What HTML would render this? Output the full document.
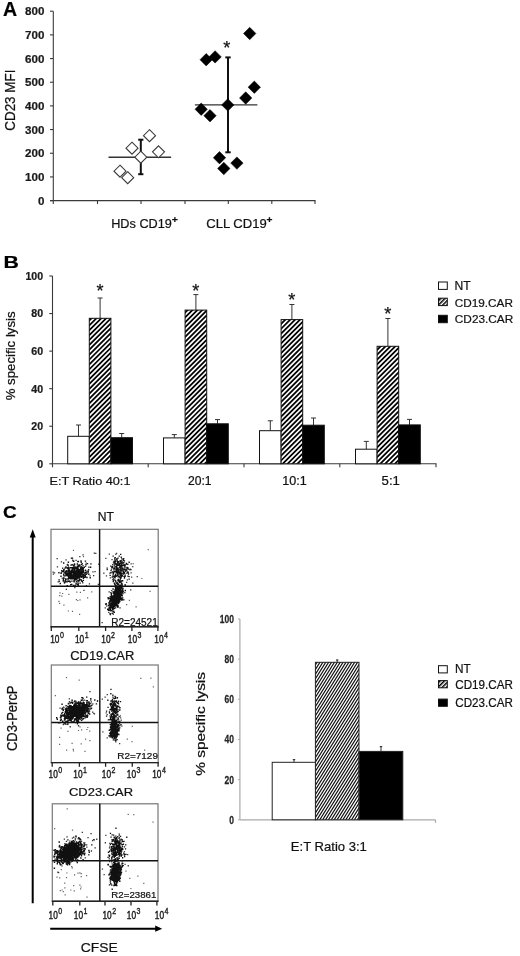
<!DOCTYPE html>
<html><head><meta charset="utf-8"><style>
html,body{margin:0;padding:0;background:#fff;}
svg{display:block;filter:grayscale(1) blur(0.3px);}
text{font-family:"Liberation Sans", sans-serif;stroke:#111;stroke-width:0.22px;paint-order:stroke;}
</style></head><body>
<svg width="520" height="956" viewBox="0 0 520 956">
<defs>
<pattern id="hB" patternUnits="userSpaceOnUse" width="3.45" height="3.45" patternTransform="rotate(45)"><rect x="0" y="0" width="1.75" height="3.45" fill="#000"/></pattern>
<pattern id="hL" patternUnits="userSpaceOnUse" width="3" height="3" patternTransform="rotate(45)"><rect x="0" y="0" width="1.5" height="3" fill="#000"/></pattern>
<pattern id="hC" patternUnits="userSpaceOnUse" width="2.35" height="2.35" patternTransform="rotate(32)"><rect x="0" y="0" width="1.0" height="2.35" fill="#111"/></pattern>
</defs>
<rect width="520" height="956" fill="#fff"/>
<text x="2.91" y="16.20" font-size="19.48" font-weight="bold" fill="#000" textLength="14.10" lengthAdjust="spacingAndGlyphs">A</text><line x1="53.3" y1="11.2" x2="53.3" y2="204.1" stroke="#3a3a3a" stroke-width="1.1"/><line x1="50" y1="200.6" x2="315.5" y2="200.6" stroke="#3a3a3a" stroke-width="1.1"/><line x1="50" y1="200.6" x2="53.3" y2="200.6" stroke="#3a3a3a" stroke-width="1.1"/><text x="44.4" y="204.70" font-size="11.6" font-weight="bold" text-anchor="end" fill="#1a1a1a">0</text><line x1="50" y1="176.92499999999998" x2="53.3" y2="176.92499999999998" stroke="#3a3a3a" stroke-width="1.1"/><text x="44.4" y="181.02" font-size="11.6" font-weight="bold" text-anchor="end" fill="#1a1a1a">100</text><line x1="50" y1="153.25" x2="53.3" y2="153.25" stroke="#3a3a3a" stroke-width="1.1"/><text x="44.4" y="157.35" font-size="11.6" font-weight="bold" text-anchor="end" fill="#1a1a1a">200</text><line x1="50" y1="129.575" x2="53.3" y2="129.575" stroke="#3a3a3a" stroke-width="1.1"/><text x="44.4" y="133.67" font-size="11.6" font-weight="bold" text-anchor="end" fill="#1a1a1a">300</text><line x1="50" y1="105.89999999999999" x2="53.3" y2="105.89999999999999" stroke="#3a3a3a" stroke-width="1.1"/><text x="44.4" y="110.00" font-size="11.6" font-weight="bold" text-anchor="end" fill="#1a1a1a">400</text><line x1="50" y1="82.225" x2="53.3" y2="82.225" stroke="#3a3a3a" stroke-width="1.1"/><text x="44.4" y="86.32" font-size="11.6" font-weight="bold" text-anchor="end" fill="#1a1a1a">500</text><line x1="50" y1="58.54999999999998" x2="53.3" y2="58.54999999999998" stroke="#3a3a3a" stroke-width="1.1"/><text x="44.4" y="62.65" font-size="11.6" font-weight="bold" text-anchor="end" fill="#1a1a1a">600</text><line x1="50" y1="34.875" x2="53.3" y2="34.875" stroke="#3a3a3a" stroke-width="1.1"/><text x="44.4" y="38.98" font-size="11.6" font-weight="bold" text-anchor="end" fill="#1a1a1a">700</text><line x1="50" y1="11.199999999999989" x2="53.3" y2="11.199999999999989" stroke="#3a3a3a" stroke-width="1.1"/><text x="44.4" y="15.30" font-size="11.6" font-weight="bold" text-anchor="end" fill="#1a1a1a">800</text><line x1="97.5" y1="200.6" x2="97.5" y2="204.1" stroke="#3a3a3a" stroke-width="1.1"/><line x1="141" y1="200.6" x2="141" y2="204.1" stroke="#3a3a3a" stroke-width="1.1"/><line x1="185" y1="200.6" x2="185" y2="204.1" stroke="#3a3a3a" stroke-width="1.1"/><line x1="228.3" y1="200.6" x2="228.3" y2="204.1" stroke="#3a3a3a" stroke-width="1.1"/><line x1="271.8" y1="200.6" x2="271.8" y2="204.1" stroke="#3a3a3a" stroke-width="1.1"/><line x1="315" y1="200.6" x2="315" y2="204.1" stroke="#3a3a3a" stroke-width="1.1"/><text x="0" y="0" font-size="13.96" fill="#111" textLength="61.12" lengthAdjust="spacingAndGlyphs" transform="translate(15.30 130.73) rotate(-90)">CD23 MFI</text><text x="111.21" y="227.90" font-size="12.96" fill="#111" textLength="60.64" lengthAdjust="spacingAndGlyphs">HDs CD19</text><text x="171.76" y="222.90" font-size="9.55" font-weight="bold" fill="#111" textLength="6.17" lengthAdjust="spacingAndGlyphs">+</text><text x="206.29" y="227.80" font-size="12.82" fill="#111" textLength="60.47" lengthAdjust="spacingAndGlyphs">CLL CD19</text><text x="266.57" y="222.90" font-size="9.55" font-weight="bold" fill="#111" textLength="5.94" lengthAdjust="spacingAndGlyphs">+</text><line x1="108.5" y1="157.2" x2="171.1" y2="157.2" stroke="#333" stroke-width="1.4"/><line x1="140.8" y1="139.7" x2="140.8" y2="174.2" stroke="#111" stroke-width="2"/><line x1="138.2" y1="139.7" x2="143.4" y2="139.7" stroke="#111" stroke-width="2"/><line x1="138.2" y1="174.2" x2="143.4" y2="174.2" stroke="#111" stroke-width="2"/><path d="M149.5 129.7L155.5 135.7L149.5 141.7L143.5 135.7Z" fill="#fff" stroke="#3a3a3a" stroke-width="1.1"/><path d="M132 142.2L138.0 148.2L132 154.2L126.0 148.2Z" fill="#fff" stroke="#3a3a3a" stroke-width="1.1"/><path d="M158.5 145.8L164.5 151.8L158.5 157.8L152.5 151.8Z" fill="#fff" stroke="#3a3a3a" stroke-width="1.1"/><path d="M120 165.2L126.0 171.2L120 177.2L114.0 171.2Z" fill="#fff" stroke="#3a3a3a" stroke-width="1.1"/><path d="M127.7 171.7L133.7 177.7L127.7 183.7L121.7 177.7Z" fill="#fff" stroke="#3a3a3a" stroke-width="1.1"/><path d="M140.8 151.2L146.8 157.2L140.8 163.2L134.8 157.2Z" fill="#fff" stroke="#3a3a3a" stroke-width="1.1"/><line x1="194.9" y1="104.9" x2="257.4" y2="104.9" stroke="#333" stroke-width="1.4"/><line x1="228" y1="57.4" x2="228" y2="152.3" stroke="#111" stroke-width="2"/><line x1="225.3" y1="57.4" x2="230.7" y2="57.4" stroke="#111" stroke-width="2"/><line x1="225.3" y1="152.3" x2="230.7" y2="152.3" stroke="#111" stroke-width="2"/><path d="M227.8 98.7L234.0 104.9L227.8 111.10000000000001L221.60000000000002 104.9Z" fill="#000" stroke="#000" stroke-width="0.5"/><path d="M249.7 27.3L255.89999999999998 33.5L249.7 39.7L243.5 33.5Z" fill="#000" stroke="#000" stroke-width="0.5"/><path d="M206.2 53.5L212.39999999999998 59.7L206.2 65.9L200.0 59.7Z" fill="#000" stroke="#000" stroke-width="0.5"/><path d="M215.1 50.699999999999996L221.29999999999998 56.9L215.1 63.1L208.9 56.9Z" fill="#000" stroke="#000" stroke-width="0.5"/><path d="M254.3 81.0L260.5 87.2L254.3 93.4L248.10000000000002 87.2Z" fill="#000" stroke="#000" stroke-width="0.5"/><path d="M245.7 91.8L251.89999999999998 98L245.7 104.2L239.5 98Z" fill="#000" stroke="#000" stroke-width="0.5"/><path d="M201.2 103.0L207.39999999999998 109.2L201.2 115.4L195.0 109.2Z" fill="#000" stroke="#000" stroke-width="0.5"/><path d="M210 109.5L216.2 115.7L210 121.9L203.8 115.7Z" fill="#000" stroke="#000" stroke-width="0.5"/><path d="M219.5 151.5L225.7 157.7L219.5 163.89999999999998L213.3 157.7Z" fill="#000" stroke="#000" stroke-width="0.5"/><path d="M236.9 156.9L243.1 163.1L236.9 169.29999999999998L230.70000000000002 163.1Z" fill="#000" stroke="#000" stroke-width="0.5"/><path d="M223.8 162.3L230.0 168.5L223.8 174.7L217.60000000000002 168.5Z" fill="#000" stroke="#000" stroke-width="0.5"/><text x="226.9" y="53.83" font-size="18.2" text-anchor="middle" fill="#111">*</text><text x="3.57" y="267.50" font-size="16.28" font-weight="bold" fill="#000" textLength="15.39" lengthAdjust="spacingAndGlyphs">B</text><line x1="52.5" y1="276.0" x2="52.5" y2="467.3" stroke="#3a3a3a" stroke-width="1.1"/><line x1="52.5" y1="463.8" x2="436.5" y2="463.8" stroke="#3a3a3a" stroke-width="1.1"/><line x1="49.3" y1="463.8" x2="52.5" y2="463.8" stroke="#3a3a3a" stroke-width="1.1"/><text x="43.1" y="467.70" font-size="10.6" font-weight="bold" text-anchor="end" fill="#1a1a1a">0</text><line x1="49.3" y1="426.24" x2="52.5" y2="426.24" stroke="#3a3a3a" stroke-width="1.1"/><text x="43.1" y="430.14" font-size="10.6" font-weight="bold" text-anchor="end" fill="#1a1a1a">20</text><line x1="49.3" y1="388.68" x2="52.5" y2="388.68" stroke="#3a3a3a" stroke-width="1.1"/><text x="43.1" y="392.58" font-size="10.6" font-weight="bold" text-anchor="end" fill="#1a1a1a">40</text><line x1="49.3" y1="351.12" x2="52.5" y2="351.12" stroke="#3a3a3a" stroke-width="1.1"/><text x="43.1" y="355.02" font-size="10.6" font-weight="bold" text-anchor="end" fill="#1a1a1a">60</text><line x1="49.3" y1="313.56" x2="52.5" y2="313.56" stroke="#3a3a3a" stroke-width="1.1"/><text x="43.1" y="317.46" font-size="10.6" font-weight="bold" text-anchor="end" fill="#1a1a1a">80</text><line x1="49.3" y1="276.0" x2="52.5" y2="276.0" stroke="#3a3a3a" stroke-width="1.1"/><text x="43.1" y="279.90" font-size="10.6" font-weight="bold" text-anchor="end" fill="#1a1a1a">100</text><line x1="148.2" y1="463.8" x2="148.2" y2="467.3" stroke="#3a3a3a" stroke-width="1.1"/><line x1="244" y1="463.8" x2="244" y2="467.3" stroke="#3a3a3a" stroke-width="1.1"/><line x1="339.8" y1="463.8" x2="339.8" y2="467.3" stroke="#3a3a3a" stroke-width="1.1"/><line x1="436" y1="463.8" x2="436" y2="467.3" stroke="#3a3a3a" stroke-width="1.1"/><text x="0" y="0" font-size="13.18" fill="#111" textLength="88.95" lengthAdjust="spacingAndGlyphs" transform="translate(14.90 400.32) rotate(-90)">% specific lysis</text><line x1="78.5" y1="425.0" x2="78.5" y2="436.3" stroke="#333" stroke-width="1"/><line x1="76.0" y1="425.0" x2="81.0" y2="425.0" stroke="#333" stroke-width="1"/><rect x="67.7" y="436.3" width="21.6" height="27.5" fill="#fff" stroke="#111" stroke-width="1"/><line x1="100.10000000000001" y1="298.0" x2="100.10000000000001" y2="318.3" stroke="#333" stroke-width="1"/><line x1="97.60000000000001" y1="298.0" x2="102.60000000000001" y2="298.0" stroke="#333" stroke-width="1"/><rect x="89.30000000000001" y="318.3" width="21.6" height="145.5" fill="#fff"/><clipPath id="c1"><rect x="89.30000000000001" y="318.3" width="21.6" height="145.5"/></clipPath><path clip-path="url(#c1)" d="M-68.22 473.18L182.23 222.73M-65.78 475.62L184.67 225.17M-63.34 478.06L187.11 227.61M-60.91 480.50L189.55 230.04M-58.47 482.94L191.99 232.48M-56.03 485.38L194.43 234.92M-53.59 487.82L196.87 237.36M-51.15 490.26L199.31 239.80M-48.71 492.70L201.75 242.24M-46.27 495.14L204.19 244.68M-43.83 497.58L206.63 247.12M-41.39 500.02L209.07 249.56M-38.95 502.46L211.51 252.00M-36.51 504.90L213.95 254.44M-34.07 507.34L216.39 256.88M-31.63 509.78L218.83 259.32M-29.19 512.22L221.27 261.76M-26.75 514.66L223.71 264.20M-24.31 517.09L226.14 266.64M-21.87 519.53L228.58 269.08M-19.43 521.97L231.02 271.52M-16.99 524.41L233.46 273.96M-14.55 526.85L235.90 276.40M-12.11 529.29L238.34 278.84M-9.68 531.73L240.78 281.27M-7.24 534.17L243.22 283.71M-4.80 536.61L245.66 286.15M-2.36 539.05L248.10 288.59M0.08 541.49L250.54 291.03M2.52 543.93L252.98 293.47M4.96 546.37L255.42 295.91M7.40 548.81L257.86 298.35M9.84 551.25L260.30 300.79M12.28 553.69L262.74 303.23M14.72 556.13L265.18 305.67M17.16 558.57L267.62 308.11" stroke="#000" stroke-width="1.75" fill="none"/><rect x="89.30000000000001" y="318.3" width="21.6" height="145.5" fill="none" stroke="#111" stroke-width="1"/><line x1="121.7" y1="433.5" x2="121.7" y2="437.7" stroke="#333" stroke-width="1"/><line x1="119.2" y1="433.5" x2="124.2" y2="433.5" stroke="#333" stroke-width="1"/><rect x="110.9" y="437.7" width="21.6" height="26.100000000000023" fill="#000" stroke="#111" stroke-width="1"/><text x="100.10000000000001" y="296.93" font-size="18.2" text-anchor="middle" fill="#111">*</text><line x1="174.3" y1="434.6" x2="174.3" y2="437.9" stroke="#333" stroke-width="1"/><line x1="171.8" y1="434.6" x2="176.8" y2="434.6" stroke="#333" stroke-width="1"/><rect x="163.5" y="437.9" width="21.6" height="25.900000000000034" fill="#fff" stroke="#111" stroke-width="1"/><line x1="195.9" y1="294.6" x2="195.9" y2="310.1" stroke="#333" stroke-width="1"/><line x1="193.4" y1="294.6" x2="198.4" y2="294.6" stroke="#333" stroke-width="1"/><rect x="185.1" y="310.1" width="21.6" height="153.7" fill="#fff"/><clipPath id="c2"><rect x="185.1" y="310.1" width="21.6" height="153.7"/></clipPath><path clip-path="url(#c2)" d="M19.84 472.94L281.89 210.89M22.28 475.38L284.33 213.33M24.72 477.82L286.77 215.77M27.16 480.26L289.21 218.21M29.60 482.70L291.65 220.65M32.04 485.14L294.09 223.09M34.48 487.58L296.53 225.53M36.92 490.02L298.97 227.97M39.36 492.46L301.41 230.41M41.80 494.90L303.85 232.85M44.23 497.34L306.29 235.28M46.67 499.78L308.73 237.72M49.11 502.22L311.17 240.16M51.55 504.66L313.61 242.60M53.99 507.10L316.05 245.04M56.43 509.54L318.49 247.48M58.87 511.98L320.93 249.92M61.31 514.42L323.37 252.36M63.75 516.85L325.80 254.80M66.19 519.29L328.24 257.24M68.63 521.73L330.68 259.68M71.07 524.17L333.12 262.12M73.51 526.61L335.56 264.56M75.95 529.05L338.00 267.00M78.39 531.49L340.44 269.44M80.83 533.93L342.88 271.88M83.27 536.37L345.32 274.32M85.71 538.81L347.76 276.76M88.15 541.25L350.20 279.20M90.59 543.69L352.64 281.64M93.03 546.13L355.08 284.08M95.46 548.57L357.52 286.51M97.90 551.01L359.96 288.95M100.34 553.45L362.40 291.39M102.78 555.89L364.84 293.83M105.22 558.33L367.28 296.27M107.66 560.77L369.72 298.71M110.10 563.21L372.16 301.15" stroke="#000" stroke-width="1.75" fill="none"/><rect x="185.1" y="310.1" width="21.6" height="153.7" fill="none" stroke="#111" stroke-width="1"/><line x1="217.5" y1="419.6" x2="217.5" y2="423.8" stroke="#333" stroke-width="1"/><line x1="215.0" y1="419.6" x2="220.0" y2="419.6" stroke="#333" stroke-width="1"/><rect x="206.7" y="423.8" width="21.6" height="40.0" fill="#000" stroke="#111" stroke-width="1"/><text x="195.9" y="297.13" font-size="18.2" text-anchor="middle" fill="#111">*</text><line x1="270.3" y1="420.8" x2="270.3" y2="430.7" stroke="#333" stroke-width="1"/><line x1="267.8" y1="420.8" x2="272.8" y2="420.8" stroke="#333" stroke-width="1"/><rect x="259.5" y="430.7" width="21.6" height="33.10000000000002" fill="#fff" stroke="#111" stroke-width="1"/><line x1="291.90000000000003" y1="304.5" x2="291.90000000000003" y2="319.6" stroke="#333" stroke-width="1"/><line x1="289.40000000000003" y1="304.5" x2="294.40000000000003" y2="304.5" stroke="#333" stroke-width="1"/><rect x="281.1" y="319.6" width="21.6" height="144.2" fill="#fff"/><clipPath id="c3"><rect x="281.1" y="319.6" width="21.6" height="144.2"/></clipPath><path clip-path="url(#c3)" d="M125.85 474.27L374.47 225.65M128.29 476.71L376.91 228.09M130.73 479.15L379.35 230.53M133.17 481.59L381.79 232.97M135.61 484.03L384.23 235.41M138.05 486.47L386.67 237.85M140.49 488.91L389.11 240.29M142.93 491.35L391.55 242.73M145.37 493.79L393.99 245.17M147.81 496.23L396.43 247.61M150.25 498.67L398.87 250.05M152.69 501.10L401.30 252.49M155.13 503.54L403.74 254.93M157.57 505.98L406.18 257.37M160.00 508.42L408.62 259.80M162.44 510.86L411.06 262.24M164.88 513.30L413.50 264.68M167.32 515.74L415.94 267.12M169.76 518.18L418.38 269.56M172.20 520.62L420.82 272.00M174.64 523.06L423.26 274.44M177.08 525.50L425.70 276.88M179.52 527.94L428.14 279.32M181.96 530.38L430.58 281.76M184.40 532.82L433.02 284.20M186.84 535.26L435.46 286.64M189.28 537.70L437.90 289.08M191.72 540.14L440.34 291.52M194.16 542.58L442.78 293.96M196.60 545.02L445.22 296.40M199.04 547.46L447.66 298.84M201.48 549.90L450.10 301.28M203.92 552.33L452.53 303.72M206.36 554.77L454.97 306.16M208.80 557.21L457.41 308.60M211.23 559.65L459.85 311.03" stroke="#000" stroke-width="1.75" fill="none"/><rect x="281.1" y="319.6" width="21.6" height="144.2" fill="none" stroke="#111" stroke-width="1"/><line x1="313.5" y1="418.0" x2="313.5" y2="425.2" stroke="#333" stroke-width="1"/><line x1="311.0" y1="418.0" x2="316.0" y2="418.0" stroke="#333" stroke-width="1"/><rect x="302.7" y="425.2" width="21.6" height="38.60000000000002" fill="#000" stroke="#111" stroke-width="1"/><text x="291.9" y="306.03" font-size="18.2" text-anchor="middle" fill="#111">*</text><line x1="366.3" y1="441.4" x2="366.3" y2="449.2" stroke="#333" stroke-width="1"/><line x1="363.8" y1="441.4" x2="368.8" y2="441.4" stroke="#333" stroke-width="1"/><rect x="355.5" y="449.2" width="21.6" height="14.600000000000023" fill="#fff" stroke="#111" stroke-width="1"/><line x1="387.90000000000003" y1="318.5" x2="387.90000000000003" y2="346.3" stroke="#333" stroke-width="1"/><line x1="385.40000000000003" y1="318.5" x2="390.40000000000003" y2="318.5" stroke="#333" stroke-width="1"/><rect x="377.1" y="346.3" width="21.6" height="117.5" fill="#fff"/><clipPath id="c4"><rect x="377.1" y="346.3" width="21.6" height="117.5"/></clipPath><path clip-path="url(#c4)" d="M247.04 475.05L457.90 264.19M249.48 477.49L460.34 266.63M251.92 479.93L462.78 269.07M254.36 482.37L465.22 271.51M256.80 484.81L467.66 273.95M259.24 487.25L470.10 276.39M261.68 489.69L472.54 278.83M264.12 492.13L474.98 281.27M266.56 494.57L477.42 283.71M269.00 497.01L479.86 286.15M271.44 499.45L482.30 288.59M273.88 501.89L484.74 291.03M276.32 504.33L487.18 293.47M278.76 506.77L489.62 295.91M281.20 509.21L492.06 298.35M283.64 511.65L494.50 300.79M286.08 514.09L496.94 303.23M288.52 516.53L499.38 305.67M290.96 518.96L501.81 308.11M293.39 521.40L504.25 310.54M295.83 523.84L506.69 312.98M298.27 526.28L509.13 315.42M300.71 528.72L511.57 317.86M303.15 531.16L514.01 320.30M305.59 533.60L516.45 322.74M308.03 536.04L518.89 325.18M310.47 538.48L521.33 327.62M312.91 540.92L523.77 330.06M315.35 543.36L526.21 332.50M317.79 545.80L528.65 334.94" stroke="#000" stroke-width="1.75" fill="none"/><rect x="377.1" y="346.3" width="21.6" height="117.5" fill="none" stroke="#111" stroke-width="1"/><line x1="409.5" y1="419.4" x2="409.5" y2="424.9" stroke="#333" stroke-width="1"/><line x1="407.0" y1="419.4" x2="412.0" y2="419.4" stroke="#333" stroke-width="1"/><rect x="398.7" y="424.9" width="21.6" height="38.900000000000034" fill="#000" stroke="#111" stroke-width="1"/><text x="387.9" y="319.53" font-size="18.2" text-anchor="middle" fill="#111">*</text><rect x="438.5" y="282" width="8.8" height="7.4" fill="#fff" stroke="#111" stroke-width="1"/><text x="454.45" y="289.90" font-size="11.85" fill="#111" textLength="16.17" lengthAdjust="spacingAndGlyphs">NT</text><rect x="438.5" y="298.2" width="8.8" height="7.4" fill="url(#hL)" stroke="#111" stroke-width="1"/><text x="454.85" y="307.20" font-size="11.67" fill="#111" textLength="58.04" lengthAdjust="spacingAndGlyphs">CD19.CAR</text><rect x="438.5" y="315.3" width="8.8" height="7.4" fill="#000" stroke="#111" stroke-width="1"/><text x="454.85" y="323.30" font-size="11.67" fill="#111" textLength="58.35" lengthAdjust="spacingAndGlyphs">CD23.CAR</text><text x="49.51" y="484.70" font-size="11.66" fill="#111" textLength="80.96" lengthAdjust="spacingAndGlyphs">E:T Ratio 40:1</text><text x="187.94" y="484.60" font-size="11.96" fill="#111" textLength="23.60" lengthAdjust="spacingAndGlyphs">20:1</text><text x="282.19" y="484.60" font-size="11.96" fill="#111" textLength="24.47" lengthAdjust="spacingAndGlyphs">10:1</text><text x="381.62" y="484.60" font-size="12.14" fill="#111" textLength="18.27" lengthAdjust="spacingAndGlyphs">5:1</text><text x="3.02" y="517.90" font-size="16.47" font-weight="bold" fill="#000" textLength="13.70" lengthAdjust="spacingAndGlyphs">C</text><line x1="32.7" y1="536" x2="32.7" y2="903.3" stroke="#000" stroke-width="2"/><path d="M32.7 529.2 L29.7 537.6 L35.7 537.6 Z" fill="#000"/><line x1="50.2" y1="928.7" x2="156" y2="928.7" stroke="#000" stroke-width="2"/><path d="M162.2 928.7 L155.2 925.6 L155.2 931.8 Z" fill="#000"/><text x="0" y="0" font-size="14.25" fill="#111" textLength="65.64" lengthAdjust="spacingAndGlyphs" transform="translate(17.20 751.11) rotate(-90)">CD3-PercP</text><text x="80.65" y="951.50" font-size="13.68" fill="#111" textLength="37.00" lengthAdjust="spacingAndGlyphs">CFSE</text><path d="M74.7 567.0h1.4v1.4h-1.4zM77.6 569.9h1.4v1.4h-1.4zM71.4 567.4h1.4v1.4h-1.4zM68.4 571.0h1.4v1.4h-1.4zM81.5 563.1h1.4v1.4h-1.4zM65.5 574.8h1.4v1.4h-1.4zM82.4 575.0h1.4v1.4h-1.4zM63.0 562.3h1.4v1.4h-1.4zM76.1 569.5h1.4v1.4h-1.4zM67.5 578.0h1.4v1.4h-1.4zM80.4 573.2h1.4v1.4h-1.4zM75.4 574.9h1.4v1.4h-1.4zM83.2 575.1h1.4v1.4h-1.4zM77.0 575.3h1.4v1.4h-1.4zM64.9 579.6h1.4v1.4h-1.4zM79.5 575.0h1.4v1.4h-1.4zM62.6 571.0h1.4v1.4h-1.4zM78.9 564.3h1.4v1.4h-1.4zM72.9 577.8h1.4v1.4h-1.4zM66.4 581.0h1.4v1.4h-1.4zM77.2 572.1h1.4v1.4h-1.4zM75.9 575.8h1.4v1.4h-1.4zM74.7 578.2h1.4v1.4h-1.4zM70.2 571.4h1.4v1.4h-1.4zM80.0 572.6h1.4v1.4h-1.4zM68.9 577.7h1.4v1.4h-1.4zM82.5 570.3h1.4v1.4h-1.4zM66.0 573.0h1.4v1.4h-1.4zM73.1 571.7h1.4v1.4h-1.4zM82.1 567.7h1.4v1.4h-1.4zM81.3 566.6h1.4v1.4h-1.4zM69.4 576.3h1.4v1.4h-1.4zM80.5 576.4h1.4v1.4h-1.4zM76.0 573.5h1.4v1.4h-1.4zM74.9 575.6h1.4v1.4h-1.4zM73.0 574.4h1.4v1.4h-1.4zM77.3 572.7h1.4v1.4h-1.4zM78.4 575.2h1.4v1.4h-1.4zM85.7 573.6h1.4v1.4h-1.4zM71.5 571.5h1.4v1.4h-1.4zM73.9 577.2h1.4v1.4h-1.4zM72.0 574.9h1.4v1.4h-1.4zM84.7 560.4h1.4v1.4h-1.4zM67.5 574.6h1.4v1.4h-1.4zM76.3 573.9h1.4v1.4h-1.4zM71.5 576.2h1.4v1.4h-1.4zM75.6 570.5h1.4v1.4h-1.4zM88.1 573.5h1.4v1.4h-1.4zM70.8 572.8h1.4v1.4h-1.4zM72.7 572.8h1.4v1.4h-1.4zM58.2 572.0h1.4v1.4h-1.4zM79.8 567.2h1.4v1.4h-1.4zM73.6 577.4h1.4v1.4h-1.4zM79.0 579.4h1.4v1.4h-1.4zM64.1 572.2h1.4v1.4h-1.4zM72.0 576.0h1.4v1.4h-1.4zM80.3 560.2h1.4v1.4h-1.4zM80.3 565.9h1.4v1.4h-1.4zM78.0 565.9h1.4v1.4h-1.4zM75.0 578.4h1.4v1.4h-1.4zM73.1 573.9h1.4v1.4h-1.4zM78.6 573.3h1.4v1.4h-1.4zM73.5 580.1h1.4v1.4h-1.4zM80.1 571.2h1.4v1.4h-1.4zM89.9 566.5h1.4v1.4h-1.4zM79.3 571.4h1.4v1.4h-1.4zM74.8 576.2h1.4v1.4h-1.4zM75.3 575.8h1.4v1.4h-1.4zM65.1 566.8h1.4v1.4h-1.4zM77.6 568.3h1.4v1.4h-1.4zM68.0 566.7h1.4v1.4h-1.4zM81.3 575.8h1.4v1.4h-1.4zM82.5 568.0h1.4v1.4h-1.4zM74.0 567.8h1.4v1.4h-1.4zM78.4 579.9h1.4v1.4h-1.4zM68.8 580.6h1.4v1.4h-1.4zM79.7 571.7h1.4v1.4h-1.4zM62.6 580.3h1.4v1.4h-1.4zM73.4 570.3h1.4v1.4h-1.4zM76.3 574.7h1.4v1.4h-1.4zM82.7 567.6h1.4v1.4h-1.4zM80.6 579.3h1.4v1.4h-1.4zM82.4 571.5h1.4v1.4h-1.4zM69.7 578.0h1.4v1.4h-1.4zM74.7 573.5h1.4v1.4h-1.4zM82.3 571.1h1.4v1.4h-1.4zM60.7 572.3h1.4v1.4h-1.4zM63.2 577.6h1.4v1.4h-1.4zM75.8 570.1h1.4v1.4h-1.4zM73.9 576.8h1.4v1.4h-1.4zM74.5 579.0h1.4v1.4h-1.4zM73.6 577.8h1.4v1.4h-1.4zM82.7 579.7h1.4v1.4h-1.4zM70.1 577.3h1.4v1.4h-1.4zM63.1 568.9h1.4v1.4h-1.4zM62.6 578.8h1.4v1.4h-1.4zM66.9 573.5h1.4v1.4h-1.4zM72.9 573.0h1.4v1.4h-1.4zM70.6 574.3h1.4v1.4h-1.4zM84.4 572.4h1.4v1.4h-1.4zM77.1 577.3h1.4v1.4h-1.4zM72.9 567.3h1.4v1.4h-1.4zM70.8 578.2h1.4v1.4h-1.4zM64.5 571.0h1.4v1.4h-1.4zM79.8 576.2h1.4v1.4h-1.4zM74.0 576.7h1.4v1.4h-1.4zM75.0 567.5h1.4v1.4h-1.4zM64.9 570.8h1.4v1.4h-1.4zM79.4 570.0h1.4v1.4h-1.4zM68.8 569.9h1.4v1.4h-1.4zM65.1 573.2h1.4v1.4h-1.4zM67.2 575.2h1.4v1.4h-1.4zM60.3 575.6h1.4v1.4h-1.4zM70.3 564.4h1.4v1.4h-1.4zM78.2 571.4h1.4v1.4h-1.4zM61.1 570.0h1.4v1.4h-1.4zM75.7 570.8h1.4v1.4h-1.4zM78.5 576.1h1.4v1.4h-1.4zM77.9 574.2h1.4v1.4h-1.4zM81.7 575.4h1.4v1.4h-1.4zM76.6 563.3h1.4v1.4h-1.4zM79.2 578.6h1.4v1.4h-1.4zM72.3 571.0h1.4v1.4h-1.4zM85.3 564.1h1.4v1.4h-1.4zM76.7 583.9h1.4v1.4h-1.4zM68.6 576.6h1.4v1.4h-1.4zM84.9 571.6h1.4v1.4h-1.4zM77.3 576.9h1.4v1.4h-1.4zM68.7 573.0h1.4v1.4h-1.4zM75.7 576.6h1.4v1.4h-1.4zM73.8 572.1h1.4v1.4h-1.4zM68.1 571.8h1.4v1.4h-1.4zM79.2 573.1h1.4v1.4h-1.4zM69.1 569.5h1.4v1.4h-1.4zM89.5 577.0h1.4v1.4h-1.4zM77.7 560.8h1.4v1.4h-1.4zM77.6 574.9h1.4v1.4h-1.4zM83.8 574.2h1.4v1.4h-1.4zM73.6 575.4h1.4v1.4h-1.4zM62.7 578.6h1.4v1.4h-1.4zM75.9 569.6h1.4v1.4h-1.4zM81.7 580.7h1.4v1.4h-1.4zM65.9 570.6h1.4v1.4h-1.4zM75.7 573.7h1.4v1.4h-1.4zM71.7 568.7h1.4v1.4h-1.4zM86.3 576.8h1.4v1.4h-1.4zM67.1 567.4h1.4v1.4h-1.4zM83.9 576.7h1.4v1.4h-1.4zM84.6 575.9h1.4v1.4h-1.4zM68.9 574.6h1.4v1.4h-1.4zM61.5 570.6h1.4v1.4h-1.4zM73.7 575.4h1.4v1.4h-1.4zM69.8 572.8h1.4v1.4h-1.4zM76.7 574.5h1.4v1.4h-1.4zM77.7 573.7h1.4v1.4h-1.4zM72.1 576.8h1.4v1.4h-1.4zM74.3 569.2h1.4v1.4h-1.4zM70.4 573.3h1.4v1.4h-1.4zM73.4 573.8h1.4v1.4h-1.4zM74.0 573.8h1.4v1.4h-1.4zM73.2 567.3h1.4v1.4h-1.4zM76.4 577.6h1.4v1.4h-1.4zM76.5 571.9h1.4v1.4h-1.4zM76.6 568.4h1.4v1.4h-1.4zM63.0 574.1h1.4v1.4h-1.4zM68.6 576.8h1.4v1.4h-1.4zM67.7 561.5h1.4v1.4h-1.4zM68.0 580.7h1.4v1.4h-1.4zM71.8 566.9h1.4v1.4h-1.4zM69.6 575.7h1.4v1.4h-1.4zM76.9 573.6h1.4v1.4h-1.4zM82.6 575.6h1.4v1.4h-1.4zM73.9 575.7h1.4v1.4h-1.4zM83.6 576.7h1.4v1.4h-1.4zM79.9 567.6h1.4v1.4h-1.4zM73.1 576.4h1.4v1.4h-1.4zM72.3 578.0h1.4v1.4h-1.4zM77.5 576.9h1.4v1.4h-1.4zM72.8 584.8h1.4v1.4h-1.4zM81.2 571.4h1.4v1.4h-1.4zM74.5 584.8h1.4v1.4h-1.4zM72.0 577.2h1.4v1.4h-1.4zM79.7 572.6h1.4v1.4h-1.4zM67.2 574.4h1.4v1.4h-1.4zM76.1 578.0h1.4v1.4h-1.4zM78.5 572.8h1.4v1.4h-1.4zM79.0 575.1h1.4v1.4h-1.4zM75.2 573.2h1.4v1.4h-1.4zM72.6 576.3h1.4v1.4h-1.4zM67.9 570.6h1.4v1.4h-1.4zM74.0 566.3h1.4v1.4h-1.4zM71.5 564.0h1.4v1.4h-1.4zM70.0 575.9h1.4v1.4h-1.4zM77.3 572.5h1.4v1.4h-1.4zM72.7 566.6h1.4v1.4h-1.4zM84.6 574.5h1.4v1.4h-1.4zM80.3 568.5h1.4v1.4h-1.4zM72.9 564.8h1.4v1.4h-1.4zM78.5 576.9h1.4v1.4h-1.4zM63.0 573.6h1.4v1.4h-1.4zM77.7 564.6h1.4v1.4h-1.4zM63.4 569.0h1.4v1.4h-1.4zM70.4 566.9h1.4v1.4h-1.4zM74.2 574.1h1.4v1.4h-1.4zM77.7 575.9h1.4v1.4h-1.4zM82.7 577.6h1.4v1.4h-1.4zM66.4 571.3h1.4v1.4h-1.4zM67.9 568.6h1.4v1.4h-1.4zM73.5 573.1h1.4v1.4h-1.4zM76.8 565.5h1.4v1.4h-1.4zM66.8 573.5h1.4v1.4h-1.4zM72.8 571.7h1.4v1.4h-1.4zM73.6 569.6h1.4v1.4h-1.4zM78.1 574.3h1.4v1.4h-1.4zM73.5 570.0h1.4v1.4h-1.4zM73.0 560.6h1.4v1.4h-1.4zM68.3 573.6h1.4v1.4h-1.4zM65.3 574.6h1.4v1.4h-1.4zM74.9 566.6h1.4v1.4h-1.4zM72.5 571.7h1.4v1.4h-1.4zM76.7 575.6h1.4v1.4h-1.4zM73.8 569.1h1.4v1.4h-1.4zM73.2 572.8h1.4v1.4h-1.4zM78.3 574.0h1.4v1.4h-1.4zM69.8 567.1h1.4v1.4h-1.4zM71.8 569.8h1.4v1.4h-1.4zM67.6 573.0h1.4v1.4h-1.4zM71.2 573.7h1.4v1.4h-1.4zM77.0 570.9h1.4v1.4h-1.4zM87.5 570.5h1.4v1.4h-1.4zM80.4 573.1h1.4v1.4h-1.4zM80.5 561.6h1.4v1.4h-1.4zM69.6 574.5h1.4v1.4h-1.4zM77.5 583.4h1.4v1.4h-1.4zM75.9 578.7h1.4v1.4h-1.4zM78.4 577.0h1.4v1.4h-1.4zM77.0 572.1h1.4v1.4h-1.4zM77.0 567.8h1.4v1.4h-1.4zM80.9 567.8h1.4v1.4h-1.4zM75.4 582.6h1.4v1.4h-1.4zM72.7 573.2h1.4v1.4h-1.4zM80.7 572.6h1.4v1.4h-1.4zM69.3 574.6h1.4v1.4h-1.4zM77.4 576.0h1.4v1.4h-1.4zM69.5 581.4h1.4v1.4h-1.4zM83.7 572.3h1.4v1.4h-1.4zM75.6 570.9h1.4v1.4h-1.4zM82.2 569.1h1.4v1.4h-1.4zM77.9 570.5h1.4v1.4h-1.4zM70.0 576.6h1.4v1.4h-1.4zM81.7 572.3h1.4v1.4h-1.4zM70.1 577.0h1.4v1.4h-1.4zM73.7 574.4h1.4v1.4h-1.4zM82.8 577.5h1.4v1.4h-1.4zM71.0 583.7h1.4v1.4h-1.4zM74.0 576.6h1.4v1.4h-1.4zM70.2 573.1h1.4v1.4h-1.4zM63.9 582.0h1.4v1.4h-1.4zM81.9 566.8h1.4v1.4h-1.4zM65.3 566.3h1.4v1.4h-1.4zM80.8 570.4h1.4v1.4h-1.4zM73.6 571.6h1.4v1.4h-1.4zM73.3 568.1h1.4v1.4h-1.4zM74.1 566.4h1.4v1.4h-1.4zM73.6 574.4h1.4v1.4h-1.4zM76.7 571.7h1.4v1.4h-1.4zM68.8 574.1h1.4v1.4h-1.4zM71.2 580.4h1.4v1.4h-1.4zM78.5 572.1h1.4v1.4h-1.4zM71.3 570.0h1.4v1.4h-1.4zM68.6 571.8h1.4v1.4h-1.4zM75.7 575.2h1.4v1.4h-1.4zM77.3 582.3h1.4v1.4h-1.4zM69.9 573.4h1.4v1.4h-1.4zM90.2 563.2h1.4v1.4h-1.4zM71.0 574.0h1.4v1.4h-1.4zM74.9 574.8h1.4v1.4h-1.4zM72.6 574.8h1.4v1.4h-1.4zM74.3 576.5h1.4v1.4h-1.4zM63.0 569.8h1.4v1.4h-1.4zM74.0 568.3h1.4v1.4h-1.4zM67.9 576.4h1.4v1.4h-1.4zM70.2 576.2h1.4v1.4h-1.4zM78.3 574.1h1.4v1.4h-1.4zM76.9 572.3h1.4v1.4h-1.4zM65.8 573.5h1.4v1.4h-1.4zM76.6 570.4h1.4v1.4h-1.4zM73.4 576.5h1.4v1.4h-1.4zM68.9 576.3h1.4v1.4h-1.4zM84.8 569.6h1.4v1.4h-1.4zM74.8 572.2h1.4v1.4h-1.4zM82.9 573.7h1.4v1.4h-1.4zM79.2 569.4h1.4v1.4h-1.4zM73.9 573.0h1.4v1.4h-1.4zM63.7 580.4h1.4v1.4h-1.4zM79.2 564.6h1.4v1.4h-1.4zM78.3 572.1h1.4v1.4h-1.4zM76.6 574.5h1.4v1.4h-1.4zM65.3 572.7h1.4v1.4h-1.4zM82.7 569.7h1.4v1.4h-1.4zM68.1 567.2h1.4v1.4h-1.4zM66.9 575.1h1.4v1.4h-1.4zM83.8 574.2h1.4v1.4h-1.4zM75.4 583.1h1.4v1.4h-1.4zM71.0 570.2h1.4v1.4h-1.4zM77.1 575.3h1.4v1.4h-1.4zM68.1 568.1h1.4v1.4h-1.4zM75.7 574.0h1.4v1.4h-1.4zM66.4 572.7h1.4v1.4h-1.4zM70.9 575.4h1.4v1.4h-1.4zM73.3 572.7h1.4v1.4h-1.4zM71.9 578.0h1.4v1.4h-1.4zM82.1 570.7h1.4v1.4h-1.4zM78.9 569.1h1.4v1.4h-1.4zM74.4 576.4h1.4v1.4h-1.4zM82.8 570.6h1.4v1.4h-1.4zM73.6 573.9h1.4v1.4h-1.4zM65.3 573.8h1.4v1.4h-1.4zM70.1 575.0h1.4v1.4h-1.4zM67.4 564.5h1.4v1.4h-1.4zM74.2 574.2h1.4v1.4h-1.4zM70.8 577.3h1.4v1.4h-1.4zM72.4 570.4h1.4v1.4h-1.4zM76.8 565.6h1.4v1.4h-1.4zM70.1 573.2h1.4v1.4h-1.4zM78.9 571.9h1.4v1.4h-1.4zM75.8 569.9h1.4v1.4h-1.4zM75.7 580.5h1.4v1.4h-1.4zM70.0 584.1h1.4v1.4h-1.4zM70.3 573.4h1.4v1.4h-1.4zM75.0 577.6h1.4v1.4h-1.4zM66.8 564.0h1.4v1.4h-1.4zM77.5 576.4h1.4v1.4h-1.4zM77.6 584.8h1.4v1.4h-1.4zM75.2 574.1h1.4v1.4h-1.4zM79.4 574.3h1.4v1.4h-1.4zM83.6 566.6h1.4v1.4h-1.4zM71.8 557.4h1.4v1.4h-1.4zM78.7 570.9h1.4v1.4h-1.4zM79.4 582.4h1.4v1.4h-1.4zM74.0 571.8h1.4v1.4h-1.4zM71.1 569.4h1.4v1.4h-1.4zM70.3 576.2h1.4v1.4h-1.4zM74.2 573.3h1.4v1.4h-1.4zM73.0 577.3h1.4v1.4h-1.4zM76.9 572.1h1.4v1.4h-1.4zM77.9 572.0h1.4v1.4h-1.4zM67.3 580.2h1.4v1.4h-1.4zM76.7 568.4h1.4v1.4h-1.4zM80.3 574.1h1.4v1.4h-1.4zM64.9 581.1h1.4v1.4h-1.4zM75.9 576.9h1.4v1.4h-1.4zM75.1 572.2h1.4v1.4h-1.4zM65.0 578.2h1.4v1.4h-1.4zM74.2 571.7h1.4v1.4h-1.4zM76.0 573.2h1.4v1.4h-1.4zM77.9 571.0h1.4v1.4h-1.4zM73.8 563.2h1.4v1.4h-1.4zM71.5 576.3h1.4v1.4h-1.4zM81.8 570.7h1.4v1.4h-1.4zM73.3 580.3h1.4v1.4h-1.4zM72.1 576.5h1.4v1.4h-1.4zM83.7 572.4h1.4v1.4h-1.4zM81.1 569.2h1.4v1.4h-1.4zM75.2 572.6h1.4v1.4h-1.4zM74.7 578.1h1.4v1.4h-1.4zM87.9 568.9h1.4v1.4h-1.4zM70.7 575.5h1.4v1.4h-1.4zM67.9 575.8h1.4v1.4h-1.4zM77.3 571.5h1.4v1.4h-1.4zM77.1 565.7h1.4v1.4h-1.4zM78.4 565.6h1.4v1.4h-1.4zM70.0 570.8h1.4v1.4h-1.4zM71.7 577.1h1.4v1.4h-1.4zM74.5 571.1h1.4v1.4h-1.4zM77.2 580.0h1.4v1.4h-1.4zM74.0 574.7h1.4v1.4h-1.4zM81.2 573.7h1.4v1.4h-1.4zM66.6 585.0h1.4v1.4h-1.4zM86.8 562.9h1.4v1.4h-1.4zM73.8 574.9h1.4v1.4h-1.4zM79.6 575.6h1.4v1.4h-1.4zM72.4 568.3h1.4v1.4h-1.4zM74.6 577.7h1.4v1.4h-1.4zM67.7 568.8h1.4v1.4h-1.4zM73.9 564.1h1.4v1.4h-1.4zM72.5 571.1h1.4v1.4h-1.4zM76.6 569.6h1.4v1.4h-1.4zM68.9 571.6h1.4v1.4h-1.4zM73.7 570.0h1.4v1.4h-1.4zM74.1 576.4h1.4v1.4h-1.4zM80.9 580.3h1.4v1.4h-1.4zM69.5 571.4h1.4v1.4h-1.4zM59.6 582.8h1.4v1.4h-1.4zM69.8 573.2h1.4v1.4h-1.4zM77.0 566.5h1.4v1.4h-1.4zM76.7 572.7h1.4v1.4h-1.4zM63.4 575.2h1.4v1.4h-1.4zM80.9 563.9h1.4v1.4h-1.4zM78.7 573.6h1.4v1.4h-1.4zM76.8 574.8h1.4v1.4h-1.4zM81.6 571.4h1.4v1.4h-1.4zM79.1 570.7h1.4v1.4h-1.4zM78.2 568.9h1.4v1.4h-1.4zM73.4 581.0h1.4v1.4h-1.4zM76.6 572.1h1.4v1.4h-1.4zM67.4 569.9h1.4v1.4h-1.4zM75.1 577.2h1.4v1.4h-1.4zM76.5 575.2h1.4v1.4h-1.4zM73.8 579.2h1.4v1.4h-1.4zM71.7 570.7h1.4v1.4h-1.4zM79.2 572.9h1.4v1.4h-1.4zM72.4 570.5h1.4v1.4h-1.4zM72.5 576.0h1.4v1.4h-1.4zM76.1 567.3h1.4v1.4h-1.4zM76.5 573.6h1.4v1.4h-1.4zM68.2 577.0h1.4v1.4h-1.4zM72.4 571.6h1.4v1.4h-1.4zM78.6 578.7h1.4v1.4h-1.4zM70.0 575.3h1.4v1.4h-1.4z" fill="#111" fill-opacity="1"/><path d="M65.7 588.7h1.3v1.3h-1.3zM69.3 580.7h1.3v1.3h-1.3zM67.9 578.1h1.3v1.3h-1.3zM95.1 552.7h1.3v1.3h-1.3zM69.9 575.8h1.3v1.3h-1.3zM73.1 567.4h1.3v1.3h-1.3zM94.4 571.0h1.3v1.3h-1.3zM58.4 579.1h1.3v1.3h-1.3zM57.6 581.2h1.3v1.3h-1.3zM68.5 573.4h1.3v1.3h-1.3zM86.0 571.9h1.3v1.3h-1.3zM60.8 561.2h1.3v1.3h-1.3zM85.2 576.3h1.3v1.3h-1.3zM66.3 578.6h1.3v1.3h-1.3zM78.7 576.2h1.3v1.3h-1.3zM52.5 571.5h1.3v1.3h-1.3zM82.6 576.5h1.3v1.3h-1.3zM82.4 554.3h1.3v1.3h-1.3zM75.6 575.3h1.3v1.3h-1.3zM98.2 563.6h1.3v1.3h-1.3zM70.9 572.5h1.3v1.3h-1.3zM82.4 568.3h1.3v1.3h-1.3zM84.9 565.7h1.3v1.3h-1.3zM76.5 568.1h1.3v1.3h-1.3zM75.5 567.1h1.3v1.3h-1.3zM58.8 580.7h1.3v1.3h-1.3zM76.9 567.9h1.3v1.3h-1.3zM75.9 578.8h1.3v1.3h-1.3zM64.7 571.9h1.3v1.3h-1.3zM79.1 575.3h1.3v1.3h-1.3zM70.8 557.6h1.3v1.3h-1.3zM85.8 573.4h1.3v1.3h-1.3zM74.1 570.1h1.3v1.3h-1.3zM76.5 568.9h1.3v1.3h-1.3zM64.3 567.6h1.3v1.3h-1.3zM68.3 568.2h1.3v1.3h-1.3zM63.0 577.2h1.3v1.3h-1.3zM61.6 577.5h1.3v1.3h-1.3zM64.4 575.2h1.3v1.3h-1.3zM87.1 572.5h1.3v1.3h-1.3zM67.1 572.8h1.3v1.3h-1.3zM75.4 559.8h1.3v1.3h-1.3zM68.2 573.6h1.3v1.3h-1.3zM69.5 572.9h1.3v1.3h-1.3zM81.0 576.8h1.3v1.3h-1.3zM82.6 575.5h1.3v1.3h-1.3zM71.3 572.1h1.3v1.3h-1.3zM71.4 570.0h1.3v1.3h-1.3zM72.3 560.1h1.3v1.3h-1.3zM70.8 572.1h1.3v1.3h-1.3zM64.7 572.5h1.3v1.3h-1.3zM78.9 570.5h1.3v1.3h-1.3zM93.7 552.4h1.3v1.3h-1.3zM72.0 559.4h1.3v1.3h-1.3zM83.3 589.8h1.3v1.3h-1.3zM78.9 569.5h1.3v1.3h-1.3zM79.2 556.0h1.3v1.3h-1.3zM82.1 574.0h1.3v1.3h-1.3zM74.2 567.9h1.3v1.3h-1.3zM80.1 568.2h1.3v1.3h-1.3zM76.1 568.3h1.3v1.3h-1.3zM52.7 573.4h1.3v1.3h-1.3zM75.9 577.1h1.3v1.3h-1.3zM65.7 572.4h1.3v1.3h-1.3zM79.9 572.6h1.3v1.3h-1.3zM85.8 585.0h1.3v1.3h-1.3zM65.4 559.3h1.3v1.3h-1.3zM82.1 582.1h1.3v1.3h-1.3zM82.8 577.0h1.3v1.3h-1.3zM68.1 567.5h1.3v1.3h-1.3zM82.4 565.0h1.3v1.3h-1.3zM56.8 566.3h1.3v1.3h-1.3zM97.7 583.7h1.3v1.3h-1.3zM67.5 567.4h1.3v1.3h-1.3zM76.2 566.6h1.3v1.3h-1.3zM86.4 570.5h1.3v1.3h-1.3zM63.7 581.9h1.3v1.3h-1.3zM68.5 573.9h1.3v1.3h-1.3zM73.9 569.8h1.3v1.3h-1.3zM77.1 566.9h1.3v1.3h-1.3zM56.5 557.9h1.3v1.3h-1.3zM62.0 567.6h1.3v1.3h-1.3zM73.8 572.4h1.3v1.3h-1.3zM79.3 572.4h1.3v1.3h-1.3zM66.5 567.6h1.3v1.3h-1.3zM53.9 572.3h1.3v1.3h-1.3zM78.6 575.3h1.3v1.3h-1.3zM72.8 570.9h1.3v1.3h-1.3zM82.9 571.5h1.3v1.3h-1.3zM81.0 575.5h1.3v1.3h-1.3zM76.0 580.9h1.3v1.3h-1.3zM68.6 569.9h1.3v1.3h-1.3zM66.3 567.0h1.3v1.3h-1.3zM88.8 583.2h1.3v1.3h-1.3zM74.2 575.9h1.3v1.3h-1.3zM85.2 576.8h1.3v1.3h-1.3zM85.5 562.4h1.3v1.3h-1.3zM67.9 575.6h1.3v1.3h-1.3zM87.6 571.7h1.3v1.3h-1.3zM65.8 570.1h1.3v1.3h-1.3zM67.7 566.5h1.3v1.3h-1.3zM88.3 566.6h1.3v1.3h-1.3zM74.2 587.0h1.3v1.3h-1.3zM85.3 573.5h1.3v1.3h-1.3zM68.2 575.3h1.3v1.3h-1.3zM89.4 575.2h1.3v1.3h-1.3zM86.0 571.8h1.3v1.3h-1.3zM78.9 570.2h1.3v1.3h-1.3zM78.1 580.8h1.3v1.3h-1.3zM60.4 572.6h1.3v1.3h-1.3zM76.3 567.9h1.3v1.3h-1.3zM71.1 577.7h1.3v1.3h-1.3zM93.0 575.0h1.3v1.3h-1.3zM77.1 561.0h1.3v1.3h-1.3zM92.3 571.2h1.3v1.3h-1.3zM73.7 564.2h1.3v1.3h-1.3zM73.5 564.4h1.3v1.3h-1.3zM74.7 575.2h1.3v1.3h-1.3zM74.3 573.9h1.3v1.3h-1.3z" fill="#111" fill-opacity="0.85"/><path d="M115.1 575.4h1.3v1.3h-1.3zM116.0 558.5h1.3v1.3h-1.3zM118.1 564.0h1.3v1.3h-1.3zM114.4 566.2h1.3v1.3h-1.3zM120.3 561.9h1.3v1.3h-1.3zM118.4 575.4h1.3v1.3h-1.3zM122.1 567.2h1.3v1.3h-1.3zM119.6 567.4h1.3v1.3h-1.3zM118.8 571.8h1.3v1.3h-1.3zM118.6 555.5h1.3v1.3h-1.3zM118.9 563.4h1.3v1.3h-1.3zM122.0 564.8h1.3v1.3h-1.3zM119.7 579.3h1.3v1.3h-1.3zM114.2 562.2h1.3v1.3h-1.3zM112.5 555.5h1.3v1.3h-1.3zM110.4 569.9h1.3v1.3h-1.3zM116.1 558.3h1.3v1.3h-1.3zM112.2 571.2h1.3v1.3h-1.3zM115.4 566.1h1.3v1.3h-1.3zM120.5 575.1h1.3v1.3h-1.3zM127.9 573.4h1.3v1.3h-1.3zM119.7 569.0h1.3v1.3h-1.3zM127.3 575.4h1.3v1.3h-1.3zM117.6 570.4h1.3v1.3h-1.3zM120.3 568.3h1.3v1.3h-1.3zM116.7 561.1h1.3v1.3h-1.3zM116.5 560.0h1.3v1.3h-1.3zM124.6 570.8h1.3v1.3h-1.3zM113.5 575.3h1.3v1.3h-1.3zM123.1 558.1h1.3v1.3h-1.3zM127.5 572.2h1.3v1.3h-1.3zM128.5 561.6h1.3v1.3h-1.3zM121.4 570.2h1.3v1.3h-1.3zM119.9 568.9h1.3v1.3h-1.3zM123.8 560.2h1.3v1.3h-1.3zM113.3 560.8h1.3v1.3h-1.3zM116.4 564.9h1.3v1.3h-1.3zM120.7 569.4h1.3v1.3h-1.3zM119.1 564.5h1.3v1.3h-1.3zM117.0 573.0h1.3v1.3h-1.3zM122.5 568.5h1.3v1.3h-1.3zM117.5 576.1h1.3v1.3h-1.3zM116.3 571.4h1.3v1.3h-1.3zM124.3 566.6h1.3v1.3h-1.3zM122.8 562.2h1.3v1.3h-1.3zM123.7 569.0h1.3v1.3h-1.3zM111.7 571.5h1.3v1.3h-1.3zM114.9 574.7h1.3v1.3h-1.3zM115.9 567.1h1.3v1.3h-1.3zM120.3 566.3h1.3v1.3h-1.3zM120.2 565.1h1.3v1.3h-1.3zM122.1 568.0h1.3v1.3h-1.3zM120.0 553.7h1.3v1.3h-1.3zM124.3 568.2h1.3v1.3h-1.3zM110.8 568.5h1.3v1.3h-1.3zM121.1 573.6h1.3v1.3h-1.3zM114.0 576.0h1.3v1.3h-1.3zM118.3 580.5h1.3v1.3h-1.3zM118.3 571.5h1.3v1.3h-1.3zM117.3 562.2h1.3v1.3h-1.3zM124.0 572.7h1.3v1.3h-1.3zM126.1 572.5h1.3v1.3h-1.3zM116.4 559.4h1.3v1.3h-1.3zM116.0 564.5h1.3v1.3h-1.3zM115.3 571.0h1.3v1.3h-1.3zM120.5 566.6h1.3v1.3h-1.3zM119.8 567.2h1.3v1.3h-1.3zM120.0 571.9h1.3v1.3h-1.3zM123.4 564.4h1.3v1.3h-1.3zM112.1 575.4h1.3v1.3h-1.3zM119.5 573.7h1.3v1.3h-1.3zM111.4 566.3h1.3v1.3h-1.3zM119.1 560.5h1.3v1.3h-1.3zM116.6 571.8h1.3v1.3h-1.3zM124.0 576.3h1.3v1.3h-1.3zM115.0 560.7h1.3v1.3h-1.3zM121.4 572.9h1.3v1.3h-1.3zM119.9 561.2h1.3v1.3h-1.3zM122.6 572.1h1.3v1.3h-1.3zM121.5 565.5h1.3v1.3h-1.3zM120.4 572.1h1.3v1.3h-1.3zM116.4 558.4h1.3v1.3h-1.3zM120.5 570.5h1.3v1.3h-1.3zM119.1 572.6h1.3v1.3h-1.3zM116.3 567.6h1.3v1.3h-1.3zM117.6 571.0h1.3v1.3h-1.3zM126.3 566.7h1.3v1.3h-1.3zM128.5 576.0h1.3v1.3h-1.3zM122.6 571.1h1.3v1.3h-1.3zM127.1 567.1h1.3v1.3h-1.3zM118.5 562.5h1.3v1.3h-1.3zM121.2 575.0h1.3v1.3h-1.3zM121.4 570.2h1.3v1.3h-1.3zM118.1 568.9h1.3v1.3h-1.3zM112.4 573.5h1.3v1.3h-1.3zM117.1 562.3h1.3v1.3h-1.3zM115.5 563.7h1.3v1.3h-1.3zM122.9 573.5h1.3v1.3h-1.3zM112.8 572.8h1.3v1.3h-1.3zM123.1 565.0h1.3v1.3h-1.3zM112.2 564.1h1.3v1.3h-1.3zM116.1 569.8h1.3v1.3h-1.3zM117.4 557.5h1.3v1.3h-1.3zM120.1 560.0h1.3v1.3h-1.3zM123.2 561.7h1.3v1.3h-1.3zM115.8 563.6h1.3v1.3h-1.3zM116.5 574.7h1.3v1.3h-1.3zM122.9 571.1h1.3v1.3h-1.3zM120.5 560.0h1.3v1.3h-1.3zM116.6 565.1h1.3v1.3h-1.3zM114.5 570.6h1.3v1.3h-1.3zM115.6 564.3h1.3v1.3h-1.3zM114.2 557.3h1.3v1.3h-1.3zM121.7 574.9h1.3v1.3h-1.3zM119.8 562.9h1.3v1.3h-1.3zM106.6 568.9h1.3v1.3h-1.3zM124.6 569.5h1.3v1.3h-1.3zM123.3 575.7h1.3v1.3h-1.3zM124.2 565.7h1.3v1.3h-1.3zM123.8 572.0h1.3v1.3h-1.3zM111.9 565.9h1.3v1.3h-1.3zM112.5 567.4h1.3v1.3h-1.3zM121.7 562.4h1.3v1.3h-1.3zM109.5 574.8h1.3v1.3h-1.3zM120.7 575.7h1.3v1.3h-1.3zM112.9 573.5h1.3v1.3h-1.3zM128.5 578.4h1.3v1.3h-1.3zM118.0 569.4h1.3v1.3h-1.3zM118.3 573.2h1.3v1.3h-1.3zM123.8 568.5h1.3v1.3h-1.3zM112.7 571.9h1.3v1.3h-1.3zM116.8 571.3h1.3v1.3h-1.3zM120.2 576.4h1.3v1.3h-1.3zM124.2 565.7h1.3v1.3h-1.3zM120.6 577.2h1.3v1.3h-1.3zM116.5 570.3h1.3v1.3h-1.3zM124.5 574.5h1.3v1.3h-1.3zM121.4 561.1h1.3v1.3h-1.3zM113.2 569.3h1.3v1.3h-1.3zM120.8 581.2h1.3v1.3h-1.3zM115.0 573.9h1.3v1.3h-1.3zM122.5 559.3h1.3v1.3h-1.3zM115.2 568.9h1.3v1.3h-1.3zM116.7 567.2h1.3v1.3h-1.3zM121.2 563.8h1.3v1.3h-1.3zM121.1 564.7h1.3v1.3h-1.3zM116.5 570.8h1.3v1.3h-1.3zM116.4 569.5h1.3v1.3h-1.3zM126.4 568.1h1.3v1.3h-1.3zM118.3 571.8h1.3v1.3h-1.3zM117.3 573.6h1.3v1.3h-1.3zM113.1 571.2h1.3v1.3h-1.3zM116.6 563.8h1.3v1.3h-1.3zM127.1 563.6h1.3v1.3h-1.3zM127.1 571.4h1.3v1.3h-1.3zM125.7 562.9h1.3v1.3h-1.3zM124.5 575.6h1.3v1.3h-1.3zM118.5 567.3h1.3v1.3h-1.3zM130.3 568.9h1.3v1.3h-1.3zM117.1 564.7h1.3v1.3h-1.3zM121.1 569.7h1.3v1.3h-1.3zM119.8 577.0h1.3v1.3h-1.3zM117.5 570.5h1.3v1.3h-1.3zM125.7 562.8h1.3v1.3h-1.3zM123.8 577.5h1.3v1.3h-1.3zM112.8 562.3h1.3v1.3h-1.3zM114.2 558.4h1.3v1.3h-1.3zM121.1 558.3h1.3v1.3h-1.3zM121.3 575.6h1.3v1.3h-1.3zM111.6 566.4h1.3v1.3h-1.3zM110.2 572.1h1.3v1.3h-1.3zM115.6 566.6h1.3v1.3h-1.3zM119.3 570.8h1.3v1.3h-1.3zM117.4 568.1h1.3v1.3h-1.3zM116.5 568.6h1.3v1.3h-1.3zM113.6 568.3h1.3v1.3h-1.3zM110.1 565.5h1.3v1.3h-1.3zM127.8 568.4h1.3v1.3h-1.3zM113.2 569.3h1.3v1.3h-1.3zM114.5 559.4h1.3v1.3h-1.3zM115.6 571.8h1.3v1.3h-1.3zM120.8 567.5h1.3v1.3h-1.3zM114.7 562.4h1.3v1.3h-1.3zM125.2 569.3h1.3v1.3h-1.3zM114.6 557.0h1.3v1.3h-1.3zM112.7 580.9h1.3v1.3h-1.3zM113.7 567.6h1.3v1.3h-1.3zM120.0 567.2h1.3v1.3h-1.3zM117.7 560.9h1.3v1.3h-1.3zM114.2 576.8h1.3v1.3h-1.3zM115.5 572.4h1.3v1.3h-1.3zM111.2 566.6h1.3v1.3h-1.3zM120.2 573.4h1.3v1.3h-1.3zM113.8 571.1h1.3v1.3h-1.3zM120.8 564.2h1.3v1.3h-1.3zM121.2 563.3h1.3v1.3h-1.3zM115.3 567.9h1.3v1.3h-1.3zM106.5 567.4h1.3v1.3h-1.3zM114.4 560.4h1.3v1.3h-1.3zM117.0 572.0h1.3v1.3h-1.3zM117.1 574.6h1.3v1.3h-1.3zM113.7 561.2h1.3v1.3h-1.3zM126.1 570.1h1.3v1.3h-1.3zM123.3 563.7h1.3v1.3h-1.3zM122.7 569.4h1.3v1.3h-1.3zM122.0 568.1h1.3v1.3h-1.3zM124.5 564.6h1.3v1.3h-1.3zM114.6 560.3h1.3v1.3h-1.3zM124.3 564.2h1.3v1.3h-1.3zM114.2 563.1h1.3v1.3h-1.3zM117.0 561.4h1.3v1.3h-1.3zM117.7 564.7h1.3v1.3h-1.3zM116.5 563.0h1.3v1.3h-1.3zM119.2 565.6h1.3v1.3h-1.3zM119.5 569.3h1.3v1.3h-1.3zM120.6 556.6h1.3v1.3h-1.3zM116.5 563.9h1.3v1.3h-1.3zM122.6 559.8h1.3v1.3h-1.3zM115.7 566.5h1.3v1.3h-1.3zM117.5 573.2h1.3v1.3h-1.3z" fill="#111" fill-opacity="1"/><path d="M115.9 575.7h1.3v1.3h-1.3zM108.7 553.5h1.3v1.3h-1.3zM127.5 571.5h1.3v1.3h-1.3zM122.4 569.0h1.3v1.3h-1.3zM122.4 558.3h1.3v1.3h-1.3zM125.6 563.7h1.3v1.3h-1.3zM125.9 568.7h1.3v1.3h-1.3zM105.2 557.7h1.3v1.3h-1.3zM126.9 566.9h1.3v1.3h-1.3zM116.2 569.9h1.3v1.3h-1.3zM116.0 563.6h1.3v1.3h-1.3zM119.7 569.2h1.3v1.3h-1.3zM129.6 568.4h1.3v1.3h-1.3zM132.2 582.4h1.3v1.3h-1.3zM131.0 576.5h1.3v1.3h-1.3zM119.9 569.1h1.3v1.3h-1.3zM118.0 562.2h1.3v1.3h-1.3zM118.5 562.9h1.3v1.3h-1.3zM130.5 572.3h1.3v1.3h-1.3zM115.9 552.7h1.3v1.3h-1.3zM118.6 564.7h1.3v1.3h-1.3zM111.4 558.9h1.3v1.3h-1.3zM103.2 572.6h1.3v1.3h-1.3zM118.5 588.6h1.3v1.3h-1.3zM118.8 566.8h1.3v1.3h-1.3zM129.1 569.1h1.3v1.3h-1.3zM120.2 565.0h1.3v1.3h-1.3zM114.8 580.0h1.3v1.3h-1.3zM126.0 581.7h1.3v1.3h-1.3zM116.6 568.2h1.3v1.3h-1.3zM112.8 575.7h1.3v1.3h-1.3zM109.2 572.5h1.3v1.3h-1.3zM126.7 579.3h1.3v1.3h-1.3zM112.4 576.7h1.3v1.3h-1.3zM114.0 561.9h1.3v1.3h-1.3zM109.7 577.2h1.3v1.3h-1.3zM130.5 563.2h1.3v1.3h-1.3zM113.7 565.3h1.3v1.3h-1.3zM136.6 576.0h1.3v1.3h-1.3zM115.2 553.6h1.3v1.3h-1.3zM114.3 577.5h1.3v1.3h-1.3zM132.1 565.9h1.3v1.3h-1.3zM114.2 563.9h1.3v1.3h-1.3zM105.8 575.3h1.3v1.3h-1.3zM111.4 576.5h1.3v1.3h-1.3z" fill="#111" fill-opacity="0.8"/><path d="M112.7 578.2h1.3v1.3h-1.3zM117.7 579.7h1.3v1.3h-1.3zM119.0 582.0h1.3v1.3h-1.3zM114.1 583.9h1.3v1.3h-1.3zM119.1 576.3h1.3v1.3h-1.3zM121.6 583.5h1.3v1.3h-1.3zM118.9 576.4h1.3v1.3h-1.3zM115.2 581.0h1.3v1.3h-1.3zM119.7 577.6h1.3v1.3h-1.3zM114.8 575.9h1.3v1.3h-1.3zM116.4 583.0h1.3v1.3h-1.3zM112.8 580.2h1.3v1.3h-1.3zM118.3 586.8h1.3v1.3h-1.3zM118.7 581.1h1.3v1.3h-1.3zM114.1 579.2h1.3v1.3h-1.3zM115.3 582.4h1.3v1.3h-1.3zM116.9 587.0h1.3v1.3h-1.3zM117.7 578.8h1.3v1.3h-1.3zM120.9 584.8h1.3v1.3h-1.3zM117.3 579.8h1.3v1.3h-1.3zM112.3 578.9h1.3v1.3h-1.3zM119.3 579.6h1.3v1.3h-1.3zM113.7 582.6h1.3v1.3h-1.3zM117.6 583.8h1.3v1.3h-1.3zM118.6 586.2h1.3v1.3h-1.3zM114.9 584.9h1.3v1.3h-1.3zM114.5 584.1h1.3v1.3h-1.3zM117.4 582.7h1.3v1.3h-1.3zM119.4 581.9h1.3v1.3h-1.3zM119.8 584.6h1.3v1.3h-1.3zM117.3 580.3h1.3v1.3h-1.3zM115.1 580.4h1.3v1.3h-1.3zM116.5 581.9h1.3v1.3h-1.3zM124.5 583.9h1.3v1.3h-1.3zM118.9 579.4h1.3v1.3h-1.3zM115.2 581.0h1.3v1.3h-1.3zM117.5 578.9h1.3v1.3h-1.3zM121.0 580.3h1.3v1.3h-1.3zM119.7 575.0h1.3v1.3h-1.3zM117.0 582.8h1.3v1.3h-1.3z" fill="#111" fill-opacity="1"/><path d="M116.1 599.1h1.4v1.4h-1.4zM116.3 596.9h1.4v1.4h-1.4zM109.8 599.4h1.4v1.4h-1.4zM108.5 606.6h1.4v1.4h-1.4zM116.4 595.2h1.4v1.4h-1.4zM113.0 596.8h1.4v1.4h-1.4zM121.0 599.3h1.4v1.4h-1.4zM115.3 602.9h1.4v1.4h-1.4zM110.7 593.1h1.4v1.4h-1.4zM114.1 594.5h1.4v1.4h-1.4zM113.8 599.5h1.4v1.4h-1.4zM124.6 585.3h1.4v1.4h-1.4zM115.6 598.1h1.4v1.4h-1.4zM115.4 601.2h1.4v1.4h-1.4zM120.8 586.3h1.4v1.4h-1.4zM116.0 595.4h1.4v1.4h-1.4zM116.6 589.2h1.4v1.4h-1.4zM110.2 591.9h1.4v1.4h-1.4zM117.1 596.3h1.4v1.4h-1.4zM115.7 586.3h1.4v1.4h-1.4zM114.4 594.7h1.4v1.4h-1.4zM111.3 597.1h1.4v1.4h-1.4zM117.6 597.4h1.4v1.4h-1.4zM115.4 599.3h1.4v1.4h-1.4zM113.7 599.1h1.4v1.4h-1.4zM115.6 599.3h1.4v1.4h-1.4zM115.3 596.6h1.4v1.4h-1.4zM115.1 594.5h1.4v1.4h-1.4zM122.2 592.8h1.4v1.4h-1.4zM116.8 605.9h1.4v1.4h-1.4zM119.7 586.0h1.4v1.4h-1.4zM117.6 598.7h1.4v1.4h-1.4zM121.2 597.3h1.4v1.4h-1.4zM117.8 589.5h1.4v1.4h-1.4zM112.9 600.7h1.4v1.4h-1.4zM117.0 591.0h1.4v1.4h-1.4zM114.3 596.3h1.4v1.4h-1.4zM115.7 598.3h1.4v1.4h-1.4zM114.6 592.4h1.4v1.4h-1.4zM119.2 600.4h1.4v1.4h-1.4zM115.2 601.8h1.4v1.4h-1.4zM116.8 598.6h1.4v1.4h-1.4zM116.9 592.2h1.4v1.4h-1.4zM117.2 599.8h1.4v1.4h-1.4zM112.8 608.3h1.4v1.4h-1.4zM121.8 599.0h1.4v1.4h-1.4zM121.5 594.5h1.4v1.4h-1.4zM114.5 595.3h1.4v1.4h-1.4zM113.1 599.9h1.4v1.4h-1.4zM115.4 600.1h1.4v1.4h-1.4zM109.4 613.1h1.4v1.4h-1.4zM122.3 590.2h1.4v1.4h-1.4zM117.5 597.1h1.4v1.4h-1.4zM116.3 595.3h1.4v1.4h-1.4zM115.1 593.7h1.4v1.4h-1.4zM116.0 596.4h1.4v1.4h-1.4zM116.5 592.3h1.4v1.4h-1.4zM115.6 597.1h1.4v1.4h-1.4zM117.3 590.5h1.4v1.4h-1.4zM116.8 600.1h1.4v1.4h-1.4zM117.3 593.6h1.4v1.4h-1.4zM114.0 597.4h1.4v1.4h-1.4zM117.7 601.7h1.4v1.4h-1.4zM115.0 594.6h1.4v1.4h-1.4zM116.6 596.8h1.4v1.4h-1.4zM112.8 596.4h1.4v1.4h-1.4zM115.2 600.3h1.4v1.4h-1.4zM111.9 596.0h1.4v1.4h-1.4zM117.0 590.1h1.4v1.4h-1.4zM115.8 598.2h1.4v1.4h-1.4zM115.2 592.8h1.4v1.4h-1.4zM115.3 595.7h1.4v1.4h-1.4zM116.5 592.3h1.4v1.4h-1.4zM118.8 586.4h1.4v1.4h-1.4zM115.0 597.5h1.4v1.4h-1.4zM118.4 591.5h1.4v1.4h-1.4zM117.1 592.9h1.4v1.4h-1.4zM117.7 602.5h1.4v1.4h-1.4zM114.3 600.1h1.4v1.4h-1.4zM112.7 604.0h1.4v1.4h-1.4zM119.1 593.6h1.4v1.4h-1.4zM112.1 602.1h1.4v1.4h-1.4zM118.9 598.5h1.4v1.4h-1.4zM117.9 586.5h1.4v1.4h-1.4zM113.5 605.3h1.4v1.4h-1.4zM111.8 605.6h1.4v1.4h-1.4zM121.1 594.9h1.4v1.4h-1.4zM118.9 592.3h1.4v1.4h-1.4zM111.8 600.1h1.4v1.4h-1.4zM114.9 597.4h1.4v1.4h-1.4zM117.6 594.3h1.4v1.4h-1.4zM116.1 598.3h1.4v1.4h-1.4zM115.5 605.2h1.4v1.4h-1.4zM116.8 596.1h1.4v1.4h-1.4zM114.9 594.8h1.4v1.4h-1.4zM119.5 593.7h1.4v1.4h-1.4zM112.3 597.7h1.4v1.4h-1.4zM115.1 595.4h1.4v1.4h-1.4zM118.8 588.7h1.4v1.4h-1.4zM117.0 596.2h1.4v1.4h-1.4zM112.0 600.6h1.4v1.4h-1.4zM115.2 599.5h1.4v1.4h-1.4zM114.1 599.7h1.4v1.4h-1.4zM110.5 597.1h1.4v1.4h-1.4zM117.9 599.3h1.4v1.4h-1.4zM115.5 594.4h1.4v1.4h-1.4zM118.7 584.6h1.4v1.4h-1.4zM113.1 602.3h1.4v1.4h-1.4zM117.5 590.5h1.4v1.4h-1.4zM109.8 608.9h1.4v1.4h-1.4zM116.0 592.6h1.4v1.4h-1.4zM115.7 600.8h1.4v1.4h-1.4zM107.7 609.5h1.4v1.4h-1.4zM117.7 585.6h1.4v1.4h-1.4zM117.8 586.9h1.4v1.4h-1.4zM118.9 595.4h1.4v1.4h-1.4zM122.3 587.7h1.4v1.4h-1.4zM115.5 601.6h1.4v1.4h-1.4zM113.6 595.7h1.4v1.4h-1.4zM114.4 597.8h1.4v1.4h-1.4zM112.3 602.3h1.4v1.4h-1.4zM117.1 595.7h1.4v1.4h-1.4zM120.6 590.6h1.4v1.4h-1.4zM119.4 590.8h1.4v1.4h-1.4zM117.8 586.2h1.4v1.4h-1.4zM116.1 595.6h1.4v1.4h-1.4zM114.0 595.7h1.4v1.4h-1.4zM114.5 594.8h1.4v1.4h-1.4zM108.9 600.8h1.4v1.4h-1.4zM113.9 596.3h1.4v1.4h-1.4zM112.3 599.5h1.4v1.4h-1.4zM117.9 593.6h1.4v1.4h-1.4zM114.0 604.4h1.4v1.4h-1.4zM118.4 598.2h1.4v1.4h-1.4zM119.0 592.2h1.4v1.4h-1.4zM115.1 602.3h1.4v1.4h-1.4zM113.8 598.1h1.4v1.4h-1.4zM116.6 597.5h1.4v1.4h-1.4zM114.7 602.2h1.4v1.4h-1.4zM115.0 600.7h1.4v1.4h-1.4zM118.7 596.8h1.4v1.4h-1.4zM117.7 589.7h1.4v1.4h-1.4zM111.6 598.1h1.4v1.4h-1.4zM116.9 602.3h1.4v1.4h-1.4zM111.8 601.9h1.4v1.4h-1.4zM112.9 596.2h1.4v1.4h-1.4zM114.7 600.9h1.4v1.4h-1.4zM116.1 601.6h1.4v1.4h-1.4zM112.5 603.8h1.4v1.4h-1.4zM118.3 594.6h1.4v1.4h-1.4zM116.9 593.1h1.4v1.4h-1.4zM112.2 598.4h1.4v1.4h-1.4zM113.6 611.7h1.4v1.4h-1.4zM114.0 605.7h1.4v1.4h-1.4zM116.1 597.8h1.4v1.4h-1.4zM117.7 591.4h1.4v1.4h-1.4zM118.2 596.0h1.4v1.4h-1.4zM111.0 604.1h1.4v1.4h-1.4zM117.2 597.4h1.4v1.4h-1.4zM120.3 590.5h1.4v1.4h-1.4zM117.0 598.8h1.4v1.4h-1.4zM112.8 604.9h1.4v1.4h-1.4zM111.1 595.5h1.4v1.4h-1.4zM117.1 590.7h1.4v1.4h-1.4zM115.2 590.1h1.4v1.4h-1.4zM115.7 591.8h1.4v1.4h-1.4zM116.5 589.2h1.4v1.4h-1.4zM116.8 594.5h1.4v1.4h-1.4zM115.7 596.5h1.4v1.4h-1.4zM115.9 590.8h1.4v1.4h-1.4zM107.8 604.6h1.4v1.4h-1.4zM112.7 597.7h1.4v1.4h-1.4zM116.8 587.0h1.4v1.4h-1.4zM113.2 596.5h1.4v1.4h-1.4zM112.3 601.5h1.4v1.4h-1.4zM115.1 593.8h1.4v1.4h-1.4zM112.5 603.4h1.4v1.4h-1.4zM113.5 601.5h1.4v1.4h-1.4zM116.8 587.3h1.4v1.4h-1.4zM112.2 600.2h1.4v1.4h-1.4zM116.5 599.5h1.4v1.4h-1.4zM117.9 599.2h1.4v1.4h-1.4zM114.4 597.2h1.4v1.4h-1.4zM117.8 592.9h1.4v1.4h-1.4zM118.7 586.9h1.4v1.4h-1.4zM117.5 594.3h1.4v1.4h-1.4zM109.6 607.1h1.4v1.4h-1.4zM116.4 596.2h1.4v1.4h-1.4zM112.3 598.1h1.4v1.4h-1.4zM120.0 588.9h1.4v1.4h-1.4zM105.1 603.3h1.4v1.4h-1.4zM111.9 599.9h1.4v1.4h-1.4zM114.3 594.1h1.4v1.4h-1.4zM113.0 604.1h1.4v1.4h-1.4zM111.2 609.9h1.4v1.4h-1.4zM113.9 593.7h1.4v1.4h-1.4zM117.9 597.2h1.4v1.4h-1.4zM112.4 603.4h1.4v1.4h-1.4zM110.0 598.3h1.4v1.4h-1.4zM118.9 592.6h1.4v1.4h-1.4zM111.6 603.1h1.4v1.4h-1.4zM118.3 594.2h1.4v1.4h-1.4zM110.1 600.7h1.4v1.4h-1.4zM116.8 599.2h1.4v1.4h-1.4zM121.1 590.5h1.4v1.4h-1.4zM114.1 598.2h1.4v1.4h-1.4zM119.1 589.3h1.4v1.4h-1.4zM119.4 581.0h1.4v1.4h-1.4zM117.9 591.7h1.4v1.4h-1.4zM116.9 598.7h1.4v1.4h-1.4zM112.0 600.1h1.4v1.4h-1.4zM116.2 598.9h1.4v1.4h-1.4zM112.7 595.3h1.4v1.4h-1.4zM109.7 613.8h1.4v1.4h-1.4zM114.9 596.6h1.4v1.4h-1.4zM111.0 605.5h1.4v1.4h-1.4zM113.9 604.9h1.4v1.4h-1.4zM118.1 594.6h1.4v1.4h-1.4zM117.7 590.0h1.4v1.4h-1.4zM114.5 595.4h1.4v1.4h-1.4zM111.7 600.8h1.4v1.4h-1.4zM115.1 603.8h1.4v1.4h-1.4zM105.4 603.8h1.4v1.4h-1.4zM112.7 597.6h1.4v1.4h-1.4zM116.8 597.6h1.4v1.4h-1.4zM115.6 594.8h1.4v1.4h-1.4zM117.0 597.2h1.4v1.4h-1.4zM110.0 601.2h1.4v1.4h-1.4zM111.4 595.8h1.4v1.4h-1.4zM115.9 596.8h1.4v1.4h-1.4zM115.8 592.8h1.4v1.4h-1.4zM114.9 593.5h1.4v1.4h-1.4zM116.6 598.9h1.4v1.4h-1.4zM120.8 597.5h1.4v1.4h-1.4zM113.1 597.3h1.4v1.4h-1.4zM112.7 601.1h1.4v1.4h-1.4zM121.4 594.4h1.4v1.4h-1.4zM108.9 597.8h1.4v1.4h-1.4zM111.6 603.0h1.4v1.4h-1.4zM115.5 598.3h1.4v1.4h-1.4zM120.8 588.1h1.4v1.4h-1.4zM113.0 608.2h1.4v1.4h-1.4zM116.5 592.6h1.4v1.4h-1.4zM109.4 596.2h1.4v1.4h-1.4zM108.2 604.4h1.4v1.4h-1.4zM115.6 601.3h1.4v1.4h-1.4zM115.1 594.3h1.4v1.4h-1.4zM113.3 607.6h1.4v1.4h-1.4zM110.2 602.9h1.4v1.4h-1.4zM115.6 599.7h1.4v1.4h-1.4zM114.3 600.4h1.4v1.4h-1.4zM117.9 594.0h1.4v1.4h-1.4zM114.1 597.5h1.4v1.4h-1.4zM112.6 598.9h1.4v1.4h-1.4zM114.6 598.8h1.4v1.4h-1.4zM119.5 598.9h1.4v1.4h-1.4zM114.2 601.0h1.4v1.4h-1.4zM116.4 599.5h1.4v1.4h-1.4zM115.6 598.1h1.4v1.4h-1.4zM114.1 594.9h1.4v1.4h-1.4zM118.1 600.2h1.4v1.4h-1.4zM117.5 597.0h1.4v1.4h-1.4zM116.3 594.2h1.4v1.4h-1.4zM110.2 605.1h1.4v1.4h-1.4zM116.1 594.0h1.4v1.4h-1.4zM112.6 605.5h1.4v1.4h-1.4zM110.1 610.1h1.4v1.4h-1.4zM117.4 605.6h1.4v1.4h-1.4zM113.3 599.0h1.4v1.4h-1.4zM114.0 599.2h1.4v1.4h-1.4zM114.9 594.3h1.4v1.4h-1.4zM118.7 590.4h1.4v1.4h-1.4zM114.0 600.9h1.4v1.4h-1.4zM113.9 596.6h1.4v1.4h-1.4zM116.6 594.3h1.4v1.4h-1.4zM111.8 600.2h1.4v1.4h-1.4zM114.8 605.2h1.4v1.4h-1.4zM112.2 604.5h1.4v1.4h-1.4zM113.1 597.7h1.4v1.4h-1.4zM114.5 599.1h1.4v1.4h-1.4zM118.1 602.2h1.4v1.4h-1.4zM113.6 604.7h1.4v1.4h-1.4zM118.5 597.7h1.4v1.4h-1.4zM113.2 603.2h1.4v1.4h-1.4zM115.2 598.9h1.4v1.4h-1.4zM114.7 600.7h1.4v1.4h-1.4zM118.8 598.8h1.4v1.4h-1.4zM114.9 602.0h1.4v1.4h-1.4zM119.9 588.6h1.4v1.4h-1.4zM119.9 586.8h1.4v1.4h-1.4zM117.1 598.0h1.4v1.4h-1.4zM119.9 593.9h1.4v1.4h-1.4zM114.1 594.9h1.4v1.4h-1.4zM111.7 604.0h1.4v1.4h-1.4zM114.8 594.5h1.4v1.4h-1.4zM117.1 592.1h1.4v1.4h-1.4zM114.2 596.2h1.4v1.4h-1.4zM120.5 598.7h1.4v1.4h-1.4zM115.0 590.5h1.4v1.4h-1.4zM116.3 596.5h1.4v1.4h-1.4zM116.5 598.5h1.4v1.4h-1.4zM114.5 602.0h1.4v1.4h-1.4zM118.0 595.5h1.4v1.4h-1.4zM114.3 596.1h1.4v1.4h-1.4zM117.6 590.1h1.4v1.4h-1.4zM115.0 594.1h1.4v1.4h-1.4zM111.3 603.7h1.4v1.4h-1.4zM115.4 597.2h1.4v1.4h-1.4zM118.1 587.8h1.4v1.4h-1.4zM115.3 598.5h1.4v1.4h-1.4zM118.0 589.8h1.4v1.4h-1.4zM117.6 595.9h1.4v1.4h-1.4zM119.6 598.1h1.4v1.4h-1.4zM117.1 604.9h1.4v1.4h-1.4zM115.5 595.1h1.4v1.4h-1.4zM114.5 593.8h1.4v1.4h-1.4zM115.4 588.8h1.4v1.4h-1.4zM115.2 599.1h1.4v1.4h-1.4zM118.5 592.6h1.4v1.4h-1.4zM119.7 590.1h1.4v1.4h-1.4zM115.1 589.1h1.4v1.4h-1.4zM113.2 595.7h1.4v1.4h-1.4zM119.9 595.0h1.4v1.4h-1.4zM112.3 602.5h1.4v1.4h-1.4zM116.9 594.6h1.4v1.4h-1.4zM115.6 595.6h1.4v1.4h-1.4zM113.9 590.9h1.4v1.4h-1.4zM115.2 602.8h1.4v1.4h-1.4zM119.7 591.7h1.4v1.4h-1.4zM113.3 598.2h1.4v1.4h-1.4zM118.1 596.0h1.4v1.4h-1.4zM113.8 600.2h1.4v1.4h-1.4zM114.9 599.8h1.4v1.4h-1.4zM114.3 591.8h1.4v1.4h-1.4zM115.7 600.1h1.4v1.4h-1.4zM112.3 599.7h1.4v1.4h-1.4zM118.1 592.9h1.4v1.4h-1.4zM113.6 607.6h1.4v1.4h-1.4zM117.9 599.1h1.4v1.4h-1.4zM112.7 606.7h1.4v1.4h-1.4zM110.7 599.5h1.4v1.4h-1.4zM117.7 600.6h1.4v1.4h-1.4zM112.8 596.8h1.4v1.4h-1.4zM116.1 588.1h1.4v1.4h-1.4zM117.4 597.6h1.4v1.4h-1.4zM114.2 600.6h1.4v1.4h-1.4zM117.8 596.1h1.4v1.4h-1.4zM117.0 602.0h1.4v1.4h-1.4zM114.1 599.0h1.4v1.4h-1.4zM114.0 602.9h1.4v1.4h-1.4zM114.3 600.2h1.4v1.4h-1.4zM115.9 596.9h1.4v1.4h-1.4zM120.5 591.8h1.4v1.4h-1.4zM119.6 596.5h1.4v1.4h-1.4zM119.3 592.6h1.4v1.4h-1.4zM118.2 597.6h1.4v1.4h-1.4zM113.7 599.9h1.4v1.4h-1.4zM115.1 597.2h1.4v1.4h-1.4zM119.3 590.2h1.4v1.4h-1.4zM110.6 594.3h1.4v1.4h-1.4zM114.2 595.5h1.4v1.4h-1.4zM115.5 599.4h1.4v1.4h-1.4zM120.6 593.4h1.4v1.4h-1.4zM116.8 592.6h1.4v1.4h-1.4zM117.2 601.2h1.4v1.4h-1.4zM119.4 584.9h1.4v1.4h-1.4zM118.1 601.3h1.4v1.4h-1.4zM117.9 588.3h1.4v1.4h-1.4zM114.6 600.4h1.4v1.4h-1.4zM116.7 592.4h1.4v1.4h-1.4zM112.9 603.6h1.4v1.4h-1.4zM111.6 606.9h1.4v1.4h-1.4zM115.6 598.2h1.4v1.4h-1.4zM111.6 598.2h1.4v1.4h-1.4zM117.5 588.8h1.4v1.4h-1.4zM121.5 585.2h1.4v1.4h-1.4zM112.0 600.6h1.4v1.4h-1.4zM116.9 598.8h1.4v1.4h-1.4zM114.4 597.2h1.4v1.4h-1.4zM114.8 595.2h1.4v1.4h-1.4zM108.1 608.3h1.4v1.4h-1.4zM116.2 597.0h1.4v1.4h-1.4zM113.7 599.8h1.4v1.4h-1.4zM115.5 596.7h1.4v1.4h-1.4zM118.7 586.6h1.4v1.4h-1.4zM116.2 591.8h1.4v1.4h-1.4zM114.6 604.3h1.4v1.4h-1.4zM112.4 599.6h1.4v1.4h-1.4zM113.8 602.7h1.4v1.4h-1.4zM112.7 592.6h1.4v1.4h-1.4zM117.0 594.1h1.4v1.4h-1.4zM114.6 602.5h1.4v1.4h-1.4zM112.9 597.9h1.4v1.4h-1.4zM115.9 598.3h1.4v1.4h-1.4zM114.0 602.8h1.4v1.4h-1.4zM122.0 589.0h1.4v1.4h-1.4zM120.9 582.8h1.4v1.4h-1.4zM119.6 591.6h1.4v1.4h-1.4zM115.9 595.2h1.4v1.4h-1.4zM113.7 593.4h1.4v1.4h-1.4zM114.4 603.6h1.4v1.4h-1.4zM118.8 592.3h1.4v1.4h-1.4zM114.0 595.5h1.4v1.4h-1.4zM112.0 608.0h1.4v1.4h-1.4zM117.4 595.6h1.4v1.4h-1.4zM114.1 594.0h1.4v1.4h-1.4zM119.3 596.6h1.4v1.4h-1.4zM112.8 603.9h1.4v1.4h-1.4zM112.3 602.8h1.4v1.4h-1.4zM112.7 597.9h1.4v1.4h-1.4zM116.9 597.5h1.4v1.4h-1.4zM118.4 590.6h1.4v1.4h-1.4zM120.0 598.3h1.4v1.4h-1.4zM115.5 599.0h1.4v1.4h-1.4zM113.3 598.5h1.4v1.4h-1.4zM111.7 601.1h1.4v1.4h-1.4zM116.1 602.2h1.4v1.4h-1.4zM118.2 597.8h1.4v1.4h-1.4zM114.5 597.1h1.4v1.4h-1.4zM114.5 598.9h1.4v1.4h-1.4zM109.9 605.7h1.4v1.4h-1.4zM111.0 599.2h1.4v1.4h-1.4zM115.6 594.8h1.4v1.4h-1.4zM120.3 591.9h1.4v1.4h-1.4zM120.0 597.6h1.4v1.4h-1.4zM114.1 600.1h1.4v1.4h-1.4zM119.2 592.0h1.4v1.4h-1.4zM115.8 594.4h1.4v1.4h-1.4zM115.7 595.3h1.4v1.4h-1.4zM115.7 601.0h1.4v1.4h-1.4zM119.5 593.7h1.4v1.4h-1.4zM116.1 600.1h1.4v1.4h-1.4zM114.7 593.3h1.4v1.4h-1.4zM118.7 589.9h1.4v1.4h-1.4zM118.2 590.3h1.4v1.4h-1.4zM120.8 587.4h1.4v1.4h-1.4zM117.9 601.0h1.4v1.4h-1.4zM112.7 606.0h1.4v1.4h-1.4zM113.1 591.8h1.4v1.4h-1.4zM117.6 598.0h1.4v1.4h-1.4zM114.9 586.8h1.4v1.4h-1.4zM115.3 595.9h1.4v1.4h-1.4zM114.4 596.8h1.4v1.4h-1.4zM110.3 599.6h1.4v1.4h-1.4zM120.7 598.5h1.4v1.4h-1.4zM114.5 595.0h1.4v1.4h-1.4zM116.6 600.4h1.4v1.4h-1.4zM117.6 590.0h1.4v1.4h-1.4zM116.0 597.1h1.4v1.4h-1.4zM119.6 598.1h1.4v1.4h-1.4zM117.0 600.7h1.4v1.4h-1.4zM114.4 604.6h1.4v1.4h-1.4zM114.3 599.9h1.4v1.4h-1.4zM118.1 590.5h1.4v1.4h-1.4zM113.5 591.5h1.4v1.4h-1.4zM116.0 596.3h1.4v1.4h-1.4zM114.6 600.0h1.4v1.4h-1.4zM109.4 602.8h1.4v1.4h-1.4zM115.8 595.6h1.4v1.4h-1.4zM117.8 602.2h1.4v1.4h-1.4zM114.2 594.3h1.4v1.4h-1.4zM113.8 599.1h1.4v1.4h-1.4zM117.2 591.7h1.4v1.4h-1.4zM118.4 589.9h1.4v1.4h-1.4zM117.9 596.5h1.4v1.4h-1.4zM116.8 604.9h1.4v1.4h-1.4zM114.7 597.0h1.4v1.4h-1.4zM116.9 599.3h1.4v1.4h-1.4zM111.6 601.9h1.4v1.4h-1.4zM113.4 601.8h1.4v1.4h-1.4zM119.4 593.4h1.4v1.4h-1.4zM115.2 598.1h1.4v1.4h-1.4zM107.0 608.5h1.4v1.4h-1.4zM117.1 596.1h1.4v1.4h-1.4zM114.4 595.0h1.4v1.4h-1.4zM115.0 602.7h1.4v1.4h-1.4zM115.2 603.0h1.4v1.4h-1.4zM108.1 602.2h1.4v1.4h-1.4zM116.3 596.2h1.4v1.4h-1.4zM110.7 598.8h1.4v1.4h-1.4zM119.1 588.0h1.4v1.4h-1.4zM112.6 595.1h1.4v1.4h-1.4zM113.9 601.3h1.4v1.4h-1.4zM117.2 586.7h1.4v1.4h-1.4zM119.7 590.4h1.4v1.4h-1.4zM113.8 605.7h1.4v1.4h-1.4zM115.3 592.0h1.4v1.4h-1.4zM113.7 595.7h1.4v1.4h-1.4zM112.6 598.4h1.4v1.4h-1.4zM118.0 596.0h1.4v1.4h-1.4zM111.5 612.7h1.4v1.4h-1.4zM112.6 600.3h1.4v1.4h-1.4zM115.6 600.1h1.4v1.4h-1.4zM114.6 599.9h1.4v1.4h-1.4zM121.6 591.5h1.4v1.4h-1.4zM112.4 601.4h1.4v1.4h-1.4zM113.2 597.7h1.4v1.4h-1.4zM116.0 597.9h1.4v1.4h-1.4zM114.7 601.4h1.4v1.4h-1.4zM114.9 592.0h1.4v1.4h-1.4zM118.0 593.0h1.4v1.4h-1.4zM119.0 590.8h1.4v1.4h-1.4zM117.1 596.7h1.4v1.4h-1.4zM107.7 598.2h1.4v1.4h-1.4zM112.3 606.1h1.4v1.4h-1.4zM110.1 606.2h1.4v1.4h-1.4zM118.6 596.0h1.4v1.4h-1.4zM117.4 593.0h1.4v1.4h-1.4zM115.5 598.0h1.4v1.4h-1.4zM116.7 598.8h1.4v1.4h-1.4zM114.9 594.6h1.4v1.4h-1.4zM113.9 600.3h1.4v1.4h-1.4zM110.7 596.3h1.4v1.4h-1.4zM114.3 595.8h1.4v1.4h-1.4zM114.7 586.4h1.4v1.4h-1.4zM114.5 596.9h1.4v1.4h-1.4zM117.7 586.4h1.4v1.4h-1.4zM114.6 599.9h1.4v1.4h-1.4zM116.9 600.7h1.4v1.4h-1.4zM118.5 589.6h1.4v1.4h-1.4zM117.3 593.8h1.4v1.4h-1.4zM113.2 605.8h1.4v1.4h-1.4zM113.7 595.1h1.4v1.4h-1.4zM114.3 594.5h1.4v1.4h-1.4zM118.4 595.8h1.4v1.4h-1.4zM119.5 594.8h1.4v1.4h-1.4zM113.7 603.2h1.4v1.4h-1.4zM113.6 596.9h1.4v1.4h-1.4zM115.0 597.6h1.4v1.4h-1.4zM118.9 591.1h1.4v1.4h-1.4zM116.5 595.9h1.4v1.4h-1.4zM111.9 595.9h1.4v1.4h-1.4zM114.9 599.3h1.4v1.4h-1.4zM116.4 598.1h1.4v1.4h-1.4zM115.6 595.0h1.4v1.4h-1.4zM116.7 591.5h1.4v1.4h-1.4zM111.6 599.4h1.4v1.4h-1.4zM111.4 598.8h1.4v1.4h-1.4zM113.3 596.7h1.4v1.4h-1.4zM115.4 593.7h1.4v1.4h-1.4zM114.3 590.9h1.4v1.4h-1.4zM115.9 592.8h1.4v1.4h-1.4zM116.7 583.8h1.4v1.4h-1.4zM113.2 600.3h1.4v1.4h-1.4zM108.4 602.3h1.4v1.4h-1.4zM115.8 597.2h1.4v1.4h-1.4zM111.2 602.2h1.4v1.4h-1.4zM115.9 592.4h1.4v1.4h-1.4zM117.7 594.7h1.4v1.4h-1.4zM115.6 595.0h1.4v1.4h-1.4zM117.1 595.9h1.4v1.4h-1.4zM118.8 595.7h1.4v1.4h-1.4zM113.7 597.8h1.4v1.4h-1.4zM118.2 592.9h1.4v1.4h-1.4zM116.6 598.2h1.4v1.4h-1.4zM115.0 587.6h1.4v1.4h-1.4zM115.9 597.5h1.4v1.4h-1.4zM115.9 593.4h1.4v1.4h-1.4zM119.0 593.0h1.4v1.4h-1.4zM113.7 595.7h1.4v1.4h-1.4zM116.5 591.3h1.4v1.4h-1.4zM112.6 608.4h1.4v1.4h-1.4zM119.3 597.8h1.4v1.4h-1.4zM119.5 595.7h1.4v1.4h-1.4zM110.6 606.9h1.4v1.4h-1.4zM119.1 595.6h1.4v1.4h-1.4zM109.8 607.8h1.4v1.4h-1.4zM119.5 591.0h1.4v1.4h-1.4zM115.9 600.0h1.4v1.4h-1.4zM115.3 601.9h1.4v1.4h-1.4zM115.7 599.7h1.4v1.4h-1.4zM115.7 590.4h1.4v1.4h-1.4zM112.6 613.4h1.4v1.4h-1.4zM116.3 601.8h1.4v1.4h-1.4zM118.8 601.1h1.4v1.4h-1.4zM117.1 592.9h1.4v1.4h-1.4zM115.6 588.7h1.4v1.4h-1.4zM115.0 601.4h1.4v1.4h-1.4zM109.2 604.0h1.4v1.4h-1.4zM117.9 600.4h1.4v1.4h-1.4zM112.8 596.8h1.4v1.4h-1.4zM110.0 597.9h1.4v1.4h-1.4zM117.1 604.4h1.4v1.4h-1.4zM112.2 606.2h1.4v1.4h-1.4zM116.7 593.7h1.4v1.4h-1.4zM121.9 580.0h1.4v1.4h-1.4zM115.3 598.1h1.4v1.4h-1.4zM121.7 598.7h1.4v1.4h-1.4zM122.1 591.2h1.4v1.4h-1.4zM118.4 600.1h1.4v1.4h-1.4zM117.0 597.1h1.4v1.4h-1.4zM115.0 595.8h1.4v1.4h-1.4zM111.9 608.9h1.4v1.4h-1.4zM114.2 589.3h1.4v1.4h-1.4zM116.3 596.1h1.4v1.4h-1.4zM116.0 604.3h1.4v1.4h-1.4zM115.2 596.2h1.4v1.4h-1.4zM113.3 599.0h1.4v1.4h-1.4zM114.2 599.1h1.4v1.4h-1.4zM124.6 589.8h1.4v1.4h-1.4zM113.0 607.7h1.4v1.4h-1.4zM118.0 598.1h1.4v1.4h-1.4zM117.6 598.5h1.4v1.4h-1.4zM117.5 601.2h1.4v1.4h-1.4zM118.4 600.0h1.4v1.4h-1.4zM114.0 598.4h1.4v1.4h-1.4zM113.4 603.2h1.4v1.4h-1.4zM117.9 592.6h1.4v1.4h-1.4zM117.2 606.7h1.4v1.4h-1.4zM119.1 588.7h1.4v1.4h-1.4zM115.2 600.0h1.4v1.4h-1.4zM115.4 598.8h1.4v1.4h-1.4zM118.9 595.1h1.4v1.4h-1.4zM112.3 603.2h1.4v1.4h-1.4zM115.2 597.8h1.4v1.4h-1.4zM113.8 592.6h1.4v1.4h-1.4zM111.9 599.0h1.4v1.4h-1.4zM112.4 588.3h1.4v1.4h-1.4zM118.9 588.7h1.4v1.4h-1.4zM113.4 601.3h1.4v1.4h-1.4zM108.5 609.6h1.4v1.4h-1.4zM113.3 602.0h1.4v1.4h-1.4zM114.1 599.7h1.4v1.4h-1.4zM115.8 596.7h1.4v1.4h-1.4zM110.2 595.9h1.4v1.4h-1.4zM115.4 603.2h1.4v1.4h-1.4zM113.9 600.8h1.4v1.4h-1.4zM116.0 598.6h1.4v1.4h-1.4zM118.4 587.7h1.4v1.4h-1.4zM116.3 595.5h1.4v1.4h-1.4zM114.6 594.2h1.4v1.4h-1.4zM113.2 594.8h1.4v1.4h-1.4zM112.3 610.9h1.4v1.4h-1.4zM120.5 592.2h1.4v1.4h-1.4zM117.7 590.7h1.4v1.4h-1.4zM107.4 597.0h1.4v1.4h-1.4zM115.9 602.8h1.4v1.4h-1.4zM115.4 592.8h1.4v1.4h-1.4zM114.8 593.4h1.4v1.4h-1.4zM111.4 600.0h1.4v1.4h-1.4zM114.3 594.6h1.4v1.4h-1.4zM112.9 595.5h1.4v1.4h-1.4zM116.2 602.3h1.4v1.4h-1.4zM114.9 607.2h1.4v1.4h-1.4zM110.8 602.8h1.4v1.4h-1.4zM112.1 599.6h1.4v1.4h-1.4zM115.8 599.1h1.4v1.4h-1.4zM118.8 591.4h1.4v1.4h-1.4zM111.9 599.7h1.4v1.4h-1.4zM116.4 593.2h1.4v1.4h-1.4z" fill="#111" fill-opacity="1"/><path d="M119.4 607.2h1.3v1.3h-1.3zM108.1 605.0h1.3v1.3h-1.3zM120.0 581.1h1.3v1.3h-1.3zM116.0 595.7h1.3v1.3h-1.3zM108.1 611.8h1.3v1.3h-1.3zM116.1 593.9h1.3v1.3h-1.3zM117.2 601.2h1.3v1.3h-1.3zM118.7 599.7h1.3v1.3h-1.3zM117.0 588.3h1.3v1.3h-1.3zM112.9 600.2h1.3v1.3h-1.3zM101.5 621.9h1.3v1.3h-1.3zM113.2 591.6h1.3v1.3h-1.3zM106.1 605.5h1.3v1.3h-1.3zM115.2 593.7h1.3v1.3h-1.3zM113.0 593.0h1.3v1.3h-1.3zM111.3 599.6h1.3v1.3h-1.3zM111.9 604.9h1.3v1.3h-1.3zM114.3 599.4h1.3v1.3h-1.3zM117.0 605.8h1.3v1.3h-1.3zM117.9 597.8h1.3v1.3h-1.3zM114.2 592.8h1.3v1.3h-1.3zM113.3 603.9h1.3v1.3h-1.3zM116.1 594.5h1.3v1.3h-1.3zM108.5 591.2h1.3v1.3h-1.3zM116.6 604.3h1.3v1.3h-1.3zM116.8 587.0h1.3v1.3h-1.3zM114.0 600.2h1.3v1.3h-1.3zM110.5 603.3h1.3v1.3h-1.3zM114.0 592.7h1.3v1.3h-1.3zM108.9 607.7h1.3v1.3h-1.3zM116.7 590.5h1.3v1.3h-1.3zM110.1 607.5h1.3v1.3h-1.3zM117.9 594.0h1.3v1.3h-1.3zM122.8 591.0h1.3v1.3h-1.3zM109.9 609.1h1.3v1.3h-1.3zM114.1 601.1h1.3v1.3h-1.3zM115.2 590.7h1.3v1.3h-1.3zM109.2 600.3h1.3v1.3h-1.3zM121.8 586.5h1.3v1.3h-1.3zM121.6 595.3h1.3v1.3h-1.3zM109.6 603.4h1.3v1.3h-1.3zM117.8 589.8h1.3v1.3h-1.3zM104.6 607.2h1.3v1.3h-1.3zM109.6 604.6h1.3v1.3h-1.3zM105.7 602.9h1.3v1.3h-1.3zM111.1 590.0h1.3v1.3h-1.3zM113.8 600.0h1.3v1.3h-1.3zM112.3 591.3h1.3v1.3h-1.3zM116.0 584.9h1.3v1.3h-1.3zM117.6 599.8h1.3v1.3h-1.3zM123.2 599.1h1.3v1.3h-1.3zM116.7 598.8h1.3v1.3h-1.3zM115.1 588.5h1.3v1.3h-1.3zM122.1 597.2h1.3v1.3h-1.3zM113.6 590.7h1.3v1.3h-1.3zM122.2 597.2h1.3v1.3h-1.3zM109.2 606.5h1.3v1.3h-1.3zM124.2 591.9h1.3v1.3h-1.3zM116.9 593.8h1.3v1.3h-1.3zM111.9 607.6h1.3v1.3h-1.3zM130.0 589.3h1.3v1.3h-1.3zM114.4 604.0h1.3v1.3h-1.3zM113.5 604.1h1.3v1.3h-1.3zM119.0 588.2h1.3v1.3h-1.3zM109.8 600.8h1.3v1.3h-1.3zM119.0 597.4h1.3v1.3h-1.3zM121.0 584.3h1.3v1.3h-1.3zM117.4 592.0h1.3v1.3h-1.3zM115.5 600.0h1.3v1.3h-1.3zM110.3 599.4h1.3v1.3h-1.3zM109.4 603.5h1.3v1.3h-1.3zM110.9 597.1h1.3v1.3h-1.3zM116.1 592.7h1.3v1.3h-1.3zM120.6 589.9h1.3v1.3h-1.3zM119.1 597.4h1.3v1.3h-1.3zM110.0 599.7h1.3v1.3h-1.3zM110.9 598.0h1.3v1.3h-1.3zM113.7 611.8h1.3v1.3h-1.3zM113.0 610.5h1.3v1.3h-1.3zM117.2 587.3h1.3v1.3h-1.3z" fill="#111" fill-opacity="0.85"/><path d="M68.3 593.8h1.2v1.2h-1.2zM79.8 591.8h1.2v1.2h-1.2zM75.8 599.1h1.2v1.2h-1.2zM59.0 602.7h1.2v1.2h-1.2zM58.3 600.8h1.2v1.2h-1.2zM59.4 592.3h1.2v1.2h-1.2zM71.9 610.7h1.2v1.2h-1.2zM61.3 595.6h1.2v1.2h-1.2zM79.0 613.7h1.2v1.2h-1.2zM77.2 599.9h1.2v1.2h-1.2zM91.2 591.2h1.2v1.2h-1.2zM87.0 597.2h1.2v1.2h-1.2zM62.0 592.9h1.2v1.2h-1.2zM67.8 610.4h1.2v1.2h-1.2zM63.3 604.5h1.2v1.2h-1.2zM79.4 599.3h1.2v1.2h-1.2zM76.2 591.6h1.2v1.2h-1.2zM59.1 595.1h1.2v1.2h-1.2zM82.9 556.0h1.2v1.2h-1.2zM66.8 563.7h1.2v1.2h-1.2zM72.9 549.7h1.2v1.2h-1.2zM88.0 569.3h1.2v1.2h-1.2zM132.6 563.1h1.2v1.2h-1.2zM141.3 577.9h1.2v1.2h-1.2zM147.6 549.1h1.2v1.2h-1.2zM149.5 590.8h1.2v1.2h-1.2zM135.5 606.2h1.2v1.2h-1.2zM128.8 599.7h1.2v1.2h-1.2zM126.0 604.0h1.2v1.2h-1.2z" fill="#333" fill-opacity="0.75"/><rect x="51" y="529.3" width="107.19999999999999" height="97.5" fill="none" stroke="#777" stroke-width="1.2"/><line x1="99.6" y1="529.3" x2="99.6" y2="626.8" stroke="#111" stroke-width="1.45"/><line x1="51" y1="586.2" x2="158.2" y2="586.2" stroke="#111" stroke-width="1.45"/><line x1="50.5" y1="626.8" x2="158.7" y2="626.8" stroke="#222" stroke-width="1.4"/><line x1="51.3" y1="626.8" x2="51.3" y2="631.0" stroke="#222" stroke-width="1.3"/><text x="0" y="0" font-size="10.4" fill="#1a1a1a" style="stroke-width:0.4px" transform="translate(50.17 643.00) scale(0.8 1)">10</text><text x="0" y="0" font-size="8.3" fill="#1a1a1a" style="stroke-width:0.35px" transform="translate(59.90 637.70) scale(0.85 1)">0</text><line x1="78.8" y1="626.8" x2="78.8" y2="631.0" stroke="#222" stroke-width="1.3"/><text x="0" y="0" font-size="10.4" fill="#1a1a1a" style="stroke-width:0.4px" transform="translate(74.97 643.00) scale(0.8 1)">10</text><text x="0" y="0" font-size="8.3" fill="#1a1a1a" style="stroke-width:0.35px" transform="translate(84.70 637.70) scale(0.85 1)">1</text><line x1="105.6" y1="626.8" x2="105.6" y2="631.0" stroke="#222" stroke-width="1.3"/><text x="0" y="0" font-size="10.4" fill="#1a1a1a" style="stroke-width:0.4px" transform="translate(101.27 643.00) scale(0.8 1)">10</text><text x="0" y="0" font-size="8.3" fill="#1a1a1a" style="stroke-width:0.35px" transform="translate(111.00 637.70) scale(0.85 1)">2</text><line x1="131.9" y1="626.8" x2="131.9" y2="631.0" stroke="#222" stroke-width="1.3"/><text x="0" y="0" font-size="10.4" fill="#1a1a1a" style="stroke-width:0.4px" transform="translate(127.87 643.00) scale(0.8 1)">10</text><text x="0" y="0" font-size="8.3" fill="#1a1a1a" style="stroke-width:0.35px" transform="translate(137.60 637.70) scale(0.85 1)">3</text><line x1="157.9" y1="626.8" x2="157.9" y2="631.0" stroke="#222" stroke-width="1.3"/><text x="0" y="0" font-size="10.4" fill="#1a1a1a" style="stroke-width:0.4px" transform="translate(154.37 643.00) scale(0.8 1)">10</text><text x="0" y="0" font-size="8.3" fill="#1a1a1a" style="stroke-width:0.35px" transform="translate(164.10 637.70) scale(0.85 1)">4</text><text x="97.85" y="521.20" font-size="12.14" fill="#111" textLength="16.17" lengthAdjust="spacingAndGlyphs">NT</text><text x="111.33" y="625.80" font-size="10.38" fill="#111" textLength="46.41" lengthAdjust="spacingAndGlyphs">R2=24521</text><path d="M81.4 712.0h1.4v1.4h-1.4zM74.6 706.8h1.4v1.4h-1.4zM74.2 709.5h1.4v1.4h-1.4zM77.0 708.7h1.4v1.4h-1.4zM94.1 699.3h1.4v1.4h-1.4zM82.7 707.1h1.4v1.4h-1.4zM74.0 715.2h1.4v1.4h-1.4zM75.5 706.0h1.4v1.4h-1.4zM78.0 709.5h1.4v1.4h-1.4zM63.0 715.3h1.4v1.4h-1.4zM69.1 709.7h1.4v1.4h-1.4zM78.4 711.4h1.4v1.4h-1.4zM73.7 720.4h1.4v1.4h-1.4zM78.1 707.8h1.4v1.4h-1.4zM76.9 710.1h1.4v1.4h-1.4zM62.1 708.2h1.4v1.4h-1.4zM67.0 721.8h1.4v1.4h-1.4zM74.4 710.2h1.4v1.4h-1.4zM72.1 716.0h1.4v1.4h-1.4zM75.7 718.0h1.4v1.4h-1.4zM80.3 716.4h1.4v1.4h-1.4zM74.8 712.7h1.4v1.4h-1.4zM72.9 711.0h1.4v1.4h-1.4zM65.0 711.5h1.4v1.4h-1.4zM69.7 709.9h1.4v1.4h-1.4zM82.9 710.0h1.4v1.4h-1.4zM82.9 712.5h1.4v1.4h-1.4zM81.1 713.6h1.4v1.4h-1.4zM71.8 715.3h1.4v1.4h-1.4zM73.5 709.4h1.4v1.4h-1.4zM82.8 717.9h1.4v1.4h-1.4zM69.6 719.8h1.4v1.4h-1.4zM80.5 706.1h1.4v1.4h-1.4zM77.2 712.1h1.4v1.4h-1.4zM77.8 708.9h1.4v1.4h-1.4zM67.7 713.3h1.4v1.4h-1.4zM80.7 712.8h1.4v1.4h-1.4zM79.5 714.4h1.4v1.4h-1.4zM69.5 712.5h1.4v1.4h-1.4zM77.6 714.5h1.4v1.4h-1.4zM76.4 712.9h1.4v1.4h-1.4zM76.3 719.4h1.4v1.4h-1.4zM62.2 714.6h1.4v1.4h-1.4zM90.5 707.8h1.4v1.4h-1.4zM64.4 714.6h1.4v1.4h-1.4zM66.8 710.6h1.4v1.4h-1.4zM76.9 717.6h1.4v1.4h-1.4zM78.3 713.0h1.4v1.4h-1.4zM81.7 710.1h1.4v1.4h-1.4zM70.3 712.0h1.4v1.4h-1.4zM77.5 709.3h1.4v1.4h-1.4zM71.4 710.7h1.4v1.4h-1.4zM66.4 709.3h1.4v1.4h-1.4zM74.9 709.7h1.4v1.4h-1.4zM75.7 716.7h1.4v1.4h-1.4zM77.3 710.4h1.4v1.4h-1.4zM68.4 708.6h1.4v1.4h-1.4zM77.8 706.8h1.4v1.4h-1.4zM78.1 705.9h1.4v1.4h-1.4zM76.3 710.5h1.4v1.4h-1.4zM81.5 707.7h1.4v1.4h-1.4zM73.2 712.6h1.4v1.4h-1.4zM75.8 717.8h1.4v1.4h-1.4zM73.9 709.2h1.4v1.4h-1.4zM73.6 713.5h1.4v1.4h-1.4zM76.9 713.4h1.4v1.4h-1.4zM67.1 723.5h1.4v1.4h-1.4zM86.7 707.8h1.4v1.4h-1.4zM68.2 713.7h1.4v1.4h-1.4zM78.0 701.2h1.4v1.4h-1.4zM75.6 704.9h1.4v1.4h-1.4zM78.3 715.9h1.4v1.4h-1.4zM81.8 703.1h1.4v1.4h-1.4zM83.9 712.4h1.4v1.4h-1.4zM73.3 713.7h1.4v1.4h-1.4zM84.7 707.1h1.4v1.4h-1.4zM75.4 708.7h1.4v1.4h-1.4zM82.5 700.2h1.4v1.4h-1.4zM84.1 704.7h1.4v1.4h-1.4zM81.1 702.8h1.4v1.4h-1.4zM69.8 710.1h1.4v1.4h-1.4zM80.5 703.0h1.4v1.4h-1.4zM79.2 707.4h1.4v1.4h-1.4zM83.0 707.6h1.4v1.4h-1.4zM78.4 709.5h1.4v1.4h-1.4zM86.4 706.5h1.4v1.4h-1.4zM75.3 719.2h1.4v1.4h-1.4zM76.0 713.7h1.4v1.4h-1.4zM71.0 713.1h1.4v1.4h-1.4zM61.7 715.2h1.4v1.4h-1.4zM71.6 705.9h1.4v1.4h-1.4zM66.9 718.1h1.4v1.4h-1.4zM78.1 704.1h1.4v1.4h-1.4zM86.5 705.1h1.4v1.4h-1.4zM73.3 712.6h1.4v1.4h-1.4zM68.6 706.3h1.4v1.4h-1.4zM71.0 717.1h1.4v1.4h-1.4zM81.3 702.9h1.4v1.4h-1.4zM82.8 709.1h1.4v1.4h-1.4zM78.5 710.4h1.4v1.4h-1.4zM78.0 706.2h1.4v1.4h-1.4zM70.0 709.7h1.4v1.4h-1.4zM73.3 714.2h1.4v1.4h-1.4zM68.1 719.6h1.4v1.4h-1.4zM71.7 709.7h1.4v1.4h-1.4zM79.8 711.6h1.4v1.4h-1.4zM73.4 707.2h1.4v1.4h-1.4zM69.4 706.1h1.4v1.4h-1.4zM82.4 713.5h1.4v1.4h-1.4zM86.8 709.9h1.4v1.4h-1.4zM77.5 713.5h1.4v1.4h-1.4zM81.3 708.3h1.4v1.4h-1.4zM77.6 719.2h1.4v1.4h-1.4zM65.2 708.1h1.4v1.4h-1.4zM69.7 715.7h1.4v1.4h-1.4zM82.7 707.6h1.4v1.4h-1.4zM79.6 709.7h1.4v1.4h-1.4zM77.3 708.3h1.4v1.4h-1.4zM75.3 711.0h1.4v1.4h-1.4zM82.4 718.2h1.4v1.4h-1.4zM64.5 716.2h1.4v1.4h-1.4zM75.5 715.0h1.4v1.4h-1.4zM81.9 712.4h1.4v1.4h-1.4zM80.4 705.7h1.4v1.4h-1.4zM65.2 720.7h1.4v1.4h-1.4zM82.8 705.1h1.4v1.4h-1.4zM83.3 711.6h1.4v1.4h-1.4zM60.6 718.8h1.4v1.4h-1.4zM69.5 717.4h1.4v1.4h-1.4zM71.4 709.1h1.4v1.4h-1.4zM66.1 712.7h1.4v1.4h-1.4zM81.7 706.5h1.4v1.4h-1.4zM64.2 722.9h1.4v1.4h-1.4zM86.7 710.7h1.4v1.4h-1.4zM72.2 706.9h1.4v1.4h-1.4zM65.6 716.0h1.4v1.4h-1.4zM83.4 704.5h1.4v1.4h-1.4zM75.5 709.9h1.4v1.4h-1.4zM73.9 713.5h1.4v1.4h-1.4zM88.2 704.9h1.4v1.4h-1.4zM80.7 714.0h1.4v1.4h-1.4zM73.8 710.9h1.4v1.4h-1.4zM67.4 717.7h1.4v1.4h-1.4zM72.3 709.2h1.4v1.4h-1.4zM75.9 707.4h1.4v1.4h-1.4zM69.2 711.5h1.4v1.4h-1.4zM84.5 707.7h1.4v1.4h-1.4zM78.7 704.1h1.4v1.4h-1.4zM63.7 721.7h1.4v1.4h-1.4zM73.1 705.4h1.4v1.4h-1.4zM74.9 713.7h1.4v1.4h-1.4zM65.0 710.3h1.4v1.4h-1.4zM77.1 706.8h1.4v1.4h-1.4zM80.3 713.6h1.4v1.4h-1.4zM78.2 708.5h1.4v1.4h-1.4zM75.2 708.5h1.4v1.4h-1.4zM74.7 712.5h1.4v1.4h-1.4zM73.7 715.5h1.4v1.4h-1.4zM91.3 704.4h1.4v1.4h-1.4zM77.6 713.8h1.4v1.4h-1.4zM79.4 708.9h1.4v1.4h-1.4zM72.6 715.9h1.4v1.4h-1.4zM79.3 712.0h1.4v1.4h-1.4zM70.6 715.0h1.4v1.4h-1.4zM80.3 708.9h1.4v1.4h-1.4zM79.4 718.8h1.4v1.4h-1.4zM64.1 716.7h1.4v1.4h-1.4zM68.4 707.4h1.4v1.4h-1.4zM74.1 713.6h1.4v1.4h-1.4zM75.8 706.1h1.4v1.4h-1.4zM66.7 711.1h1.4v1.4h-1.4zM75.6 707.6h1.4v1.4h-1.4zM66.3 720.8h1.4v1.4h-1.4zM70.4 711.8h1.4v1.4h-1.4zM72.2 709.5h1.4v1.4h-1.4zM75.7 709.7h1.4v1.4h-1.4zM79.3 705.1h1.4v1.4h-1.4zM66.4 721.5h1.4v1.4h-1.4zM75.0 714.3h1.4v1.4h-1.4zM82.7 711.3h1.4v1.4h-1.4zM75.7 704.5h1.4v1.4h-1.4zM65.7 717.7h1.4v1.4h-1.4zM79.6 712.2h1.4v1.4h-1.4zM65.4 705.0h1.4v1.4h-1.4zM69.1 707.9h1.4v1.4h-1.4zM76.5 706.5h1.4v1.4h-1.4zM85.2 705.8h1.4v1.4h-1.4zM72.1 715.5h1.4v1.4h-1.4zM77.5 706.7h1.4v1.4h-1.4zM80.5 717.5h1.4v1.4h-1.4zM68.0 712.1h1.4v1.4h-1.4zM68.9 704.8h1.4v1.4h-1.4zM79.3 712.8h1.4v1.4h-1.4zM81.5 711.1h1.4v1.4h-1.4zM63.2 714.3h1.4v1.4h-1.4zM71.4 707.3h1.4v1.4h-1.4zM68.7 716.0h1.4v1.4h-1.4zM73.7 719.6h1.4v1.4h-1.4zM78.4 702.3h1.4v1.4h-1.4zM81.0 714.6h1.4v1.4h-1.4zM75.7 705.9h1.4v1.4h-1.4zM86.3 702.6h1.4v1.4h-1.4zM75.0 703.3h1.4v1.4h-1.4zM67.8 706.1h1.4v1.4h-1.4zM82.2 714.0h1.4v1.4h-1.4zM73.0 706.1h1.4v1.4h-1.4zM75.1 712.7h1.4v1.4h-1.4zM66.1 708.8h1.4v1.4h-1.4zM74.9 714.1h1.4v1.4h-1.4zM76.0 712.7h1.4v1.4h-1.4zM67.8 702.8h1.4v1.4h-1.4zM77.4 706.7h1.4v1.4h-1.4zM74.7 709.6h1.4v1.4h-1.4zM78.5 707.0h1.4v1.4h-1.4zM84.4 708.7h1.4v1.4h-1.4zM78.8 712.7h1.4v1.4h-1.4zM81.9 710.9h1.4v1.4h-1.4zM64.7 711.4h1.4v1.4h-1.4zM86.9 709.8h1.4v1.4h-1.4zM79.0 712.0h1.4v1.4h-1.4zM71.6 709.3h1.4v1.4h-1.4zM71.5 716.9h1.4v1.4h-1.4zM77.7 717.8h1.4v1.4h-1.4zM78.6 718.0h1.4v1.4h-1.4zM78.3 705.3h1.4v1.4h-1.4zM86.2 709.4h1.4v1.4h-1.4zM82.8 709.9h1.4v1.4h-1.4zM73.5 712.3h1.4v1.4h-1.4zM68.6 707.9h1.4v1.4h-1.4zM70.0 710.3h1.4v1.4h-1.4zM67.1 712.9h1.4v1.4h-1.4zM77.4 718.9h1.4v1.4h-1.4zM86.9 707.6h1.4v1.4h-1.4zM81.0 708.6h1.4v1.4h-1.4zM77.9 710.2h1.4v1.4h-1.4zM72.2 712.2h1.4v1.4h-1.4zM66.4 715.4h1.4v1.4h-1.4zM73.7 707.0h1.4v1.4h-1.4zM73.3 713.9h1.4v1.4h-1.4zM71.3 714.2h1.4v1.4h-1.4zM79.0 716.5h1.4v1.4h-1.4zM68.8 712.4h1.4v1.4h-1.4zM78.7 716.4h1.4v1.4h-1.4zM77.1 713.7h1.4v1.4h-1.4zM66.4 711.1h1.4v1.4h-1.4zM85.8 706.9h1.4v1.4h-1.4zM88.9 704.2h1.4v1.4h-1.4zM73.8 704.8h1.4v1.4h-1.4zM79.4 711.0h1.4v1.4h-1.4zM88.0 708.2h1.4v1.4h-1.4zM73.9 705.5h1.4v1.4h-1.4zM75.0 715.1h1.4v1.4h-1.4zM80.1 714.9h1.4v1.4h-1.4zM80.9 709.3h1.4v1.4h-1.4zM79.3 710.7h1.4v1.4h-1.4zM67.2 720.5h1.4v1.4h-1.4zM77.8 705.9h1.4v1.4h-1.4zM77.9 711.5h1.4v1.4h-1.4zM81.7 715.4h1.4v1.4h-1.4zM56.6 718.6h1.4v1.4h-1.4zM85.0 704.4h1.4v1.4h-1.4zM63.9 715.4h1.4v1.4h-1.4zM77.6 711.9h1.4v1.4h-1.4zM68.6 711.0h1.4v1.4h-1.4zM76.7 713.8h1.4v1.4h-1.4zM89.2 708.4h1.4v1.4h-1.4zM71.7 702.1h1.4v1.4h-1.4zM82.2 708.6h1.4v1.4h-1.4zM74.8 707.0h1.4v1.4h-1.4zM80.1 702.2h1.4v1.4h-1.4zM76.2 711.3h1.4v1.4h-1.4zM77.4 716.0h1.4v1.4h-1.4zM74.9 711.6h1.4v1.4h-1.4zM80.8 703.0h1.4v1.4h-1.4zM73.7 711.8h1.4v1.4h-1.4zM81.5 706.0h1.4v1.4h-1.4zM80.5 711.2h1.4v1.4h-1.4zM66.2 707.3h1.4v1.4h-1.4zM66.5 714.1h1.4v1.4h-1.4zM76.8 713.7h1.4v1.4h-1.4zM80.6 707.2h1.4v1.4h-1.4zM82.2 712.6h1.4v1.4h-1.4zM78.5 712.2h1.4v1.4h-1.4zM67.5 714.8h1.4v1.4h-1.4zM69.0 707.8h1.4v1.4h-1.4zM73.3 712.2h1.4v1.4h-1.4zM75.2 709.7h1.4v1.4h-1.4zM69.2 713.5h1.4v1.4h-1.4zM70.9 706.3h1.4v1.4h-1.4zM76.1 717.0h1.4v1.4h-1.4zM73.0 707.2h1.4v1.4h-1.4zM84.2 715.8h1.4v1.4h-1.4zM73.7 710.6h1.4v1.4h-1.4zM76.8 723.1h1.4v1.4h-1.4zM76.3 715.0h1.4v1.4h-1.4zM78.3 702.5h1.4v1.4h-1.4zM68.6 707.7h1.4v1.4h-1.4zM78.2 710.7h1.4v1.4h-1.4zM86.7 706.7h1.4v1.4h-1.4zM77.4 710.8h1.4v1.4h-1.4zM76.4 720.6h1.4v1.4h-1.4zM77.3 716.7h1.4v1.4h-1.4zM83.6 706.2h1.4v1.4h-1.4zM79.8 708.2h1.4v1.4h-1.4zM76.2 711.5h1.4v1.4h-1.4zM75.6 709.0h1.4v1.4h-1.4zM85.3 707.2h1.4v1.4h-1.4zM79.9 716.9h1.4v1.4h-1.4zM79.4 714.3h1.4v1.4h-1.4zM84.2 713.2h1.4v1.4h-1.4zM86.3 701.9h1.4v1.4h-1.4zM87.8 707.7h1.4v1.4h-1.4zM64.5 711.3h1.4v1.4h-1.4zM66.7 713.3h1.4v1.4h-1.4zM66.1 709.3h1.4v1.4h-1.4zM77.4 711.2h1.4v1.4h-1.4zM70.5 711.4h1.4v1.4h-1.4zM74.9 711.5h1.4v1.4h-1.4zM75.5 710.1h1.4v1.4h-1.4zM81.0 702.6h1.4v1.4h-1.4zM72.4 712.4h1.4v1.4h-1.4zM73.0 709.4h1.4v1.4h-1.4zM72.8 712.7h1.4v1.4h-1.4zM83.3 708.0h1.4v1.4h-1.4zM73.8 713.0h1.4v1.4h-1.4zM74.0 703.2h1.4v1.4h-1.4zM77.2 708.9h1.4v1.4h-1.4zM71.9 714.7h1.4v1.4h-1.4zM75.8 708.5h1.4v1.4h-1.4zM61.8 707.5h1.4v1.4h-1.4zM75.6 710.5h1.4v1.4h-1.4zM78.3 711.2h1.4v1.4h-1.4zM72.5 706.5h1.4v1.4h-1.4zM68.6 712.3h1.4v1.4h-1.4zM68.3 716.2h1.4v1.4h-1.4zM67.1 705.7h1.4v1.4h-1.4zM74.3 703.8h1.4v1.4h-1.4zM85.7 703.9h1.4v1.4h-1.4zM75.2 710.1h1.4v1.4h-1.4zM70.3 704.9h1.4v1.4h-1.4zM63.8 717.9h1.4v1.4h-1.4zM81.9 718.4h1.4v1.4h-1.4zM66.3 715.9h1.4v1.4h-1.4zM75.4 714.6h1.4v1.4h-1.4zM72.3 715.0h1.4v1.4h-1.4zM81.1 712.0h1.4v1.4h-1.4zM84.6 707.7h1.4v1.4h-1.4zM85.2 705.3h1.4v1.4h-1.4zM86.0 696.4h1.4v1.4h-1.4zM75.6 707.6h1.4v1.4h-1.4zM75.5 715.4h1.4v1.4h-1.4zM80.0 710.1h1.4v1.4h-1.4zM86.2 701.7h1.4v1.4h-1.4zM70.4 718.8h1.4v1.4h-1.4zM77.6 701.6h1.4v1.4h-1.4zM77.6 705.4h1.4v1.4h-1.4zM84.8 713.3h1.4v1.4h-1.4zM72.1 717.5h1.4v1.4h-1.4zM70.2 716.4h1.4v1.4h-1.4zM79.1 709.4h1.4v1.4h-1.4zM66.5 712.3h1.4v1.4h-1.4zM61.1 712.6h1.4v1.4h-1.4zM63.8 719.4h1.4v1.4h-1.4zM69.4 702.3h1.4v1.4h-1.4zM79.2 711.5h1.4v1.4h-1.4zM72.3 720.9h1.4v1.4h-1.4zM80.4 709.9h1.4v1.4h-1.4zM71.4 699.6h1.4v1.4h-1.4zM78.5 714.2h1.4v1.4h-1.4zM71.8 706.0h1.4v1.4h-1.4zM75.2 704.0h1.4v1.4h-1.4zM75.5 714.3h1.4v1.4h-1.4zM85.0 709.5h1.4v1.4h-1.4zM76.7 713.8h1.4v1.4h-1.4zM84.3 707.2h1.4v1.4h-1.4zM67.8 709.8h1.4v1.4h-1.4zM67.6 709.4h1.4v1.4h-1.4zM74.7 712.7h1.4v1.4h-1.4zM76.5 711.0h1.4v1.4h-1.4zM73.3 713.4h1.4v1.4h-1.4zM81.1 712.7h1.4v1.4h-1.4zM84.9 707.1h1.4v1.4h-1.4zM73.9 718.6h1.4v1.4h-1.4zM76.8 712.4h1.4v1.4h-1.4zM73.4 715.7h1.4v1.4h-1.4zM73.0 707.4h1.4v1.4h-1.4zM75.1 709.2h1.4v1.4h-1.4zM80.8 707.9h1.4v1.4h-1.4zM76.3 709.9h1.4v1.4h-1.4zM77.6 707.7h1.4v1.4h-1.4zM82.5 703.0h1.4v1.4h-1.4zM73.1 708.7h1.4v1.4h-1.4zM79.6 710.0h1.4v1.4h-1.4zM78.6 708.7h1.4v1.4h-1.4zM71.0 707.5h1.4v1.4h-1.4zM73.4 709.3h1.4v1.4h-1.4zM77.3 712.0h1.4v1.4h-1.4zM81.7 708.8h1.4v1.4h-1.4zM70.8 707.8h1.4v1.4h-1.4zM75.9 712.4h1.4v1.4h-1.4zM87.8 708.4h1.4v1.4h-1.4zM86.6 715.9h1.4v1.4h-1.4zM68.9 718.0h1.4v1.4h-1.4zM82.7 714.7h1.4v1.4h-1.4zM75.4 715.1h1.4v1.4h-1.4zM72.5 711.5h1.4v1.4h-1.4zM75.6 718.6h1.4v1.4h-1.4zM74.1 715.4h1.4v1.4h-1.4zM75.9 707.9h1.4v1.4h-1.4zM77.0 713.4h1.4v1.4h-1.4zM71.0 714.9h1.4v1.4h-1.4zM71.0 708.5h1.4v1.4h-1.4zM76.9 709.6h1.4v1.4h-1.4zM69.3 705.8h1.4v1.4h-1.4zM75.6 712.0h1.4v1.4h-1.4zM72.6 712.6h1.4v1.4h-1.4zM65.9 715.3h1.4v1.4h-1.4zM78.1 711.5h1.4v1.4h-1.4zM71.6 712.4h1.4v1.4h-1.4zM76.3 715.3h1.4v1.4h-1.4zM77.2 711.6h1.4v1.4h-1.4zM70.9 715.9h1.4v1.4h-1.4zM82.9 706.9h1.4v1.4h-1.4zM79.5 711.2h1.4v1.4h-1.4zM75.2 705.6h1.4v1.4h-1.4zM86.6 700.0h1.4v1.4h-1.4zM77.4 708.9h1.4v1.4h-1.4zM82.7 707.2h1.4v1.4h-1.4zM75.7 713.5h1.4v1.4h-1.4zM78.4 708.0h1.4v1.4h-1.4zM79.8 711.5h1.4v1.4h-1.4zM81.7 707.1h1.4v1.4h-1.4zM75.2 709.4h1.4v1.4h-1.4zM70.2 713.5h1.4v1.4h-1.4zM78.1 716.3h1.4v1.4h-1.4zM73.5 713.2h1.4v1.4h-1.4zM82.7 708.5h1.4v1.4h-1.4zM75.9 711.5h1.4v1.4h-1.4zM71.2 708.0h1.4v1.4h-1.4zM82.5 709.8h1.4v1.4h-1.4zM75.0 705.9h1.4v1.4h-1.4zM76.2 715.8h1.4v1.4h-1.4zM68.3 709.2h1.4v1.4h-1.4zM82.5 715.1h1.4v1.4h-1.4zM85.2 706.0h1.4v1.4h-1.4zM79.3 706.8h1.4v1.4h-1.4zM78.8 708.5h1.4v1.4h-1.4zM76.7 716.3h1.4v1.4h-1.4zM77.6 709.4h1.4v1.4h-1.4zM75.9 712.0h1.4v1.4h-1.4zM72.3 712.8h1.4v1.4h-1.4zM79.3 716.6h1.4v1.4h-1.4zM62.6 709.5h1.4v1.4h-1.4zM67.7 716.9h1.4v1.4h-1.4zM90.8 707.6h1.4v1.4h-1.4zM76.3 715.6h1.4v1.4h-1.4zM60.2 714.5h1.4v1.4h-1.4zM56.0 717.1h1.4v1.4h-1.4zM72.3 709.8h1.4v1.4h-1.4zM77.6 707.9h1.4v1.4h-1.4zM82.5 709.1h1.4v1.4h-1.4zM77.9 721.1h1.4v1.4h-1.4zM72.7 715.7h1.4v1.4h-1.4zM70.3 717.7h1.4v1.4h-1.4zM81.5 709.9h1.4v1.4h-1.4zM81.7 716.1h1.4v1.4h-1.4zM84.1 708.6h1.4v1.4h-1.4zM75.2 715.8h1.4v1.4h-1.4zM66.3 711.0h1.4v1.4h-1.4zM78.5 712.6h1.4v1.4h-1.4zM87.1 715.2h1.4v1.4h-1.4zM77.5 712.3h1.4v1.4h-1.4zM67.3 712.5h1.4v1.4h-1.4zM77.1 709.6h1.4v1.4h-1.4zM75.9 713.5h1.4v1.4h-1.4zM69.6 710.3h1.4v1.4h-1.4zM64.4 718.9h1.4v1.4h-1.4zM68.9 705.7h1.4v1.4h-1.4zM80.3 708.8h1.4v1.4h-1.4zM81.5 707.8h1.4v1.4h-1.4zM88.8 710.3h1.4v1.4h-1.4zM76.4 711.2h1.4v1.4h-1.4zM74.2 714.8h1.4v1.4h-1.4zM88.0 705.8h1.4v1.4h-1.4zM68.7 715.4h1.4v1.4h-1.4zM82.1 702.9h1.4v1.4h-1.4zM71.2 708.0h1.4v1.4h-1.4zM79.0 712.2h1.4v1.4h-1.4zM70.9 707.5h1.4v1.4h-1.4zM79.8 701.2h1.4v1.4h-1.4zM79.5 709.2h1.4v1.4h-1.4zM87.4 711.9h1.4v1.4h-1.4zM71.9 710.8h1.4v1.4h-1.4zM73.8 708.4h1.4v1.4h-1.4zM76.0 714.9h1.4v1.4h-1.4zM66.1 712.6h1.4v1.4h-1.4zM84.8 711.5h1.4v1.4h-1.4zM70.4 709.0h1.4v1.4h-1.4zM70.2 705.7h1.4v1.4h-1.4zM82.6 709.3h1.4v1.4h-1.4zM71.2 706.2h1.4v1.4h-1.4zM73.1 709.5h1.4v1.4h-1.4zM86.2 706.1h1.4v1.4h-1.4zM76.2 715.3h1.4v1.4h-1.4zM79.6 709.1h1.4v1.4h-1.4zM62.0 720.6h1.4v1.4h-1.4zM79.2 708.2h1.4v1.4h-1.4zM75.0 707.2h1.4v1.4h-1.4zM69.9 706.3h1.4v1.4h-1.4zM78.6 712.3h1.4v1.4h-1.4zM76.6 714.0h1.4v1.4h-1.4zM78.8 710.6h1.4v1.4h-1.4zM70.0 715.0h1.4v1.4h-1.4zM82.9 711.6h1.4v1.4h-1.4zM83.2 706.9h1.4v1.4h-1.4zM69.4 717.9h1.4v1.4h-1.4zM71.9 713.0h1.4v1.4h-1.4zM74.3 711.4h1.4v1.4h-1.4zM73.8 709.2h1.4v1.4h-1.4zM64.5 722.0h1.4v1.4h-1.4zM76.8 702.6h1.4v1.4h-1.4zM69.9 707.9h1.4v1.4h-1.4zM70.9 701.6h1.4v1.4h-1.4zM79.1 716.9h1.4v1.4h-1.4zM74.0 714.5h1.4v1.4h-1.4zM79.2 704.8h1.4v1.4h-1.4zM83.0 701.9h1.4v1.4h-1.4zM71.9 710.5h1.4v1.4h-1.4zM83.3 709.3h1.4v1.4h-1.4zM74.7 707.9h1.4v1.4h-1.4zM76.1 711.0h1.4v1.4h-1.4zM80.0 715.6h1.4v1.4h-1.4zM80.1 709.8h1.4v1.4h-1.4zM74.6 717.9h1.4v1.4h-1.4zM76.7 710.6h1.4v1.4h-1.4zM86.6 714.5h1.4v1.4h-1.4zM79.0 709.6h1.4v1.4h-1.4zM71.6 716.5h1.4v1.4h-1.4zM72.7 715.8h1.4v1.4h-1.4zM70.7 712.8h1.4v1.4h-1.4zM78.0 710.9h1.4v1.4h-1.4zM76.9 712.2h1.4v1.4h-1.4zM68.6 708.3h1.4v1.4h-1.4zM74.6 718.8h1.4v1.4h-1.4zM74.7 707.4h1.4v1.4h-1.4zM71.4 712.3h1.4v1.4h-1.4zM82.8 706.6h1.4v1.4h-1.4zM79.0 710.8h1.4v1.4h-1.4zM73.3 707.7h1.4v1.4h-1.4zM74.6 708.3h1.4v1.4h-1.4zM78.8 702.8h1.4v1.4h-1.4zM82.4 712.2h1.4v1.4h-1.4zM79.1 716.2h1.4v1.4h-1.4zM79.2 702.9h1.4v1.4h-1.4zM75.8 712.8h1.4v1.4h-1.4zM71.3 707.5h1.4v1.4h-1.4zM78.2 712.4h1.4v1.4h-1.4zM72.9 710.7h1.4v1.4h-1.4zM72.4 709.5h1.4v1.4h-1.4zM75.1 715.6h1.4v1.4h-1.4zM65.6 712.3h1.4v1.4h-1.4zM85.4 709.6h1.4v1.4h-1.4zM76.4 714.2h1.4v1.4h-1.4zM69.3 707.7h1.4v1.4h-1.4zM65.3 707.8h1.4v1.4h-1.4zM77.0 714.1h1.4v1.4h-1.4zM72.9 708.9h1.4v1.4h-1.4zM78.0 712.9h1.4v1.4h-1.4zM77.1 702.7h1.4v1.4h-1.4zM72.2 701.4h1.4v1.4h-1.4zM77.0 707.1h1.4v1.4h-1.4zM71.5 718.4h1.4v1.4h-1.4zM83.6 710.7h1.4v1.4h-1.4zM77.2 711.2h1.4v1.4h-1.4zM71.9 711.8h1.4v1.4h-1.4zM87.2 704.1h1.4v1.4h-1.4zM71.4 712.8h1.4v1.4h-1.4zM81.0 712.9h1.4v1.4h-1.4zM69.6 712.1h1.4v1.4h-1.4zM73.9 706.3h1.4v1.4h-1.4zM76.0 708.9h1.4v1.4h-1.4zM81.1 711.2h1.4v1.4h-1.4zM70.7 712.7h1.4v1.4h-1.4zM73.3 709.0h1.4v1.4h-1.4zM72.5 716.2h1.4v1.4h-1.4zM73.0 704.6h1.4v1.4h-1.4zM70.8 715.7h1.4v1.4h-1.4zM88.7 703.0h1.4v1.4h-1.4zM73.3 710.2h1.4v1.4h-1.4zM66.9 715.1h1.4v1.4h-1.4zM75.2 712.2h1.4v1.4h-1.4zM89.2 706.1h1.4v1.4h-1.4zM80.4 713.1h1.4v1.4h-1.4zM71.6 709.6h1.4v1.4h-1.4zM85.0 711.3h1.4v1.4h-1.4zM76.4 706.2h1.4v1.4h-1.4zM80.9 711.7h1.4v1.4h-1.4zM89.0 713.4h1.4v1.4h-1.4zM80.4 710.7h1.4v1.4h-1.4zM75.9 708.6h1.4v1.4h-1.4zM77.4 711.5h1.4v1.4h-1.4zM79.5 714.4h1.4v1.4h-1.4zM77.4 708.2h1.4v1.4h-1.4zM80.4 716.1h1.4v1.4h-1.4zM70.4 714.2h1.4v1.4h-1.4zM78.9 712.3h1.4v1.4h-1.4zM78.6 709.8h1.4v1.4h-1.4zM74.9 718.2h1.4v1.4h-1.4zM86.1 702.3h1.4v1.4h-1.4zM60.0 717.1h1.4v1.4h-1.4zM71.4 710.0h1.4v1.4h-1.4zM65.7 715.2h1.4v1.4h-1.4zM75.2 708.9h1.4v1.4h-1.4zM81.0 719.5h1.4v1.4h-1.4zM84.5 713.3h1.4v1.4h-1.4zM73.0 714.4h1.4v1.4h-1.4zM75.3 715.9h1.4v1.4h-1.4zM79.1 709.9h1.4v1.4h-1.4zM78.9 707.1h1.4v1.4h-1.4zM80.4 715.9h1.4v1.4h-1.4zM73.3 713.9h1.4v1.4h-1.4zM65.3 717.7h1.4v1.4h-1.4zM80.9 705.3h1.4v1.4h-1.4zM86.2 708.5h1.4v1.4h-1.4zM64.9 708.3h1.4v1.4h-1.4zM80.9 708.4h1.4v1.4h-1.4zM82.3 702.7h1.4v1.4h-1.4zM74.9 715.2h1.4v1.4h-1.4zM71.4 715.0h1.4v1.4h-1.4zM73.3 713.0h1.4v1.4h-1.4zM77.5 719.7h1.4v1.4h-1.4zM67.9 716.3h1.4v1.4h-1.4zM83.5 704.1h1.4v1.4h-1.4zM76.0 720.4h1.4v1.4h-1.4zM81.9 697.0h1.4v1.4h-1.4zM74.0 704.3h1.4v1.4h-1.4zM77.4 707.5h1.4v1.4h-1.4zM72.1 708.5h1.4v1.4h-1.4zM77.3 708.6h1.4v1.4h-1.4zM70.0 711.6h1.4v1.4h-1.4zM78.0 706.8h1.4v1.4h-1.4zM82.3 702.3h1.4v1.4h-1.4zM78.0 708.7h1.4v1.4h-1.4zM85.1 705.7h1.4v1.4h-1.4zM71.4 706.6h1.4v1.4h-1.4zM87.7 710.2h1.4v1.4h-1.4zM68.9 711.5h1.4v1.4h-1.4zM69.6 718.9h1.4v1.4h-1.4zM78.1 701.9h1.4v1.4h-1.4zM76.8 714.4h1.4v1.4h-1.4zM75.5 713.0h1.4v1.4h-1.4zM74.8 712.1h1.4v1.4h-1.4zM76.8 707.7h1.4v1.4h-1.4zM77.6 711.1h1.4v1.4h-1.4zM75.3 708.2h1.4v1.4h-1.4zM69.3 713.7h1.4v1.4h-1.4zM80.6 699.6h1.4v1.4h-1.4zM72.2 717.5h1.4v1.4h-1.4zM81.1 706.5h1.4v1.4h-1.4zM83.8 704.6h1.4v1.4h-1.4zM70.7 720.4h1.4v1.4h-1.4zM72.8 710.8h1.4v1.4h-1.4zM65.4 709.6h1.4v1.4h-1.4zM68.3 712.4h1.4v1.4h-1.4zM64.3 718.5h1.4v1.4h-1.4zM73.3 709.1h1.4v1.4h-1.4zM71.6 715.2h1.4v1.4h-1.4zM84.9 706.7h1.4v1.4h-1.4zM85.4 714.9h1.4v1.4h-1.4zM83.7 710.0h1.4v1.4h-1.4zM66.4 716.3h1.4v1.4h-1.4zM73.0 712.5h1.4v1.4h-1.4zM64.0 713.0h1.4v1.4h-1.4zM76.9 706.7h1.4v1.4h-1.4zM77.3 717.4h1.4v1.4h-1.4zM76.9 707.8h1.4v1.4h-1.4zM90.1 698.0h1.4v1.4h-1.4zM69.9 714.3h1.4v1.4h-1.4zM71.9 702.5h1.4v1.4h-1.4zM77.1 714.0h1.4v1.4h-1.4zM70.6 718.4h1.4v1.4h-1.4zM78.6 715.1h1.4v1.4h-1.4zM66.1 713.6h1.4v1.4h-1.4zM85.3 716.6h1.4v1.4h-1.4zM83.6 708.8h1.4v1.4h-1.4zM76.6 708.1h1.4v1.4h-1.4zM82.2 706.2h1.4v1.4h-1.4zM76.3 702.2h1.4v1.4h-1.4zM66.3 720.9h1.4v1.4h-1.4zM75.9 711.8h1.4v1.4h-1.4zM62.0 714.6h1.4v1.4h-1.4zM88.2 701.3h1.4v1.4h-1.4zM60.9 714.4h1.4v1.4h-1.4zM72.2 711.0h1.4v1.4h-1.4zM67.8 707.5h1.4v1.4h-1.4zM67.9 715.8h1.4v1.4h-1.4zM75.2 714.5h1.4v1.4h-1.4zM68.9 715.3h1.4v1.4h-1.4zM72.8 712.1h1.4v1.4h-1.4zM81.2 709.5h1.4v1.4h-1.4zM73.3 704.7h1.4v1.4h-1.4zM75.9 714.1h1.4v1.4h-1.4zM71.6 711.8h1.4v1.4h-1.4zM64.6 708.5h1.4v1.4h-1.4zM78.0 715.7h1.4v1.4h-1.4zM73.6 704.6h1.4v1.4h-1.4zM73.2 705.1h1.4v1.4h-1.4zM73.8 719.5h1.4v1.4h-1.4zM77.3 709.9h1.4v1.4h-1.4zM81.9 707.6h1.4v1.4h-1.4zM77.5 711.3h1.4v1.4h-1.4zM78.3 704.1h1.4v1.4h-1.4zM79.9 713.5h1.4v1.4h-1.4zM61.4 703.6h1.4v1.4h-1.4zM70.0 718.8h1.4v1.4h-1.4zM75.6 713.8h1.4v1.4h-1.4zM78.9 713.8h1.4v1.4h-1.4zM71.6 709.6h1.4v1.4h-1.4zM77.8 712.9h1.4v1.4h-1.4zM79.1 711.4h1.4v1.4h-1.4zM72.5 716.5h1.4v1.4h-1.4zM78.4 714.6h1.4v1.4h-1.4zM59.8 719.6h1.4v1.4h-1.4zM60.4 716.1h1.4v1.4h-1.4zM71.4 712.6h1.4v1.4h-1.4zM72.6 710.5h1.4v1.4h-1.4zM76.7 712.1h1.4v1.4h-1.4zM70.5 701.8h1.4v1.4h-1.4zM70.7 714.6h1.4v1.4h-1.4zM70.3 714.2h1.4v1.4h-1.4zM73.2 707.7h1.4v1.4h-1.4zM82.8 715.9h1.4v1.4h-1.4zM74.9 711.0h1.4v1.4h-1.4zM81.5 703.8h1.4v1.4h-1.4zM70.1 717.3h1.4v1.4h-1.4zM81.1 707.4h1.4v1.4h-1.4zM70.7 713.8h1.4v1.4h-1.4zM66.7 711.3h1.4v1.4h-1.4zM74.1 701.1h1.4v1.4h-1.4zM79.2 713.2h1.4v1.4h-1.4zM82.1 703.1h1.4v1.4h-1.4zM67.5 709.8h1.4v1.4h-1.4zM67.4 721.9h1.4v1.4h-1.4zM69.4 711.4h1.4v1.4h-1.4zM76.8 712.6h1.4v1.4h-1.4zM84.5 703.9h1.4v1.4h-1.4zM81.0 710.1h1.4v1.4h-1.4zM68.2 713.7h1.4v1.4h-1.4zM66.8 720.3h1.4v1.4h-1.4zM70.9 716.5h1.4v1.4h-1.4zM83.6 706.1h1.4v1.4h-1.4zM69.9 713.1h1.4v1.4h-1.4zM68.9 716.6h1.4v1.4h-1.4zM76.6 707.5h1.4v1.4h-1.4zM71.2 715.3h1.4v1.4h-1.4zM66.4 720.7h1.4v1.4h-1.4zM70.6 711.5h1.4v1.4h-1.4zM69.7 719.5h1.4v1.4h-1.4zM80.7 715.1h1.4v1.4h-1.4zM79.6 710.2h1.4v1.4h-1.4zM86.1 710.9h1.4v1.4h-1.4zM78.2 712.7h1.4v1.4h-1.4zM80.1 710.9h1.4v1.4h-1.4zM74.5 704.5h1.4v1.4h-1.4zM88.4 701.9h1.4v1.4h-1.4zM62.0 711.7h1.4v1.4h-1.4zM87.6 712.8h1.4v1.4h-1.4zM71.7 713.2h1.4v1.4h-1.4zM75.3 702.6h1.4v1.4h-1.4zM73.4 712.8h1.4v1.4h-1.4zM82.9 703.9h1.4v1.4h-1.4zM61.3 708.3h1.4v1.4h-1.4zM77.6 710.8h1.4v1.4h-1.4zM76.4 711.4h1.4v1.4h-1.4zM73.2 705.8h1.4v1.4h-1.4zM78.4 711.9h1.4v1.4h-1.4zM79.1 715.3h1.4v1.4h-1.4zM67.7 703.2h1.4v1.4h-1.4zM64.3 723.2h1.4v1.4h-1.4zM69.8 714.3h1.4v1.4h-1.4zM75.4 714.1h1.4v1.4h-1.4zM95.7 703.2h1.4v1.4h-1.4zM74.4 708.8h1.4v1.4h-1.4zM77.0 712.8h1.4v1.4h-1.4zM69.4 718.3h1.4v1.4h-1.4zM82.7 710.9h1.4v1.4h-1.4zM74.8 710.2h1.4v1.4h-1.4zM65.1 716.7h1.4v1.4h-1.4zM69.4 710.6h1.4v1.4h-1.4zM81.8 705.3h1.4v1.4h-1.4zM72.2 715.6h1.4v1.4h-1.4zM87.2 704.8h1.4v1.4h-1.4zM82.5 706.3h1.4v1.4h-1.4zM77.9 712.4h1.4v1.4h-1.4zM68.3 717.4h1.4v1.4h-1.4zM86.8 708.1h1.4v1.4h-1.4zM77.2 705.5h1.4v1.4h-1.4zM86.8 708.1h1.4v1.4h-1.4zM67.5 716.5h1.4v1.4h-1.4zM66.3 710.6h1.4v1.4h-1.4z" fill="#111" fill-opacity="1"/><path d="M57.8 722.2h1.3v1.3h-1.3zM96.9 700.1h1.3v1.3h-1.3zM71.1 707.0h1.3v1.3h-1.3zM71.9 713.7h1.3v1.3h-1.3zM90.1 699.5h1.3v1.3h-1.3zM81.0 697.0h1.3v1.3h-1.3zM90.7 705.0h1.3v1.3h-1.3zM70.7 719.9h1.3v1.3h-1.3zM76.0 717.6h1.3v1.3h-1.3zM86.7 716.6h1.3v1.3h-1.3zM69.8 711.2h1.3v1.3h-1.3zM80.3 707.0h1.3v1.3h-1.3zM90.7 701.2h1.3v1.3h-1.3zM86.0 715.0h1.3v1.3h-1.3zM59.4 707.5h1.3v1.3h-1.3zM68.9 707.7h1.3v1.3h-1.3zM80.5 707.1h1.3v1.3h-1.3zM77.7 706.0h1.3v1.3h-1.3zM76.3 712.1h1.3v1.3h-1.3zM83.7 702.5h1.3v1.3h-1.3zM76.0 704.6h1.3v1.3h-1.3zM75.4 700.7h1.3v1.3h-1.3zM85.6 710.9h1.3v1.3h-1.3zM75.9 705.1h1.3v1.3h-1.3zM72.9 706.0h1.3v1.3h-1.3zM63.1 722.5h1.3v1.3h-1.3zM106.6 694.0h1.3v1.3h-1.3zM66.5 715.2h1.3v1.3h-1.3zM82.5 698.0h1.3v1.3h-1.3zM59.7 716.7h1.3v1.3h-1.3zM59.1 722.2h1.3v1.3h-1.3zM72.5 710.6h1.3v1.3h-1.3zM77.0 705.6h1.3v1.3h-1.3zM75.7 707.5h1.3v1.3h-1.3zM88.2 705.6h1.3v1.3h-1.3zM76.7 705.8h1.3v1.3h-1.3zM71.3 706.0h1.3v1.3h-1.3zM77.1 720.2h1.3v1.3h-1.3zM87.0 707.9h1.3v1.3h-1.3zM92.0 711.4h1.3v1.3h-1.3zM78.9 707.5h1.3v1.3h-1.3zM67.1 713.0h1.3v1.3h-1.3zM74.2 700.1h1.3v1.3h-1.3zM65.4 723.7h1.3v1.3h-1.3zM78.9 711.5h1.3v1.3h-1.3zM78.8 705.7h1.3v1.3h-1.3zM81.2 714.5h1.3v1.3h-1.3zM74.2 712.8h1.3v1.3h-1.3zM86.2 703.7h1.3v1.3h-1.3zM78.5 704.1h1.3v1.3h-1.3zM82.4 705.4h1.3v1.3h-1.3zM87.3 701.7h1.3v1.3h-1.3zM92.2 703.3h1.3v1.3h-1.3zM69.4 705.4h1.3v1.3h-1.3zM83.0 702.3h1.3v1.3h-1.3zM93.2 712.7h1.3v1.3h-1.3zM81.7 699.2h1.3v1.3h-1.3zM76.8 704.6h1.3v1.3h-1.3zM60.7 715.7h1.3v1.3h-1.3zM96.8 700.7h1.3v1.3h-1.3zM84.3 715.0h1.3v1.3h-1.3zM68.4 709.1h1.3v1.3h-1.3zM79.4 711.3h1.3v1.3h-1.3zM66.7 712.9h1.3v1.3h-1.3zM76.0 715.0h1.3v1.3h-1.3zM62.6 709.2h1.3v1.3h-1.3zM72.5 708.2h1.3v1.3h-1.3zM83.5 703.5h1.3v1.3h-1.3zM101.6 698.5h1.3v1.3h-1.3zM84.6 713.3h1.3v1.3h-1.3zM85.7 705.6h1.3v1.3h-1.3zM69.5 709.3h1.3v1.3h-1.3zM83.0 708.2h1.3v1.3h-1.3zM82.2 711.2h1.3v1.3h-1.3zM69.0 705.3h1.3v1.3h-1.3zM90.0 702.8h1.3v1.3h-1.3zM62.7 723.9h1.3v1.3h-1.3zM69.5 705.2h1.3v1.3h-1.3zM85.7 699.9h1.3v1.3h-1.3zM69.2 717.4h1.3v1.3h-1.3zM69.6 726.1h1.3v1.3h-1.3zM77.9 725.1h1.3v1.3h-1.3zM78.2 709.0h1.3v1.3h-1.3zM71.2 709.1h1.3v1.3h-1.3zM72.5 710.0h1.3v1.3h-1.3zM83.9 699.5h1.3v1.3h-1.3zM68.7 698.3h1.3v1.3h-1.3zM90.5 705.1h1.3v1.3h-1.3zM76.9 708.7h1.3v1.3h-1.3zM86.0 708.7h1.3v1.3h-1.3zM84.7 706.0h1.3v1.3h-1.3zM75.9 708.9h1.3v1.3h-1.3zM60.2 719.9h1.3v1.3h-1.3zM62.8 706.5h1.3v1.3h-1.3zM83.0 707.8h1.3v1.3h-1.3zM84.3 717.5h1.3v1.3h-1.3zM93.8 713.2h1.3v1.3h-1.3zM75.0 722.0h1.3v1.3h-1.3zM69.1 710.5h1.3v1.3h-1.3zM86.0 705.4h1.3v1.3h-1.3zM75.9 707.1h1.3v1.3h-1.3zM89.3 690.9h1.3v1.3h-1.3zM88.5 712.6h1.3v1.3h-1.3zM76.3 712.6h1.3v1.3h-1.3zM68.3 718.0h1.3v1.3h-1.3zM104.5 696.4h1.3v1.3h-1.3zM89.6 705.5h1.3v1.3h-1.3zM74.0 706.8h1.3v1.3h-1.3zM75.3 701.8h1.3v1.3h-1.3zM64.8 722.2h1.3v1.3h-1.3zM76.8 712.4h1.3v1.3h-1.3zM79.8 711.2h1.3v1.3h-1.3zM63.3 706.7h1.3v1.3h-1.3zM82.7 713.6h1.3v1.3h-1.3zM66.7 708.1h1.3v1.3h-1.3zM67.4 715.4h1.3v1.3h-1.3zM80.1 708.4h1.3v1.3h-1.3zM71.2 712.6h1.3v1.3h-1.3zM77.3 704.4h1.3v1.3h-1.3zM80.0 704.2h1.3v1.3h-1.3zM85.6 710.6h1.3v1.3h-1.3zM70.8 714.1h1.3v1.3h-1.3zM77.6 704.5h1.3v1.3h-1.3zM68.8 701.0h1.3v1.3h-1.3zM66.8 713.7h1.3v1.3h-1.3zM87.9 702.4h1.3v1.3h-1.3zM78.4 710.7h1.3v1.3h-1.3zM84.0 709.9h1.3v1.3h-1.3zM88.0 710.9h1.3v1.3h-1.3zM70.1 713.1h1.3v1.3h-1.3z" fill="#111" fill-opacity="0.85"/><path d="M107.4 706.8h1.3v1.3h-1.3zM113.6 711.8h1.3v1.3h-1.3zM112.7 713.4h1.3v1.3h-1.3zM116.9 702.5h1.3v1.3h-1.3zM112.1 709.7h1.3v1.3h-1.3zM114.8 708.9h1.3v1.3h-1.3zM115.7 700.3h1.3v1.3h-1.3zM115.5 715.6h1.3v1.3h-1.3zM116.4 710.8h1.3v1.3h-1.3zM112.9 710.6h1.3v1.3h-1.3zM113.3 697.7h1.3v1.3h-1.3zM111.9 707.7h1.3v1.3h-1.3zM112.2 701.9h1.3v1.3h-1.3zM112.9 705.6h1.3v1.3h-1.3zM113.7 707.7h1.3v1.3h-1.3zM113.9 714.5h1.3v1.3h-1.3zM113.9 710.6h1.3v1.3h-1.3zM110.3 688.8h1.3v1.3h-1.3zM112.5 712.4h1.3v1.3h-1.3zM112.6 703.9h1.3v1.3h-1.3zM110.3 713.8h1.3v1.3h-1.3zM112.1 709.6h1.3v1.3h-1.3zM116.4 711.5h1.3v1.3h-1.3zM119.3 707.1h1.3v1.3h-1.3zM116.0 712.5h1.3v1.3h-1.3zM111.8 708.3h1.3v1.3h-1.3zM112.0 701.3h1.3v1.3h-1.3zM114.3 703.0h1.3v1.3h-1.3zM117.9 703.2h1.3v1.3h-1.3zM112.1 708.6h1.3v1.3h-1.3zM112.2 708.3h1.3v1.3h-1.3zM111.9 698.8h1.3v1.3h-1.3zM107.2 699.6h1.3v1.3h-1.3zM117.5 710.9h1.3v1.3h-1.3zM113.9 705.0h1.3v1.3h-1.3zM113.1 709.9h1.3v1.3h-1.3zM109.9 702.8h1.3v1.3h-1.3zM111.2 716.2h1.3v1.3h-1.3zM110.8 715.6h1.3v1.3h-1.3zM112.3 725.7h1.3v1.3h-1.3zM113.3 708.2h1.3v1.3h-1.3zM117.0 713.7h1.3v1.3h-1.3zM115.9 701.1h1.3v1.3h-1.3zM116.5 718.9h1.3v1.3h-1.3zM113.2 704.9h1.3v1.3h-1.3zM110.7 714.6h1.3v1.3h-1.3zM114.3 708.0h1.3v1.3h-1.3zM110.3 718.5h1.3v1.3h-1.3zM115.8 707.9h1.3v1.3h-1.3zM117.3 701.8h1.3v1.3h-1.3zM115.8 701.5h1.3v1.3h-1.3zM117.2 706.2h1.3v1.3h-1.3zM116.7 705.3h1.3v1.3h-1.3zM114.5 715.4h1.3v1.3h-1.3zM111.2 708.6h1.3v1.3h-1.3zM111.3 713.5h1.3v1.3h-1.3zM111.9 705.6h1.3v1.3h-1.3zM113.0 715.6h1.3v1.3h-1.3zM110.8 707.8h1.3v1.3h-1.3zM112.6 704.4h1.3v1.3h-1.3zM111.5 707.0h1.3v1.3h-1.3zM114.0 697.9h1.3v1.3h-1.3zM114.1 700.3h1.3v1.3h-1.3zM113.5 722.8h1.3v1.3h-1.3zM111.0 707.6h1.3v1.3h-1.3zM112.8 714.4h1.3v1.3h-1.3zM112.3 696.4h1.3v1.3h-1.3zM109.3 709.2h1.3v1.3h-1.3zM114.2 714.9h1.3v1.3h-1.3zM112.1 712.3h1.3v1.3h-1.3zM110.7 716.4h1.3v1.3h-1.3zM113.3 703.6h1.3v1.3h-1.3zM114.0 719.3h1.3v1.3h-1.3zM111.3 699.9h1.3v1.3h-1.3zM110.9 700.5h1.3v1.3h-1.3zM113.4 710.3h1.3v1.3h-1.3zM113.1 709.3h1.3v1.3h-1.3zM116.6 706.1h1.3v1.3h-1.3zM110.2 693.1h1.3v1.3h-1.3zM114.1 703.6h1.3v1.3h-1.3zM112.9 710.7h1.3v1.3h-1.3zM114.7 697.8h1.3v1.3h-1.3zM111.0 708.5h1.3v1.3h-1.3zM113.1 715.5h1.3v1.3h-1.3zM112.2 694.6h1.3v1.3h-1.3zM116.5 697.4h1.3v1.3h-1.3zM111.0 710.5h1.3v1.3h-1.3zM110.7 724.2h1.3v1.3h-1.3zM114.1 711.5h1.3v1.3h-1.3zM112.4 722.4h1.3v1.3h-1.3zM114.9 703.3h1.3v1.3h-1.3zM116.8 697.0h1.3v1.3h-1.3zM112.0 709.9h1.3v1.3h-1.3zM113.9 701.8h1.3v1.3h-1.3zM117.6 717.6h1.3v1.3h-1.3zM111.1 710.4h1.3v1.3h-1.3zM111.9 705.2h1.3v1.3h-1.3zM116.1 708.8h1.3v1.3h-1.3zM113.2 708.7h1.3v1.3h-1.3zM110.5 715.9h1.3v1.3h-1.3zM111.5 716.5h1.3v1.3h-1.3zM112.3 705.0h1.3v1.3h-1.3zM117.4 709.2h1.3v1.3h-1.3zM111.8 704.5h1.3v1.3h-1.3zM115.1 720.2h1.3v1.3h-1.3zM115.1 705.4h1.3v1.3h-1.3zM110.6 703.6h1.3v1.3h-1.3zM113.2 709.6h1.3v1.3h-1.3zM111.8 716.3h1.3v1.3h-1.3zM111.0 703.4h1.3v1.3h-1.3zM114.8 711.1h1.3v1.3h-1.3zM112.5 714.3h1.3v1.3h-1.3zM109.8 718.6h1.3v1.3h-1.3zM119.2 720.7h1.3v1.3h-1.3zM113.8 720.8h1.3v1.3h-1.3zM113.6 716.6h1.3v1.3h-1.3zM113.0 709.3h1.3v1.3h-1.3zM114.9 696.6h1.3v1.3h-1.3zM113.0 719.2h1.3v1.3h-1.3zM105.9 710.5h1.3v1.3h-1.3zM115.9 710.1h1.3v1.3h-1.3zM114.0 717.0h1.3v1.3h-1.3zM114.4 695.7h1.3v1.3h-1.3zM111.0 706.1h1.3v1.3h-1.3zM113.9 705.1h1.3v1.3h-1.3zM113.2 718.8h1.3v1.3h-1.3zM105.9 715.5h1.3v1.3h-1.3zM115.9 711.9h1.3v1.3h-1.3zM113.5 708.4h1.3v1.3h-1.3zM114.4 709.6h1.3v1.3h-1.3zM111.6 713.1h1.3v1.3h-1.3zM111.4 707.7h1.3v1.3h-1.3zM112.6 700.5h1.3v1.3h-1.3zM115.1 707.5h1.3v1.3h-1.3zM110.5 707.5h1.3v1.3h-1.3zM109.9 717.3h1.3v1.3h-1.3zM114.8 720.9h1.3v1.3h-1.3zM112.0 712.6h1.3v1.3h-1.3zM111.0 702.5h1.3v1.3h-1.3zM113.3 710.7h1.3v1.3h-1.3zM115.9 706.3h1.3v1.3h-1.3zM116.4 714.3h1.3v1.3h-1.3zM111.2 706.8h1.3v1.3h-1.3zM111.1 719.1h1.3v1.3h-1.3zM112.1 713.7h1.3v1.3h-1.3zM115.9 706.4h1.3v1.3h-1.3zM112.2 710.2h1.3v1.3h-1.3zM111.5 699.8h1.3v1.3h-1.3zM111.0 710.2h1.3v1.3h-1.3zM114.0 719.4h1.3v1.3h-1.3zM108.8 711.3h1.3v1.3h-1.3zM110.5 715.5h1.3v1.3h-1.3zM115.3 708.8h1.3v1.3h-1.3zM117.3 705.6h1.3v1.3h-1.3zM112.1 701.2h1.3v1.3h-1.3zM111.8 708.7h1.3v1.3h-1.3zM115.2 716.3h1.3v1.3h-1.3zM112.8 703.3h1.3v1.3h-1.3zM112.6 705.2h1.3v1.3h-1.3zM112.3 705.4h1.3v1.3h-1.3zM111.2 707.7h1.3v1.3h-1.3zM112.2 706.9h1.3v1.3h-1.3zM109.9 708.9h1.3v1.3h-1.3zM115.0 712.2h1.3v1.3h-1.3zM112.1 700.6h1.3v1.3h-1.3zM110.1 700.4h1.3v1.3h-1.3zM111.8 706.0h1.3v1.3h-1.3zM108.9 712.3h1.3v1.3h-1.3zM109.5 703.6h1.3v1.3h-1.3zM111.6 713.3h1.3v1.3h-1.3zM118.2 705.7h1.3v1.3h-1.3zM112.8 705.5h1.3v1.3h-1.3zM113.0 706.9h1.3v1.3h-1.3zM119.9 701.0h1.3v1.3h-1.3zM113.2 702.9h1.3v1.3h-1.3zM114.4 704.7h1.3v1.3h-1.3zM115.0 701.0h1.3v1.3h-1.3zM118.9 709.4h1.3v1.3h-1.3zM108.9 712.5h1.3v1.3h-1.3zM112.3 700.6h1.3v1.3h-1.3zM114.6 704.7h1.3v1.3h-1.3zM115.4 704.5h1.3v1.3h-1.3zM115.8 709.0h1.3v1.3h-1.3zM114.4 709.0h1.3v1.3h-1.3zM112.6 705.7h1.3v1.3h-1.3zM114.7 712.6h1.3v1.3h-1.3zM112.5 722.4h1.3v1.3h-1.3zM117.9 700.6h1.3v1.3h-1.3zM116.3 707.6h1.3v1.3h-1.3zM114.1 702.9h1.3v1.3h-1.3zM117.7 702.7h1.3v1.3h-1.3zM113.3 703.4h1.3v1.3h-1.3zM118.5 716.0h1.3v1.3h-1.3zM110.1 705.1h1.3v1.3h-1.3zM114.4 705.2h1.3v1.3h-1.3zM112.6 701.1h1.3v1.3h-1.3zM114.1 701.0h1.3v1.3h-1.3zM115.6 723.4h1.3v1.3h-1.3zM112.7 718.5h1.3v1.3h-1.3zM114.5 703.7h1.3v1.3h-1.3z" fill="#111" fill-opacity="1"/><path d="M112.8 724.7h1.4v1.4h-1.4zM113.7 732.2h1.4v1.4h-1.4zM115.4 727.7h1.4v1.4h-1.4zM111.0 728.7h1.4v1.4h-1.4zM117.0 730.3h1.4v1.4h-1.4zM113.4 719.6h1.4v1.4h-1.4zM112.6 731.5h1.4v1.4h-1.4zM111.5 735.1h1.4v1.4h-1.4zM112.3 725.1h1.4v1.4h-1.4zM112.3 728.6h1.4v1.4h-1.4zM115.6 726.5h1.4v1.4h-1.4zM109.8 728.7h1.4v1.4h-1.4zM114.6 736.0h1.4v1.4h-1.4zM111.2 735.7h1.4v1.4h-1.4zM114.9 731.1h1.4v1.4h-1.4zM111.9 725.0h1.4v1.4h-1.4zM111.5 733.2h1.4v1.4h-1.4zM114.0 733.8h1.4v1.4h-1.4zM117.3 729.1h1.4v1.4h-1.4zM113.4 737.7h1.4v1.4h-1.4zM110.8 727.0h1.4v1.4h-1.4zM112.7 727.3h1.4v1.4h-1.4zM113.8 725.2h1.4v1.4h-1.4zM115.9 722.9h1.4v1.4h-1.4zM111.8 721.4h1.4v1.4h-1.4zM110.6 731.7h1.4v1.4h-1.4zM114.8 728.1h1.4v1.4h-1.4zM115.2 731.8h1.4v1.4h-1.4zM112.3 728.8h1.4v1.4h-1.4zM114.3 738.1h1.4v1.4h-1.4zM112.6 730.7h1.4v1.4h-1.4zM114.6 734.5h1.4v1.4h-1.4zM114.4 733.9h1.4v1.4h-1.4zM111.3 727.8h1.4v1.4h-1.4zM109.5 728.8h1.4v1.4h-1.4zM118.3 730.1h1.4v1.4h-1.4zM113.7 730.2h1.4v1.4h-1.4zM113.8 723.1h1.4v1.4h-1.4zM112.1 728.2h1.4v1.4h-1.4zM113.8 725.1h1.4v1.4h-1.4zM113.3 725.7h1.4v1.4h-1.4zM110.8 726.1h1.4v1.4h-1.4zM111.8 732.8h1.4v1.4h-1.4zM116.3 731.6h1.4v1.4h-1.4zM113.1 726.5h1.4v1.4h-1.4zM110.3 726.7h1.4v1.4h-1.4zM116.7 734.2h1.4v1.4h-1.4zM114.0 727.9h1.4v1.4h-1.4zM113.5 730.9h1.4v1.4h-1.4zM113.5 731.0h1.4v1.4h-1.4zM111.9 729.2h1.4v1.4h-1.4zM112.8 733.9h1.4v1.4h-1.4zM110.9 734.9h1.4v1.4h-1.4zM113.3 726.8h1.4v1.4h-1.4zM113.5 729.6h1.4v1.4h-1.4zM113.0 730.9h1.4v1.4h-1.4zM112.3 721.4h1.4v1.4h-1.4zM114.9 728.9h1.4v1.4h-1.4zM116.9 730.8h1.4v1.4h-1.4zM109.4 734.6h1.4v1.4h-1.4zM112.1 731.5h1.4v1.4h-1.4zM118.1 733.9h1.4v1.4h-1.4zM111.2 728.6h1.4v1.4h-1.4zM110.2 732.0h1.4v1.4h-1.4zM114.7 724.4h1.4v1.4h-1.4zM114.4 733.2h1.4v1.4h-1.4zM115.2 726.0h1.4v1.4h-1.4zM112.1 724.0h1.4v1.4h-1.4zM110.8 730.4h1.4v1.4h-1.4zM113.6 734.9h1.4v1.4h-1.4zM114.1 727.6h1.4v1.4h-1.4zM110.6 736.0h1.4v1.4h-1.4zM113.8 728.9h1.4v1.4h-1.4zM111.4 724.3h1.4v1.4h-1.4zM114.8 724.7h1.4v1.4h-1.4zM114.7 731.8h1.4v1.4h-1.4zM112.7 721.8h1.4v1.4h-1.4zM114.3 735.3h1.4v1.4h-1.4zM111.8 723.4h1.4v1.4h-1.4zM115.7 729.7h1.4v1.4h-1.4zM112.2 734.5h1.4v1.4h-1.4zM112.9 731.1h1.4v1.4h-1.4zM112.7 725.7h1.4v1.4h-1.4zM114.0 725.2h1.4v1.4h-1.4zM109.8 726.6h1.4v1.4h-1.4zM116.0 734.0h1.4v1.4h-1.4zM118.0 733.5h1.4v1.4h-1.4zM116.8 730.2h1.4v1.4h-1.4zM112.6 731.1h1.4v1.4h-1.4zM111.5 732.3h1.4v1.4h-1.4zM112.6 730.2h1.4v1.4h-1.4zM111.7 728.4h1.4v1.4h-1.4zM115.5 728.1h1.4v1.4h-1.4zM112.1 730.3h1.4v1.4h-1.4zM115.3 728.2h1.4v1.4h-1.4zM111.1 722.1h1.4v1.4h-1.4zM110.7 733.8h1.4v1.4h-1.4zM113.3 731.2h1.4v1.4h-1.4zM115.7 730.3h1.4v1.4h-1.4zM114.5 726.8h1.4v1.4h-1.4zM110.2 731.9h1.4v1.4h-1.4zM113.3 731.6h1.4v1.4h-1.4zM111.3 728.4h1.4v1.4h-1.4zM117.7 725.3h1.4v1.4h-1.4zM113.7 734.9h1.4v1.4h-1.4zM113.0 729.6h1.4v1.4h-1.4zM109.1 732.5h1.4v1.4h-1.4zM112.6 734.8h1.4v1.4h-1.4zM113.3 727.4h1.4v1.4h-1.4zM114.4 728.0h1.4v1.4h-1.4zM112.4 735.9h1.4v1.4h-1.4zM115.5 729.5h1.4v1.4h-1.4zM115.2 732.7h1.4v1.4h-1.4zM114.7 729.3h1.4v1.4h-1.4zM113.6 730.9h1.4v1.4h-1.4zM114.7 730.6h1.4v1.4h-1.4zM112.4 728.7h1.4v1.4h-1.4zM114.4 724.7h1.4v1.4h-1.4zM113.5 732.4h1.4v1.4h-1.4zM113.8 727.8h1.4v1.4h-1.4zM113.5 726.9h1.4v1.4h-1.4zM115.5 727.4h1.4v1.4h-1.4zM110.1 723.7h1.4v1.4h-1.4zM114.1 730.0h1.4v1.4h-1.4zM112.5 723.3h1.4v1.4h-1.4zM113.2 725.4h1.4v1.4h-1.4zM112.2 729.1h1.4v1.4h-1.4zM111.9 730.4h1.4v1.4h-1.4zM112.0 727.0h1.4v1.4h-1.4zM113.0 735.5h1.4v1.4h-1.4zM116.7 733.2h1.4v1.4h-1.4zM112.0 729.1h1.4v1.4h-1.4zM115.4 732.6h1.4v1.4h-1.4zM110.2 728.8h1.4v1.4h-1.4zM112.0 732.4h1.4v1.4h-1.4zM114.8 726.7h1.4v1.4h-1.4zM117.9 727.8h1.4v1.4h-1.4zM118.5 728.3h1.4v1.4h-1.4zM113.3 737.4h1.4v1.4h-1.4zM112.4 727.0h1.4v1.4h-1.4zM116.5 728.9h1.4v1.4h-1.4zM114.5 723.5h1.4v1.4h-1.4zM117.2 733.4h1.4v1.4h-1.4zM114.2 732.2h1.4v1.4h-1.4zM112.5 727.0h1.4v1.4h-1.4zM110.3 730.7h1.4v1.4h-1.4zM116.0 732.8h1.4v1.4h-1.4zM115.4 732.2h1.4v1.4h-1.4zM111.6 723.3h1.4v1.4h-1.4zM114.8 729.8h1.4v1.4h-1.4zM115.5 727.9h1.4v1.4h-1.4zM111.7 731.0h1.4v1.4h-1.4zM112.4 721.9h1.4v1.4h-1.4zM112.2 725.2h1.4v1.4h-1.4zM111.2 726.7h1.4v1.4h-1.4zM115.5 739.4h1.4v1.4h-1.4zM117.1 727.3h1.4v1.4h-1.4zM115.8 728.8h1.4v1.4h-1.4zM114.3 726.1h1.4v1.4h-1.4zM113.3 721.7h1.4v1.4h-1.4zM117.2 725.7h1.4v1.4h-1.4zM114.7 726.5h1.4v1.4h-1.4zM114.1 723.9h1.4v1.4h-1.4zM112.7 733.1h1.4v1.4h-1.4zM114.7 720.6h1.4v1.4h-1.4zM115.3 723.3h1.4v1.4h-1.4zM114.1 731.3h1.4v1.4h-1.4zM112.2 727.7h1.4v1.4h-1.4zM113.0 730.8h1.4v1.4h-1.4zM115.4 735.0h1.4v1.4h-1.4zM114.2 737.8h1.4v1.4h-1.4zM111.6 736.9h1.4v1.4h-1.4zM113.0 732.4h1.4v1.4h-1.4zM113.2 729.4h1.4v1.4h-1.4zM111.6 730.8h1.4v1.4h-1.4zM117.7 729.7h1.4v1.4h-1.4zM113.5 729.1h1.4v1.4h-1.4zM115.0 728.2h1.4v1.4h-1.4zM113.5 730.0h1.4v1.4h-1.4zM116.2 733.2h1.4v1.4h-1.4zM111.3 726.3h1.4v1.4h-1.4zM113.5 732.8h1.4v1.4h-1.4zM115.5 728.2h1.4v1.4h-1.4zM117.9 728.4h1.4v1.4h-1.4zM116.4 735.3h1.4v1.4h-1.4zM116.8 730.0h1.4v1.4h-1.4zM114.7 722.4h1.4v1.4h-1.4zM109.8 726.4h1.4v1.4h-1.4zM115.0 733.7h1.4v1.4h-1.4zM113.3 733.6h1.4v1.4h-1.4zM114.7 735.7h1.4v1.4h-1.4zM110.2 725.5h1.4v1.4h-1.4zM111.5 724.5h1.4v1.4h-1.4zM116.9 725.0h1.4v1.4h-1.4zM111.8 727.3h1.4v1.4h-1.4zM115.3 727.1h1.4v1.4h-1.4zM115.0 731.5h1.4v1.4h-1.4zM112.2 718.8h1.4v1.4h-1.4zM111.6 723.6h1.4v1.4h-1.4zM116.9 725.9h1.4v1.4h-1.4zM111.3 730.7h1.4v1.4h-1.4zM113.6 725.0h1.4v1.4h-1.4zM115.8 733.1h1.4v1.4h-1.4zM114.1 725.8h1.4v1.4h-1.4zM111.7 720.1h1.4v1.4h-1.4zM114.3 730.8h1.4v1.4h-1.4zM111.6 729.2h1.4v1.4h-1.4zM120.2 724.1h1.4v1.4h-1.4zM110.0 731.7h1.4v1.4h-1.4zM112.6 726.9h1.4v1.4h-1.4zM114.8 728.5h1.4v1.4h-1.4zM115.5 731.3h1.4v1.4h-1.4zM115.9 729.6h1.4v1.4h-1.4zM109.1 735.0h1.4v1.4h-1.4zM110.0 733.6h1.4v1.4h-1.4zM114.0 723.0h1.4v1.4h-1.4zM113.6 732.9h1.4v1.4h-1.4zM111.4 729.2h1.4v1.4h-1.4zM112.0 724.7h1.4v1.4h-1.4zM112.2 734.6h1.4v1.4h-1.4zM114.9 728.9h1.4v1.4h-1.4zM113.3 729.6h1.4v1.4h-1.4zM114.1 729.9h1.4v1.4h-1.4zM110.0 733.1h1.4v1.4h-1.4zM111.7 717.7h1.4v1.4h-1.4zM114.9 723.8h1.4v1.4h-1.4zM113.2 728.6h1.4v1.4h-1.4zM112.3 731.4h1.4v1.4h-1.4zM112.9 727.8h1.4v1.4h-1.4zM111.5 727.8h1.4v1.4h-1.4zM111.4 729.2h1.4v1.4h-1.4zM116.2 733.5h1.4v1.4h-1.4zM114.4 723.1h1.4v1.4h-1.4zM115.6 733.1h1.4v1.4h-1.4zM117.8 719.2h1.4v1.4h-1.4zM113.5 727.6h1.4v1.4h-1.4zM115.7 724.3h1.4v1.4h-1.4zM112.7 739.2h1.4v1.4h-1.4zM115.6 720.3h1.4v1.4h-1.4zM113.5 735.0h1.4v1.4h-1.4zM112.2 731.7h1.4v1.4h-1.4zM113.7 722.6h1.4v1.4h-1.4zM112.2 734.0h1.4v1.4h-1.4zM115.9 726.4h1.4v1.4h-1.4zM115.8 725.9h1.4v1.4h-1.4zM114.0 728.9h1.4v1.4h-1.4zM110.9 730.5h1.4v1.4h-1.4zM112.7 717.0h1.4v1.4h-1.4zM111.8 725.3h1.4v1.4h-1.4zM111.8 724.8h1.4v1.4h-1.4zM112.1 718.3h1.4v1.4h-1.4zM115.3 729.4h1.4v1.4h-1.4zM114.0 727.9h1.4v1.4h-1.4zM113.6 727.9h1.4v1.4h-1.4zM111.2 722.4h1.4v1.4h-1.4zM113.7 733.5h1.4v1.4h-1.4zM114.0 736.1h1.4v1.4h-1.4zM110.7 727.9h1.4v1.4h-1.4zM112.2 734.4h1.4v1.4h-1.4zM117.0 726.7h1.4v1.4h-1.4zM115.0 728.0h1.4v1.4h-1.4zM111.4 728.5h1.4v1.4h-1.4zM111.3 735.8h1.4v1.4h-1.4zM114.7 734.2h1.4v1.4h-1.4zM114.2 718.4h1.4v1.4h-1.4zM115.2 729.4h1.4v1.4h-1.4zM108.6 729.5h1.4v1.4h-1.4zM115.6 736.5h1.4v1.4h-1.4zM111.4 732.5h1.4v1.4h-1.4zM114.2 728.3h1.4v1.4h-1.4zM112.9 731.3h1.4v1.4h-1.4zM114.7 731.9h1.4v1.4h-1.4zM112.7 723.2h1.4v1.4h-1.4zM116.2 734.7h1.4v1.4h-1.4zM112.3 728.9h1.4v1.4h-1.4zM115.2 721.3h1.4v1.4h-1.4zM114.5 739.7h1.4v1.4h-1.4zM114.1 725.9h1.4v1.4h-1.4zM117.7 729.1h1.4v1.4h-1.4zM113.9 727.1h1.4v1.4h-1.4zM113.9 721.1h1.4v1.4h-1.4zM110.9 722.5h1.4v1.4h-1.4zM115.4 728.6h1.4v1.4h-1.4zM115.9 720.0h1.4v1.4h-1.4zM112.3 735.4h1.4v1.4h-1.4zM111.9 720.8h1.4v1.4h-1.4zM112.0 727.5h1.4v1.4h-1.4zM113.5 734.8h1.4v1.4h-1.4zM116.2 735.8h1.4v1.4h-1.4zM114.7 726.8h1.4v1.4h-1.4zM112.5 722.5h1.4v1.4h-1.4zM116.1 734.5h1.4v1.4h-1.4zM113.7 725.1h1.4v1.4h-1.4zM114.9 731.2h1.4v1.4h-1.4zM113.8 723.9h1.4v1.4h-1.4zM114.0 726.5h1.4v1.4h-1.4zM115.0 731.6h1.4v1.4h-1.4zM114.4 727.1h1.4v1.4h-1.4zM116.6 732.4h1.4v1.4h-1.4zM116.1 732.7h1.4v1.4h-1.4zM114.9 730.7h1.4v1.4h-1.4zM111.3 721.0h1.4v1.4h-1.4zM111.6 731.7h1.4v1.4h-1.4zM115.4 729.8h1.4v1.4h-1.4zM113.7 737.1h1.4v1.4h-1.4zM112.7 721.1h1.4v1.4h-1.4zM110.3 727.6h1.4v1.4h-1.4zM114.9 732.3h1.4v1.4h-1.4zM113.0 732.6h1.4v1.4h-1.4zM113.4 725.8h1.4v1.4h-1.4zM112.7 732.3h1.4v1.4h-1.4zM115.5 724.1h1.4v1.4h-1.4zM111.5 729.5h1.4v1.4h-1.4zM117.9 723.8h1.4v1.4h-1.4zM110.9 730.9h1.4v1.4h-1.4zM114.5 726.3h1.4v1.4h-1.4zM113.4 731.1h1.4v1.4h-1.4zM109.9 728.9h1.4v1.4h-1.4zM114.7 733.1h1.4v1.4h-1.4zM115.9 728.7h1.4v1.4h-1.4zM110.5 734.9h1.4v1.4h-1.4zM115.1 726.2h1.4v1.4h-1.4zM115.6 733.6h1.4v1.4h-1.4zM113.2 718.6h1.4v1.4h-1.4zM112.5 725.7h1.4v1.4h-1.4zM111.8 728.6h1.4v1.4h-1.4zM111.3 730.7h1.4v1.4h-1.4zM117.4 723.8h1.4v1.4h-1.4zM115.6 726.7h1.4v1.4h-1.4zM114.6 728.4h1.4v1.4h-1.4z" fill="#111" fill-opacity="1"/><path d="M119.7 715.2h1.3v1.3h-1.3zM117.2 714.6h1.3v1.3h-1.3zM115.0 721.9h1.3v1.3h-1.3zM118.8 706.9h1.3v1.3h-1.3zM108.1 735.3h1.3v1.3h-1.3zM115.7 738.3h1.3v1.3h-1.3zM109.5 724.0h1.3v1.3h-1.3zM116.7 738.9h1.3v1.3h-1.3zM113.8 717.7h1.3v1.3h-1.3zM117.2 721.0h1.3v1.3h-1.3zM110.7 729.3h1.3v1.3h-1.3zM105.6 712.3h1.3v1.3h-1.3zM120.0 717.2h1.3v1.3h-1.3zM112.6 725.6h1.3v1.3h-1.3zM118.9 727.1h1.3v1.3h-1.3zM109.8 716.6h1.3v1.3h-1.3zM118.6 720.9h1.3v1.3h-1.3zM111.2 730.4h1.3v1.3h-1.3zM119.0 742.9h1.3v1.3h-1.3zM109.3 715.2h1.3v1.3h-1.3zM111.0 725.4h1.3v1.3h-1.3zM111.9 732.7h1.3v1.3h-1.3zM102.2 731.2h1.3v1.3h-1.3zM111.2 719.4h1.3v1.3h-1.3zM116.5 723.9h1.3v1.3h-1.3zM109.5 736.4h1.3v1.3h-1.3zM116.5 717.3h1.3v1.3h-1.3zM114.9 711.4h1.3v1.3h-1.3zM108.6 719.1h1.3v1.3h-1.3zM115.6 723.0h1.3v1.3h-1.3zM110.6 708.7h1.3v1.3h-1.3zM106.6 737.3h1.3v1.3h-1.3zM115.6 714.3h1.3v1.3h-1.3zM119.2 727.2h1.3v1.3h-1.3zM112.2 716.1h1.3v1.3h-1.3zM119.0 725.1h1.3v1.3h-1.3zM121.2 725.5h1.3v1.3h-1.3zM111.4 716.3h1.3v1.3h-1.3zM110.9 724.4h1.3v1.3h-1.3zM115.1 727.8h1.3v1.3h-1.3zM116.0 711.9h1.3v1.3h-1.3zM113.1 713.0h1.3v1.3h-1.3zM116.1 709.4h1.3v1.3h-1.3zM111.5 713.8h1.3v1.3h-1.3zM111.3 719.5h1.3v1.3h-1.3zM120.6 719.5h1.3v1.3h-1.3zM107.7 719.1h1.3v1.3h-1.3zM117.3 727.3h1.3v1.3h-1.3zM115.1 741.1h1.3v1.3h-1.3zM118.9 722.9h1.3v1.3h-1.3zM119.3 709.2h1.3v1.3h-1.3zM113.3 713.7h1.3v1.3h-1.3zM114.8 737.5h1.3v1.3h-1.3zM111.8 737.3h1.3v1.3h-1.3zM109.5 735.7h1.3v1.3h-1.3zM106.6 713.9h1.3v1.3h-1.3zM118.4 721.1h1.3v1.3h-1.3zM114.6 721.9h1.3v1.3h-1.3zM114.8 720.3h1.3v1.3h-1.3zM109.7 719.2h1.3v1.3h-1.3z" fill="#111" fill-opacity="0.8"/><path d="M72.9 750.2h1.2v1.2h-1.2zM72.6 748.7h1.2v1.2h-1.2zM59.0 736.7h1.2v1.2h-1.2zM79.4 726.3h1.2v1.2h-1.2zM87.2 726.9h1.2v1.2h-1.2zM77.9 729.9h1.2v1.2h-1.2zM89.3 740.1h1.2v1.2h-1.2zM85.0 738.5h1.2v1.2h-1.2zM80.6 743.2h1.2v1.2h-1.2zM67.3 730.7h1.2v1.2h-1.2zM86.3 728.9h1.2v1.2h-1.2zM89.1 730.6h1.2v1.2h-1.2zM60.5 727.6h1.2v1.2h-1.2zM84.4 750.7h1.2v1.2h-1.2zM71.5 742.8h1.2v1.2h-1.2zM66.0 749.5h1.2v1.2h-1.2zM81.0 729.2h1.2v1.2h-1.2zM59.0 743.8h1.2v1.2h-1.2zM54.8 695.1h1.2v1.2h-1.2zM65.9 677.0h1.2v1.2h-1.2zM78.6 679.6h1.2v1.2h-1.2zM140.2 677.7h1.2v1.2h-1.2zM152.8 686.2h1.2v1.2h-1.2zM150.3 677.6h1.2v1.2h-1.2zM144.0 749.5h1.2v1.2h-1.2zM131.7 725.8h1.2v1.2h-1.2zM131.4 741.0h1.2v1.2h-1.2zM126.7 738.6h1.2v1.2h-1.2z" fill="#333" fill-opacity="0.75"/><rect x="51.3" y="665" width="106.89999999999999" height="97.60000000000002" fill="none" stroke="#777" stroke-width="1.2"/><line x1="99.8" y1="665" x2="99.8" y2="762.6" stroke="#111" stroke-width="1.45"/><line x1="51.3" y1="722.4" x2="158.2" y2="722.4" stroke="#111" stroke-width="1.45"/><line x1="50.8" y1="762.6" x2="158.7" y2="762.6" stroke="#222" stroke-width="1.4"/><line x1="52.2" y1="762.6" x2="52.2" y2="766.8000000000001" stroke="#222" stroke-width="1.3"/><text x="0" y="0" font-size="10.4" fill="#1a1a1a" style="stroke-width:0.4px" transform="translate(48.57 777.80) scale(0.8 1)">10</text><text x="0" y="0" font-size="8.3" fill="#1a1a1a" style="stroke-width:0.35px" transform="translate(58.30 772.50) scale(0.85 1)">0</text><line x1="79.4" y1="762.6" x2="79.4" y2="766.8000000000001" stroke="#222" stroke-width="1.3"/><text x="0" y="0" font-size="10.4" fill="#1a1a1a" style="stroke-width:0.4px" transform="translate(73.37 777.80) scale(0.8 1)">10</text><text x="0" y="0" font-size="8.3" fill="#1a1a1a" style="stroke-width:0.35px" transform="translate(83.10 772.50) scale(0.85 1)">1</text><line x1="105.6" y1="762.6" x2="105.6" y2="766.8000000000001" stroke="#222" stroke-width="1.3"/><text x="0" y="0" font-size="10.4" fill="#1a1a1a" style="stroke-width:0.4px" transform="translate(101.87 777.80) scale(0.8 1)">10</text><text x="0" y="0" font-size="8.3" fill="#1a1a1a" style="stroke-width:0.35px" transform="translate(111.60 772.50) scale(0.85 1)">2</text><line x1="132.25" y1="762.6" x2="132.25" y2="766.8000000000001" stroke="#222" stroke-width="1.3"/><text x="0" y="0" font-size="10.4" fill="#1a1a1a" style="stroke-width:0.4px" transform="translate(126.77 777.80) scale(0.8 1)">10</text><text x="0" y="0" font-size="8.3" fill="#1a1a1a" style="stroke-width:0.35px" transform="translate(136.50 772.50) scale(0.85 1)">3</text><line x1="158.1" y1="762.6" x2="158.1" y2="766.8000000000001" stroke="#222" stroke-width="1.3"/><text x="0" y="0" font-size="10.4" fill="#1a1a1a" style="stroke-width:0.4px" transform="translate(152.17 777.80) scale(0.8 1)">10</text><text x="0" y="0" font-size="8.3" fill="#1a1a1a" style="stroke-width:0.35px" transform="translate(161.90 772.50) scale(0.85 1)">4</text><text x="70.19" y="660.20" font-size="12.53" fill="#111" textLength="64.06" lengthAdjust="spacingAndGlyphs">CD19.CAR</text><text x="117.34" y="759.00" font-size="9.24" fill="#111" textLength="40.58" lengthAdjust="spacingAndGlyphs">R2=7129</text><path d="M71.0 845.4h1.4v1.4h-1.4zM63.7 853.6h1.4v1.4h-1.4zM77.3 856.2h1.4v1.4h-1.4zM66.9 850.8h1.4v1.4h-1.4zM80.2 844.1h1.4v1.4h-1.4zM78.1 850.4h1.4v1.4h-1.4zM69.6 856.9h1.4v1.4h-1.4zM71.8 847.1h1.4v1.4h-1.4zM60.1 854.1h1.4v1.4h-1.4zM72.0 856.6h1.4v1.4h-1.4zM53.8 861.6h1.4v1.4h-1.4zM72.6 857.0h1.4v1.4h-1.4zM73.6 851.1h1.4v1.4h-1.4zM71.5 852.5h1.4v1.4h-1.4zM65.3 852.0h1.4v1.4h-1.4zM69.7 849.3h1.4v1.4h-1.4zM60.5 847.7h1.4v1.4h-1.4zM71.9 852.9h1.4v1.4h-1.4zM69.6 846.3h1.4v1.4h-1.4zM74.0 848.4h1.4v1.4h-1.4zM56.9 861.6h1.4v1.4h-1.4zM60.3 863.7h1.4v1.4h-1.4zM72.1 848.7h1.4v1.4h-1.4zM55.3 852.3h1.4v1.4h-1.4zM77.6 855.0h1.4v1.4h-1.4zM70.5 843.7h1.4v1.4h-1.4zM66.8 850.9h1.4v1.4h-1.4zM71.7 850.2h1.4v1.4h-1.4zM71.0 843.9h1.4v1.4h-1.4zM65.3 858.8h1.4v1.4h-1.4zM60.5 857.9h1.4v1.4h-1.4zM82.5 850.5h1.4v1.4h-1.4zM60.9 859.1h1.4v1.4h-1.4zM58.2 856.0h1.4v1.4h-1.4zM66.6 857.5h1.4v1.4h-1.4zM75.9 850.4h1.4v1.4h-1.4zM79.4 852.8h1.4v1.4h-1.4zM66.2 848.0h1.4v1.4h-1.4zM83.3 845.7h1.4v1.4h-1.4zM71.4 850.3h1.4v1.4h-1.4zM66.2 845.3h1.4v1.4h-1.4zM68.2 851.2h1.4v1.4h-1.4zM74.7 847.7h1.4v1.4h-1.4zM59.9 849.4h1.4v1.4h-1.4zM68.8 852.6h1.4v1.4h-1.4zM73.2 848.7h1.4v1.4h-1.4zM72.1 851.2h1.4v1.4h-1.4zM78.8 848.5h1.4v1.4h-1.4zM69.8 853.7h1.4v1.4h-1.4zM76.1 845.5h1.4v1.4h-1.4zM66.2 851.1h1.4v1.4h-1.4zM56.6 860.6h1.4v1.4h-1.4zM75.3 849.8h1.4v1.4h-1.4zM88.6 851.5h1.4v1.4h-1.4zM80.8 855.0h1.4v1.4h-1.4zM74.3 843.9h1.4v1.4h-1.4zM77.9 850.8h1.4v1.4h-1.4zM62.0 853.7h1.4v1.4h-1.4zM73.4 854.5h1.4v1.4h-1.4zM70.0 849.0h1.4v1.4h-1.4zM73.5 847.0h1.4v1.4h-1.4zM68.6 854.9h1.4v1.4h-1.4zM60.6 855.5h1.4v1.4h-1.4zM57.6 850.7h1.4v1.4h-1.4zM61.8 853.1h1.4v1.4h-1.4zM73.2 850.1h1.4v1.4h-1.4zM74.3 850.4h1.4v1.4h-1.4zM67.8 854.0h1.4v1.4h-1.4zM67.6 852.5h1.4v1.4h-1.4zM75.1 847.3h1.4v1.4h-1.4zM75.7 844.8h1.4v1.4h-1.4zM67.7 844.3h1.4v1.4h-1.4zM65.9 859.3h1.4v1.4h-1.4zM71.1 856.4h1.4v1.4h-1.4zM60.4 849.5h1.4v1.4h-1.4zM71.7 854.3h1.4v1.4h-1.4zM73.9 842.9h1.4v1.4h-1.4zM72.0 850.4h1.4v1.4h-1.4zM69.7 853.4h1.4v1.4h-1.4zM67.4 844.6h1.4v1.4h-1.4zM62.8 847.0h1.4v1.4h-1.4zM61.3 853.1h1.4v1.4h-1.4zM76.6 846.3h1.4v1.4h-1.4zM64.5 847.8h1.4v1.4h-1.4zM58.9 854.6h1.4v1.4h-1.4zM66.2 851.3h1.4v1.4h-1.4zM63.4 855.2h1.4v1.4h-1.4zM62.0 855.8h1.4v1.4h-1.4zM65.1 856.0h1.4v1.4h-1.4zM63.8 854.9h1.4v1.4h-1.4zM71.6 850.4h1.4v1.4h-1.4zM78.5 849.6h1.4v1.4h-1.4zM63.8 856.0h1.4v1.4h-1.4zM64.2 850.5h1.4v1.4h-1.4zM69.1 852.3h1.4v1.4h-1.4zM79.0 841.1h1.4v1.4h-1.4zM67.5 856.8h1.4v1.4h-1.4zM68.1 853.2h1.4v1.4h-1.4zM77.9 843.7h1.4v1.4h-1.4zM69.3 854.9h1.4v1.4h-1.4zM65.6 844.9h1.4v1.4h-1.4zM63.2 854.0h1.4v1.4h-1.4zM70.1 859.2h1.4v1.4h-1.4zM76.8 842.6h1.4v1.4h-1.4zM75.1 853.8h1.4v1.4h-1.4zM78.5 848.2h1.4v1.4h-1.4zM65.7 853.0h1.4v1.4h-1.4zM78.0 851.7h1.4v1.4h-1.4zM78.9 852.1h1.4v1.4h-1.4zM65.6 848.1h1.4v1.4h-1.4zM79.8 841.9h1.4v1.4h-1.4zM67.0 850.7h1.4v1.4h-1.4zM63.7 850.5h1.4v1.4h-1.4zM69.0 861.8h1.4v1.4h-1.4zM68.6 849.3h1.4v1.4h-1.4zM69.7 855.4h1.4v1.4h-1.4zM64.2 851.1h1.4v1.4h-1.4zM58.8 857.4h1.4v1.4h-1.4zM73.0 856.9h1.4v1.4h-1.4zM62.0 862.9h1.4v1.4h-1.4zM74.1 848.9h1.4v1.4h-1.4zM66.7 850.8h1.4v1.4h-1.4zM61.9 856.8h1.4v1.4h-1.4zM65.4 849.4h1.4v1.4h-1.4zM72.0 851.1h1.4v1.4h-1.4zM65.6 851.4h1.4v1.4h-1.4zM66.1 858.2h1.4v1.4h-1.4zM74.9 846.7h1.4v1.4h-1.4zM68.8 857.5h1.4v1.4h-1.4zM67.3 859.7h1.4v1.4h-1.4zM71.6 853.7h1.4v1.4h-1.4zM56.9 858.6h1.4v1.4h-1.4zM71.0 853.5h1.4v1.4h-1.4zM71.8 853.0h1.4v1.4h-1.4zM66.0 856.3h1.4v1.4h-1.4zM69.4 846.8h1.4v1.4h-1.4zM63.0 853.9h1.4v1.4h-1.4zM71.0 841.3h1.4v1.4h-1.4zM56.9 859.5h1.4v1.4h-1.4zM68.9 863.9h1.4v1.4h-1.4zM60.0 852.9h1.4v1.4h-1.4zM65.5 854.9h1.4v1.4h-1.4zM77.2 856.2h1.4v1.4h-1.4zM63.1 858.5h1.4v1.4h-1.4zM61.9 854.8h1.4v1.4h-1.4zM70.0 853.9h1.4v1.4h-1.4zM64.3 858.6h1.4v1.4h-1.4zM68.6 851.5h1.4v1.4h-1.4zM67.4 847.3h1.4v1.4h-1.4zM73.2 851.8h1.4v1.4h-1.4zM71.7 858.9h1.4v1.4h-1.4zM63.9 851.7h1.4v1.4h-1.4zM69.0 855.2h1.4v1.4h-1.4zM68.0 855.9h1.4v1.4h-1.4zM71.7 843.1h1.4v1.4h-1.4zM65.0 843.8h1.4v1.4h-1.4zM67.3 850.2h1.4v1.4h-1.4zM72.5 851.3h1.4v1.4h-1.4zM68.6 857.1h1.4v1.4h-1.4zM72.5 845.2h1.4v1.4h-1.4zM65.0 854.1h1.4v1.4h-1.4zM79.0 847.8h1.4v1.4h-1.4zM68.0 852.9h1.4v1.4h-1.4zM73.6 849.8h1.4v1.4h-1.4zM70.7 849.2h1.4v1.4h-1.4zM65.8 848.9h1.4v1.4h-1.4zM72.9 848.0h1.4v1.4h-1.4zM72.2 852.4h1.4v1.4h-1.4zM74.7 838.2h1.4v1.4h-1.4zM63.3 847.8h1.4v1.4h-1.4zM68.0 855.3h1.4v1.4h-1.4zM83.8 854.1h1.4v1.4h-1.4zM77.0 850.9h1.4v1.4h-1.4zM66.7 854.5h1.4v1.4h-1.4zM56.2 859.1h1.4v1.4h-1.4zM69.1 854.2h1.4v1.4h-1.4zM63.0 848.4h1.4v1.4h-1.4zM65.2 852.4h1.4v1.4h-1.4zM71.0 849.4h1.4v1.4h-1.4zM71.0 853.9h1.4v1.4h-1.4zM62.2 853.0h1.4v1.4h-1.4zM59.9 851.7h1.4v1.4h-1.4zM74.3 846.9h1.4v1.4h-1.4zM79.9 850.7h1.4v1.4h-1.4zM74.2 850.5h1.4v1.4h-1.4zM74.1 854.9h1.4v1.4h-1.4zM69.6 849.0h1.4v1.4h-1.4zM65.8 860.8h1.4v1.4h-1.4zM67.9 849.8h1.4v1.4h-1.4zM64.9 845.3h1.4v1.4h-1.4zM66.1 853.7h1.4v1.4h-1.4zM66.2 849.0h1.4v1.4h-1.4zM71.4 852.8h1.4v1.4h-1.4zM66.4 853.6h1.4v1.4h-1.4zM63.3 856.9h1.4v1.4h-1.4zM63.2 851.6h1.4v1.4h-1.4zM69.8 849.4h1.4v1.4h-1.4zM62.3 862.6h1.4v1.4h-1.4zM77.9 841.4h1.4v1.4h-1.4zM69.7 845.8h1.4v1.4h-1.4zM70.8 845.3h1.4v1.4h-1.4zM72.4 852.9h1.4v1.4h-1.4zM79.0 854.0h1.4v1.4h-1.4zM66.3 856.4h1.4v1.4h-1.4zM66.3 851.8h1.4v1.4h-1.4zM66.1 844.6h1.4v1.4h-1.4zM72.5 841.6h1.4v1.4h-1.4zM67.6 854.2h1.4v1.4h-1.4zM69.7 844.4h1.4v1.4h-1.4zM65.2 855.5h1.4v1.4h-1.4zM75.4 856.7h1.4v1.4h-1.4zM58.4 856.5h1.4v1.4h-1.4zM66.2 855.6h1.4v1.4h-1.4zM59.1 853.7h1.4v1.4h-1.4zM73.1 847.5h1.4v1.4h-1.4zM66.9 847.8h1.4v1.4h-1.4zM75.5 843.9h1.4v1.4h-1.4zM63.6 851.5h1.4v1.4h-1.4zM67.1 861.3h1.4v1.4h-1.4zM70.6 847.4h1.4v1.4h-1.4zM72.4 852.0h1.4v1.4h-1.4zM70.7 850.8h1.4v1.4h-1.4zM71.7 845.6h1.4v1.4h-1.4zM62.0 851.6h1.4v1.4h-1.4zM62.5 856.4h1.4v1.4h-1.4zM80.4 853.7h1.4v1.4h-1.4zM71.6 852.2h1.4v1.4h-1.4zM65.0 846.9h1.4v1.4h-1.4zM72.2 844.1h1.4v1.4h-1.4zM70.8 850.4h1.4v1.4h-1.4zM73.4 850.5h1.4v1.4h-1.4zM69.6 848.8h1.4v1.4h-1.4zM58.9 852.8h1.4v1.4h-1.4zM73.1 854.9h1.4v1.4h-1.4zM77.1 844.9h1.4v1.4h-1.4zM63.5 856.1h1.4v1.4h-1.4zM66.3 863.5h1.4v1.4h-1.4zM70.8 844.3h1.4v1.4h-1.4zM65.7 859.3h1.4v1.4h-1.4zM58.3 855.2h1.4v1.4h-1.4zM60.9 860.8h1.4v1.4h-1.4zM66.4 847.7h1.4v1.4h-1.4zM59.0 851.2h1.4v1.4h-1.4zM54.0 853.6h1.4v1.4h-1.4zM81.8 848.4h1.4v1.4h-1.4zM67.4 846.9h1.4v1.4h-1.4zM71.0 848.9h1.4v1.4h-1.4zM64.0 859.0h1.4v1.4h-1.4zM71.6 846.9h1.4v1.4h-1.4zM77.7 848.8h1.4v1.4h-1.4zM72.0 851.3h1.4v1.4h-1.4zM75.9 852.3h1.4v1.4h-1.4zM67.0 855.2h1.4v1.4h-1.4zM66.7 852.7h1.4v1.4h-1.4zM78.6 844.2h1.4v1.4h-1.4zM62.9 851.4h1.4v1.4h-1.4zM66.1 858.0h1.4v1.4h-1.4zM59.7 864.2h1.4v1.4h-1.4zM78.3 846.9h1.4v1.4h-1.4zM70.1 849.6h1.4v1.4h-1.4zM72.9 853.3h1.4v1.4h-1.4zM73.4 853.6h1.4v1.4h-1.4zM80.3 847.6h1.4v1.4h-1.4zM73.1 849.5h1.4v1.4h-1.4zM69.2 852.4h1.4v1.4h-1.4zM68.7 853.1h1.4v1.4h-1.4zM64.0 852.2h1.4v1.4h-1.4zM65.5 847.4h1.4v1.4h-1.4zM64.9 850.5h1.4v1.4h-1.4zM68.1 844.9h1.4v1.4h-1.4zM67.5 847.0h1.4v1.4h-1.4zM64.2 853.7h1.4v1.4h-1.4zM75.5 850.9h1.4v1.4h-1.4zM66.1 850.4h1.4v1.4h-1.4zM76.9 842.2h1.4v1.4h-1.4zM75.7 843.0h1.4v1.4h-1.4zM65.3 852.7h1.4v1.4h-1.4zM67.7 859.2h1.4v1.4h-1.4zM71.9 850.5h1.4v1.4h-1.4zM74.6 850.1h1.4v1.4h-1.4zM64.3 857.7h1.4v1.4h-1.4zM77.8 854.7h1.4v1.4h-1.4zM62.1 861.8h1.4v1.4h-1.4zM66.6 855.6h1.4v1.4h-1.4zM76.0 860.0h1.4v1.4h-1.4zM59.5 849.7h1.4v1.4h-1.4zM75.9 851.7h1.4v1.4h-1.4zM67.2 839.2h1.4v1.4h-1.4zM71.6 850.0h1.4v1.4h-1.4zM53.7 867.5h1.4v1.4h-1.4zM54.3 853.2h1.4v1.4h-1.4zM69.0 852.5h1.4v1.4h-1.4zM73.4 849.1h1.4v1.4h-1.4zM63.7 851.4h1.4v1.4h-1.4zM56.6 850.1h1.4v1.4h-1.4zM80.6 845.2h1.4v1.4h-1.4zM68.5 860.0h1.4v1.4h-1.4zM75.2 850.3h1.4v1.4h-1.4zM73.3 849.1h1.4v1.4h-1.4zM63.7 857.4h1.4v1.4h-1.4zM69.8 858.3h1.4v1.4h-1.4zM67.5 850.3h1.4v1.4h-1.4zM71.0 850.1h1.4v1.4h-1.4zM67.2 848.1h1.4v1.4h-1.4zM70.5 852.5h1.4v1.4h-1.4zM79.8 848.4h1.4v1.4h-1.4zM58.7 856.4h1.4v1.4h-1.4zM82.5 845.8h1.4v1.4h-1.4zM64.3 852.1h1.4v1.4h-1.4zM67.9 845.2h1.4v1.4h-1.4zM72.4 846.7h1.4v1.4h-1.4zM58.1 851.4h1.4v1.4h-1.4zM72.7 858.9h1.4v1.4h-1.4zM76.4 850.3h1.4v1.4h-1.4zM66.0 851.2h1.4v1.4h-1.4zM74.7 847.6h1.4v1.4h-1.4zM71.5 855.1h1.4v1.4h-1.4zM63.7 850.4h1.4v1.4h-1.4zM71.6 850.8h1.4v1.4h-1.4zM68.3 849.4h1.4v1.4h-1.4zM68.6 859.8h1.4v1.4h-1.4zM77.0 842.2h1.4v1.4h-1.4zM69.3 851.8h1.4v1.4h-1.4zM69.2 845.4h1.4v1.4h-1.4zM68.2 852.4h1.4v1.4h-1.4zM65.0 854.0h1.4v1.4h-1.4zM54.7 848.9h1.4v1.4h-1.4zM69.6 853.1h1.4v1.4h-1.4zM68.0 849.8h1.4v1.4h-1.4zM70.1 856.0h1.4v1.4h-1.4zM74.3 849.7h1.4v1.4h-1.4zM66.3 856.9h1.4v1.4h-1.4zM72.2 854.5h1.4v1.4h-1.4zM67.4 848.2h1.4v1.4h-1.4zM70.1 848.4h1.4v1.4h-1.4zM75.8 853.4h1.4v1.4h-1.4zM56.2 858.0h1.4v1.4h-1.4zM76.8 853.9h1.4v1.4h-1.4zM66.2 848.5h1.4v1.4h-1.4zM74.7 854.4h1.4v1.4h-1.4zM69.4 846.3h1.4v1.4h-1.4zM60.0 855.2h1.4v1.4h-1.4zM64.1 849.9h1.4v1.4h-1.4zM71.6 855.4h1.4v1.4h-1.4zM56.8 852.0h1.4v1.4h-1.4zM76.7 849.2h1.4v1.4h-1.4zM67.0 854.9h1.4v1.4h-1.4zM62.3 848.0h1.4v1.4h-1.4zM69.1 858.3h1.4v1.4h-1.4zM75.0 849.8h1.4v1.4h-1.4zM75.0 848.0h1.4v1.4h-1.4zM62.1 846.1h1.4v1.4h-1.4zM70.6 855.0h1.4v1.4h-1.4zM71.2 850.7h1.4v1.4h-1.4zM66.6 857.0h1.4v1.4h-1.4zM68.7 845.2h1.4v1.4h-1.4zM77.1 846.4h1.4v1.4h-1.4zM71.3 850.9h1.4v1.4h-1.4zM75.2 850.9h1.4v1.4h-1.4zM76.2 850.4h1.4v1.4h-1.4zM66.3 850.0h1.4v1.4h-1.4zM72.8 846.8h1.4v1.4h-1.4zM74.5 848.9h1.4v1.4h-1.4zM63.5 849.2h1.4v1.4h-1.4zM68.1 859.5h1.4v1.4h-1.4zM73.5 850.3h1.4v1.4h-1.4zM63.7 861.4h1.4v1.4h-1.4zM67.4 852.0h1.4v1.4h-1.4zM66.5 858.1h1.4v1.4h-1.4zM70.0 849.2h1.4v1.4h-1.4zM70.1 846.8h1.4v1.4h-1.4zM62.8 852.5h1.4v1.4h-1.4zM80.7 843.3h1.4v1.4h-1.4zM68.2 844.8h1.4v1.4h-1.4zM70.0 852.2h1.4v1.4h-1.4zM73.4 844.4h1.4v1.4h-1.4zM65.5 849.6h1.4v1.4h-1.4zM67.6 862.0h1.4v1.4h-1.4zM67.8 851.6h1.4v1.4h-1.4zM66.0 855.8h1.4v1.4h-1.4zM84.1 852.4h1.4v1.4h-1.4zM78.0 844.2h1.4v1.4h-1.4zM75.2 849.9h1.4v1.4h-1.4zM76.4 854.1h1.4v1.4h-1.4zM72.9 843.0h1.4v1.4h-1.4zM69.8 849.1h1.4v1.4h-1.4zM71.6 850.9h1.4v1.4h-1.4zM75.2 842.7h1.4v1.4h-1.4zM64.6 852.4h1.4v1.4h-1.4zM70.9 849.2h1.4v1.4h-1.4zM68.8 851.8h1.4v1.4h-1.4zM75.2 849.3h1.4v1.4h-1.4zM70.4 843.1h1.4v1.4h-1.4zM53.6 849.4h1.4v1.4h-1.4zM71.1 840.7h1.4v1.4h-1.4zM71.4 850.4h1.4v1.4h-1.4zM69.0 848.3h1.4v1.4h-1.4zM66.5 855.9h1.4v1.4h-1.4zM71.1 850.8h1.4v1.4h-1.4zM66.1 853.2h1.4v1.4h-1.4zM76.0 849.4h1.4v1.4h-1.4zM66.8 846.9h1.4v1.4h-1.4zM69.6 847.3h1.4v1.4h-1.4zM60.5 857.7h1.4v1.4h-1.4zM65.3 843.5h1.4v1.4h-1.4zM64.8 860.8h1.4v1.4h-1.4zM68.4 845.8h1.4v1.4h-1.4zM62.5 856.5h1.4v1.4h-1.4zM71.4 851.8h1.4v1.4h-1.4zM67.8 854.0h1.4v1.4h-1.4zM78.1 851.1h1.4v1.4h-1.4zM68.0 845.6h1.4v1.4h-1.4zM71.6 857.7h1.4v1.4h-1.4zM72.8 844.9h1.4v1.4h-1.4zM70.1 856.9h1.4v1.4h-1.4zM65.3 854.7h1.4v1.4h-1.4zM76.1 856.7h1.4v1.4h-1.4zM59.6 846.4h1.4v1.4h-1.4zM71.2 854.0h1.4v1.4h-1.4zM66.9 852.0h1.4v1.4h-1.4zM66.6 857.5h1.4v1.4h-1.4zM55.9 856.3h1.4v1.4h-1.4zM61.4 850.6h1.4v1.4h-1.4zM59.9 850.0h1.4v1.4h-1.4zM68.9 851.7h1.4v1.4h-1.4zM79.6 847.6h1.4v1.4h-1.4zM71.0 852.5h1.4v1.4h-1.4zM70.5 857.6h1.4v1.4h-1.4zM69.8 851.9h1.4v1.4h-1.4zM68.3 851.7h1.4v1.4h-1.4zM68.7 856.0h1.4v1.4h-1.4zM69.1 851.8h1.4v1.4h-1.4zM68.7 854.9h1.4v1.4h-1.4zM66.2 856.4h1.4v1.4h-1.4zM65.6 855.5h1.4v1.4h-1.4zM80.4 849.4h1.4v1.4h-1.4zM68.5 846.4h1.4v1.4h-1.4zM73.4 850.3h1.4v1.4h-1.4zM74.4 847.1h1.4v1.4h-1.4zM72.1 858.6h1.4v1.4h-1.4zM71.4 849.4h1.4v1.4h-1.4zM61.3 853.6h1.4v1.4h-1.4zM72.9 853.1h1.4v1.4h-1.4zM62.4 848.8h1.4v1.4h-1.4zM63.2 848.6h1.4v1.4h-1.4zM67.4 853.1h1.4v1.4h-1.4zM80.4 849.2h1.4v1.4h-1.4zM77.6 841.8h1.4v1.4h-1.4zM78.1 852.5h1.4v1.4h-1.4zM71.6 854.4h1.4v1.4h-1.4zM72.7 859.0h1.4v1.4h-1.4zM73.8 842.5h1.4v1.4h-1.4zM58.7 861.5h1.4v1.4h-1.4zM68.5 857.5h1.4v1.4h-1.4zM67.0 849.2h1.4v1.4h-1.4zM67.0 853.5h1.4v1.4h-1.4zM70.1 848.4h1.4v1.4h-1.4zM72.2 853.3h1.4v1.4h-1.4zM63.6 848.1h1.4v1.4h-1.4zM57.4 853.4h1.4v1.4h-1.4zM69.1 848.4h1.4v1.4h-1.4zM65.4 851.9h1.4v1.4h-1.4zM69.2 854.0h1.4v1.4h-1.4zM73.9 852.1h1.4v1.4h-1.4zM75.6 845.3h1.4v1.4h-1.4zM72.6 852.1h1.4v1.4h-1.4zM62.8 850.2h1.4v1.4h-1.4zM71.6 851.1h1.4v1.4h-1.4zM61.6 851.1h1.4v1.4h-1.4zM78.0 852.7h1.4v1.4h-1.4zM69.5 857.4h1.4v1.4h-1.4zM63.6 852.2h1.4v1.4h-1.4zM74.7 848.4h1.4v1.4h-1.4zM62.4 856.0h1.4v1.4h-1.4zM78.5 837.6h1.4v1.4h-1.4zM69.9 845.7h1.4v1.4h-1.4zM67.2 845.7h1.4v1.4h-1.4zM84.4 844.2h1.4v1.4h-1.4zM69.3 848.3h1.4v1.4h-1.4zM63.1 851.1h1.4v1.4h-1.4zM70.2 858.9h1.4v1.4h-1.4zM70.7 858.0h1.4v1.4h-1.4zM62.7 853.6h1.4v1.4h-1.4zM66.4 845.3h1.4v1.4h-1.4zM91.1 844.2h1.4v1.4h-1.4zM70.4 847.7h1.4v1.4h-1.4zM65.6 847.9h1.4v1.4h-1.4zM75.1 848.0h1.4v1.4h-1.4zM68.1 852.5h1.4v1.4h-1.4zM61.7 854.6h1.4v1.4h-1.4zM68.0 853.8h1.4v1.4h-1.4zM66.7 852.3h1.4v1.4h-1.4zM72.1 854.9h1.4v1.4h-1.4zM64.9 857.0h1.4v1.4h-1.4zM63.2 852.3h1.4v1.4h-1.4zM69.8 851.9h1.4v1.4h-1.4zM54.2 851.3h1.4v1.4h-1.4zM67.9 855.9h1.4v1.4h-1.4zM64.8 859.4h1.4v1.4h-1.4zM58.3 854.8h1.4v1.4h-1.4zM72.2 850.7h1.4v1.4h-1.4zM70.6 855.2h1.4v1.4h-1.4zM64.2 855.5h1.4v1.4h-1.4zM75.3 848.7h1.4v1.4h-1.4zM55.3 850.1h1.4v1.4h-1.4zM63.9 848.2h1.4v1.4h-1.4zM71.6 847.2h1.4v1.4h-1.4zM83.7 849.9h1.4v1.4h-1.4zM61.3 852.4h1.4v1.4h-1.4zM78.1 852.0h1.4v1.4h-1.4zM63.0 857.8h1.4v1.4h-1.4zM66.2 862.1h1.4v1.4h-1.4zM65.7 855.1h1.4v1.4h-1.4zM72.3 848.6h1.4v1.4h-1.4zM68.1 856.9h1.4v1.4h-1.4zM72.0 850.4h1.4v1.4h-1.4zM71.6 858.5h1.4v1.4h-1.4zM74.5 852.1h1.4v1.4h-1.4zM71.0 844.0h1.4v1.4h-1.4zM69.8 849.1h1.4v1.4h-1.4zM73.3 847.6h1.4v1.4h-1.4zM71.7 846.1h1.4v1.4h-1.4zM74.3 846.8h1.4v1.4h-1.4zM68.8 854.1h1.4v1.4h-1.4zM67.1 852.1h1.4v1.4h-1.4zM75.3 857.6h1.4v1.4h-1.4zM58.3 850.5h1.4v1.4h-1.4zM73.0 854.6h1.4v1.4h-1.4zM66.2 852.7h1.4v1.4h-1.4zM67.9 861.9h1.4v1.4h-1.4zM67.8 846.5h1.4v1.4h-1.4zM59.8 848.4h1.4v1.4h-1.4zM76.7 847.6h1.4v1.4h-1.4zM80.6 851.1h1.4v1.4h-1.4zM71.3 853.7h1.4v1.4h-1.4zM73.7 854.3h1.4v1.4h-1.4zM63.2 850.6h1.4v1.4h-1.4zM65.8 852.9h1.4v1.4h-1.4zM67.5 846.4h1.4v1.4h-1.4zM64.9 860.6h1.4v1.4h-1.4zM81.6 844.2h1.4v1.4h-1.4zM71.3 850.7h1.4v1.4h-1.4zM64.0 856.1h1.4v1.4h-1.4zM68.6 859.0h1.4v1.4h-1.4zM71.7 849.4h1.4v1.4h-1.4zM53.3 855.4h1.4v1.4h-1.4zM74.0 846.9h1.4v1.4h-1.4zM74.2 853.1h1.4v1.4h-1.4zM58.5 853.6h1.4v1.4h-1.4zM70.9 854.3h1.4v1.4h-1.4zM69.9 851.2h1.4v1.4h-1.4zM66.9 850.8h1.4v1.4h-1.4zM69.0 846.8h1.4v1.4h-1.4zM72.8 849.0h1.4v1.4h-1.4zM72.1 848.4h1.4v1.4h-1.4zM71.4 851.4h1.4v1.4h-1.4zM74.3 852.1h1.4v1.4h-1.4zM74.5 849.2h1.4v1.4h-1.4zM68.7 850.4h1.4v1.4h-1.4zM61.6 853.0h1.4v1.4h-1.4zM75.5 853.1h1.4v1.4h-1.4zM64.0 854.2h1.4v1.4h-1.4zM73.5 844.2h1.4v1.4h-1.4zM71.1 852.4h1.4v1.4h-1.4zM73.4 851.4h1.4v1.4h-1.4zM58.7 845.4h1.4v1.4h-1.4zM80.8 846.5h1.4v1.4h-1.4zM76.5 855.0h1.4v1.4h-1.4zM69.5 846.3h1.4v1.4h-1.4zM77.1 849.1h1.4v1.4h-1.4zM72.1 852.8h1.4v1.4h-1.4zM74.7 854.4h1.4v1.4h-1.4zM60.6 847.6h1.4v1.4h-1.4zM69.8 851.3h1.4v1.4h-1.4zM73.6 849.6h1.4v1.4h-1.4zM67.9 860.8h1.4v1.4h-1.4zM77.1 854.4h1.4v1.4h-1.4zM75.1 846.3h1.4v1.4h-1.4zM68.5 851.3h1.4v1.4h-1.4zM62.5 849.5h1.4v1.4h-1.4zM70.0 845.9h1.4v1.4h-1.4zM72.2 852.7h1.4v1.4h-1.4zM67.6 850.4h1.4v1.4h-1.4zM72.6 852.6h1.4v1.4h-1.4zM71.2 845.5h1.4v1.4h-1.4zM59.4 863.3h1.4v1.4h-1.4zM65.1 851.0h1.4v1.4h-1.4zM58.2 851.0h1.4v1.4h-1.4zM64.7 856.2h1.4v1.4h-1.4zM53.3 849.7h1.4v1.4h-1.4zM66.6 850.0h1.4v1.4h-1.4zM64.4 850.8h1.4v1.4h-1.4zM59.7 855.3h1.4v1.4h-1.4zM76.1 850.2h1.4v1.4h-1.4zM65.8 858.0h1.4v1.4h-1.4zM71.9 846.1h1.4v1.4h-1.4zM65.6 849.7h1.4v1.4h-1.4zM68.7 856.9h1.4v1.4h-1.4zM64.8 852.0h1.4v1.4h-1.4zM69.7 846.0h1.4v1.4h-1.4zM66.2 855.0h1.4v1.4h-1.4zM75.7 841.3h1.4v1.4h-1.4zM73.2 849.0h1.4v1.4h-1.4zM76.6 852.1h1.4v1.4h-1.4zM80.7 849.6h1.4v1.4h-1.4zM66.7 848.5h1.4v1.4h-1.4zM60.5 856.3h1.4v1.4h-1.4zM72.1 854.3h1.4v1.4h-1.4zM71.1 844.3h1.4v1.4h-1.4zM66.6 851.1h1.4v1.4h-1.4zM69.9 854.6h1.4v1.4h-1.4zM77.4 850.4h1.4v1.4h-1.4zM56.8 850.4h1.4v1.4h-1.4zM56.3 851.7h1.4v1.4h-1.4zM61.9 854.5h1.4v1.4h-1.4zM67.7 856.8h1.4v1.4h-1.4zM75.4 847.7h1.4v1.4h-1.4zM74.6 850.0h1.4v1.4h-1.4zM71.7 856.7h1.4v1.4h-1.4zM62.2 853.1h1.4v1.4h-1.4zM78.1 845.6h1.4v1.4h-1.4zM70.3 851.7h1.4v1.4h-1.4zM66.5 846.4h1.4v1.4h-1.4zM64.9 848.3h1.4v1.4h-1.4zM75.4 850.8h1.4v1.4h-1.4zM73.2 845.1h1.4v1.4h-1.4zM72.0 851.3h1.4v1.4h-1.4zM75.2 846.6h1.4v1.4h-1.4zM73.8 856.2h1.4v1.4h-1.4zM79.7 844.4h1.4v1.4h-1.4zM62.3 846.9h1.4v1.4h-1.4zM74.7 852.5h1.4v1.4h-1.4zM71.0 847.1h1.4v1.4h-1.4zM76.4 856.5h1.4v1.4h-1.4zM68.8 851.0h1.4v1.4h-1.4zM76.1 851.8h1.4v1.4h-1.4zM77.0 847.5h1.4v1.4h-1.4zM71.0 849.4h1.4v1.4h-1.4zM65.6 851.1h1.4v1.4h-1.4zM67.3 854.2h1.4v1.4h-1.4zM67.2 852.3h1.4v1.4h-1.4zM64.2 847.4h1.4v1.4h-1.4zM77.5 844.8h1.4v1.4h-1.4zM79.8 852.6h1.4v1.4h-1.4zM55.4 852.5h1.4v1.4h-1.4zM66.5 852.3h1.4v1.4h-1.4zM67.9 849.1h1.4v1.4h-1.4zM76.4 848.9h1.4v1.4h-1.4zM74.7 846.9h1.4v1.4h-1.4zM64.9 858.5h1.4v1.4h-1.4zM67.3 847.1h1.4v1.4h-1.4zM68.0 856.4h1.4v1.4h-1.4zM68.1 848.6h1.4v1.4h-1.4zM72.8 854.8h1.4v1.4h-1.4zM67.8 850.4h1.4v1.4h-1.4zM66.8 864.0h1.4v1.4h-1.4zM67.9 859.5h1.4v1.4h-1.4zM68.1 853.5h1.4v1.4h-1.4zM56.9 855.7h1.4v1.4h-1.4zM69.3 850.0h1.4v1.4h-1.4zM66.6 846.2h1.4v1.4h-1.4zM60.2 854.7h1.4v1.4h-1.4zM65.2 852.2h1.4v1.4h-1.4zM67.9 849.6h1.4v1.4h-1.4zM64.7 860.9h1.4v1.4h-1.4zM62.5 851.1h1.4v1.4h-1.4zM67.3 846.9h1.4v1.4h-1.4zM63.3 856.9h1.4v1.4h-1.4zM74.5 850.5h1.4v1.4h-1.4zM88.2 849.8h1.4v1.4h-1.4zM76.3 845.9h1.4v1.4h-1.4zM75.4 857.1h1.4v1.4h-1.4zM66.8 860.1h1.4v1.4h-1.4zM64.2 847.9h1.4v1.4h-1.4zM68.7 848.0h1.4v1.4h-1.4zM72.8 845.6h1.4v1.4h-1.4zM69.5 842.8h1.4v1.4h-1.4zM68.8 856.2h1.4v1.4h-1.4zM67.5 853.3h1.4v1.4h-1.4zM75.5 844.9h1.4v1.4h-1.4zM61.5 854.0h1.4v1.4h-1.4zM70.7 849.9h1.4v1.4h-1.4zM63.3 858.4h1.4v1.4h-1.4zM62.1 852.3h1.4v1.4h-1.4zM68.8 854.8h1.4v1.4h-1.4zM66.4 848.6h1.4v1.4h-1.4zM80.9 844.4h1.4v1.4h-1.4zM73.7 849.5h1.4v1.4h-1.4zM66.2 852.1h1.4v1.4h-1.4zM67.5 853.3h1.4v1.4h-1.4zM54.0 855.6h1.4v1.4h-1.4zM69.4 847.1h1.4v1.4h-1.4zM66.7 862.4h1.4v1.4h-1.4zM80.0 851.3h1.4v1.4h-1.4zM70.4 849.8h1.4v1.4h-1.4zM77.2 847.2h1.4v1.4h-1.4zM64.2 855.9h1.4v1.4h-1.4zM63.3 849.6h1.4v1.4h-1.4zM77.6 842.0h1.4v1.4h-1.4zM68.6 852.1h1.4v1.4h-1.4zM70.6 844.7h1.4v1.4h-1.4zM67.7 850.4h1.4v1.4h-1.4zM80.4 852.7h1.4v1.4h-1.4zM64.5 856.6h1.4v1.4h-1.4zM72.9 849.9h1.4v1.4h-1.4zM67.6 850.7h1.4v1.4h-1.4zM59.9 851.3h1.4v1.4h-1.4zM74.6 856.3h1.4v1.4h-1.4zM80.0 846.8h1.4v1.4h-1.4zM72.7 839.9h1.4v1.4h-1.4zM67.4 846.4h1.4v1.4h-1.4zM73.9 842.9h1.4v1.4h-1.4zM62.9 848.4h1.4v1.4h-1.4zM71.4 854.5h1.4v1.4h-1.4zM63.6 860.9h1.4v1.4h-1.4zM70.0 847.6h1.4v1.4h-1.4zM71.1 850.9h1.4v1.4h-1.4zM74.0 851.6h1.4v1.4h-1.4zM82.0 853.0h1.4v1.4h-1.4zM65.2 856.0h1.4v1.4h-1.4zM73.5 845.8h1.4v1.4h-1.4zM64.6 849.2h1.4v1.4h-1.4zM54.4 858.4h1.4v1.4h-1.4zM67.7 857.3h1.4v1.4h-1.4zM65.7 852.8h1.4v1.4h-1.4zM73.3 854.5h1.4v1.4h-1.4zM70.9 846.4h1.4v1.4h-1.4zM82.1 851.7h1.4v1.4h-1.4zM77.1 856.3h1.4v1.4h-1.4zM77.3 851.0h1.4v1.4h-1.4zM71.8 853.5h1.4v1.4h-1.4zM60.1 857.6h1.4v1.4h-1.4zM63.3 855.0h1.4v1.4h-1.4zM63.0 856.3h1.4v1.4h-1.4zM66.2 863.2h1.4v1.4h-1.4zM70.2 853.4h1.4v1.4h-1.4zM63.7 851.7h1.4v1.4h-1.4zM68.7 850.3h1.4v1.4h-1.4zM66.5 848.4h1.4v1.4h-1.4zM73.5 848.5h1.4v1.4h-1.4zM64.2 854.4h1.4v1.4h-1.4zM64.2 852.1h1.4v1.4h-1.4zM66.0 848.3h1.4v1.4h-1.4zM67.7 848.3h1.4v1.4h-1.4zM61.6 855.1h1.4v1.4h-1.4zM67.3 845.6h1.4v1.4h-1.4zM66.7 853.0h1.4v1.4h-1.4zM71.6 852.4h1.4v1.4h-1.4zM70.5 853.7h1.4v1.4h-1.4zM66.1 848.8h1.4v1.4h-1.4zM72.7 848.7h1.4v1.4h-1.4zM69.1 854.3h1.4v1.4h-1.4zM74.6 855.3h1.4v1.4h-1.4zM65.0 851.0h1.4v1.4h-1.4zM72.3 844.3h1.4v1.4h-1.4zM61.6 856.2h1.4v1.4h-1.4zM65.4 848.5h1.4v1.4h-1.4zM73.8 852.5h1.4v1.4h-1.4zM74.5 848.5h1.4v1.4h-1.4zM67.3 850.5h1.4v1.4h-1.4zM70.8 842.1h1.4v1.4h-1.4zM65.0 855.7h1.4v1.4h-1.4zM64.4 852.5h1.4v1.4h-1.4zM69.8 853.6h1.4v1.4h-1.4zM66.2 847.3h1.4v1.4h-1.4zM83.8 844.2h1.4v1.4h-1.4zM79.2 841.0h1.4v1.4h-1.4zM69.7 850.5h1.4v1.4h-1.4zM80.2 857.3h1.4v1.4h-1.4zM74.8 845.4h1.4v1.4h-1.4zM64.3 849.5h1.4v1.4h-1.4zM66.0 853.5h1.4v1.4h-1.4zM64.4 851.7h1.4v1.4h-1.4zM77.7 855.4h1.4v1.4h-1.4zM58.1 850.4h1.4v1.4h-1.4zM66.9 857.8h1.4v1.4h-1.4zM67.1 860.4h1.4v1.4h-1.4zM71.2 857.2h1.4v1.4h-1.4zM64.0 851.6h1.4v1.4h-1.4zM75.1 852.3h1.4v1.4h-1.4zM58.0 853.4h1.4v1.4h-1.4zM70.1 853.9h1.4v1.4h-1.4zM65.3 860.1h1.4v1.4h-1.4zM70.0 857.6h1.4v1.4h-1.4zM71.4 851.2h1.4v1.4h-1.4zM67.2 846.9h1.4v1.4h-1.4zM74.2 853.4h1.4v1.4h-1.4zM74.6 848.3h1.4v1.4h-1.4zM63.1 851.5h1.4v1.4h-1.4zM67.2 852.0h1.4v1.4h-1.4zM74.9 845.9h1.4v1.4h-1.4zM66.2 855.3h1.4v1.4h-1.4zM74.4 859.7h1.4v1.4h-1.4zM72.2 846.9h1.4v1.4h-1.4zM62.9 849.8h1.4v1.4h-1.4zM69.5 852.5h1.4v1.4h-1.4zM68.7 848.9h1.4v1.4h-1.4zM68.0 851.5h1.4v1.4h-1.4zM72.6 850.9h1.4v1.4h-1.4zM64.3 847.7h1.4v1.4h-1.4zM77.8 848.7h1.4v1.4h-1.4zM68.0 851.7h1.4v1.4h-1.4zM75.7 848.3h1.4v1.4h-1.4zM70.1 850.2h1.4v1.4h-1.4zM72.5 846.1h1.4v1.4h-1.4zM70.3 855.6h1.4v1.4h-1.4zM76.0 852.2h1.4v1.4h-1.4zM70.8 857.9h1.4v1.4h-1.4zM73.2 856.4h1.4v1.4h-1.4zM62.0 848.7h1.4v1.4h-1.4zM73.8 849.0h1.4v1.4h-1.4zM66.5 848.1h1.4v1.4h-1.4zM77.8 843.8h1.4v1.4h-1.4zM69.7 845.2h1.4v1.4h-1.4zM68.1 861.6h1.4v1.4h-1.4zM83.4 845.3h1.4v1.4h-1.4zM63.1 860.2h1.4v1.4h-1.4zM64.0 845.1h1.4v1.4h-1.4zM71.1 846.2h1.4v1.4h-1.4zM60.5 858.8h1.4v1.4h-1.4zM64.8 848.1h1.4v1.4h-1.4zM70.1 850.4h1.4v1.4h-1.4zM75.7 850.1h1.4v1.4h-1.4zM78.4 853.8h1.4v1.4h-1.4zM79.6 853.4h1.4v1.4h-1.4zM69.5 853.7h1.4v1.4h-1.4zM69.2 844.7h1.4v1.4h-1.4zM62.2 856.6h1.4v1.4h-1.4zM55.2 851.8h1.4v1.4h-1.4zM61.5 853.3h1.4v1.4h-1.4zM63.0 854.3h1.4v1.4h-1.4zM67.9 849.8h1.4v1.4h-1.4zM64.1 843.2h1.4v1.4h-1.4zM69.5 845.7h1.4v1.4h-1.4zM67.4 853.6h1.4v1.4h-1.4zM75.2 852.8h1.4v1.4h-1.4zM77.8 842.9h1.4v1.4h-1.4zM73.1 857.2h1.4v1.4h-1.4zM71.4 846.0h1.4v1.4h-1.4zM71.4 848.6h1.4v1.4h-1.4zM65.3 857.2h1.4v1.4h-1.4zM68.0 846.9h1.4v1.4h-1.4zM65.1 861.1h1.4v1.4h-1.4zM64.1 855.8h1.4v1.4h-1.4zM70.1 856.3h1.4v1.4h-1.4zM67.5 847.8h1.4v1.4h-1.4zM65.3 848.1h1.4v1.4h-1.4zM84.3 848.1h1.4v1.4h-1.4zM67.2 857.5h1.4v1.4h-1.4zM72.9 849.6h1.4v1.4h-1.4zM72.7 851.6h1.4v1.4h-1.4zM75.7 856.8h1.4v1.4h-1.4zM67.3 851.8h1.4v1.4h-1.4zM68.0 857.1h1.4v1.4h-1.4zM71.3 854.3h1.4v1.4h-1.4zM74.4 847.2h1.4v1.4h-1.4zM69.9 857.3h1.4v1.4h-1.4zM74.5 853.5h1.4v1.4h-1.4zM67.5 850.4h1.4v1.4h-1.4zM64.1 851.7h1.4v1.4h-1.4zM68.7 845.4h1.4v1.4h-1.4zM75.9 846.3h1.4v1.4h-1.4zM70.6 853.7h1.4v1.4h-1.4zM65.9 844.5h1.4v1.4h-1.4zM74.8 851.7h1.4v1.4h-1.4zM67.6 856.8h1.4v1.4h-1.4zM74.3 845.9h1.4v1.4h-1.4zM68.6 844.0h1.4v1.4h-1.4zM67.6 858.1h1.4v1.4h-1.4zM64.2 856.5h1.4v1.4h-1.4zM60.3 852.7h1.4v1.4h-1.4zM74.6 857.4h1.4v1.4h-1.4zM71.8 854.0h1.4v1.4h-1.4zM79.2 838.1h1.4v1.4h-1.4zM59.1 862.5h1.4v1.4h-1.4zM83.5 850.0h1.4v1.4h-1.4zM69.5 852.5h1.4v1.4h-1.4zM69.3 848.8h1.4v1.4h-1.4zM69.0 851.0h1.4v1.4h-1.4zM73.0 853.3h1.4v1.4h-1.4zM74.8 852.4h1.4v1.4h-1.4zM63.4 859.1h1.4v1.4h-1.4zM53.5 856.4h1.4v1.4h-1.4zM71.0 848.6h1.4v1.4h-1.4zM80.1 843.7h1.4v1.4h-1.4zM62.3 851.2h1.4v1.4h-1.4zM71.5 854.3h1.4v1.4h-1.4zM69.7 854.2h1.4v1.4h-1.4zM65.0 850.0h1.4v1.4h-1.4zM69.9 845.4h1.4v1.4h-1.4zM70.2 849.5h1.4v1.4h-1.4zM73.1 846.0h1.4v1.4h-1.4zM66.0 849.9h1.4v1.4h-1.4zM67.0 847.7h1.4v1.4h-1.4zM67.6 846.0h1.4v1.4h-1.4zM72.2 853.5h1.4v1.4h-1.4zM69.0 850.7h1.4v1.4h-1.4zM63.9 848.8h1.4v1.4h-1.4zM67.8 847.9h1.4v1.4h-1.4zM62.2 854.1h1.4v1.4h-1.4zM69.0 849.8h1.4v1.4h-1.4zM64.4 852.6h1.4v1.4h-1.4zM65.1 850.7h1.4v1.4h-1.4zM70.2 854.3h1.4v1.4h-1.4zM73.5 847.6h1.4v1.4h-1.4zM76.1 844.5h1.4v1.4h-1.4zM68.1 857.4h1.4v1.4h-1.4zM82.9 848.2h1.4v1.4h-1.4zM67.0 850.4h1.4v1.4h-1.4zM62.0 852.8h1.4v1.4h-1.4zM66.6 848.9h1.4v1.4h-1.4zM76.1 846.2h1.4v1.4h-1.4zM79.0 852.4h1.4v1.4h-1.4zM72.8 847.9h1.4v1.4h-1.4zM66.1 843.6h1.4v1.4h-1.4zM70.7 849.9h1.4v1.4h-1.4zM71.4 847.9h1.4v1.4h-1.4zM71.9 844.2h1.4v1.4h-1.4zM56.4 857.1h1.4v1.4h-1.4zM75.3 836.1h1.4v1.4h-1.4zM76.6 847.9h1.4v1.4h-1.4zM68.2 845.1h1.4v1.4h-1.4zM63.3 856.2h1.4v1.4h-1.4zM64.8 852.5h1.4v1.4h-1.4zM68.2 860.4h1.4v1.4h-1.4zM74.3 844.3h1.4v1.4h-1.4zM66.3 847.3h1.4v1.4h-1.4zM61.0 850.8h1.4v1.4h-1.4zM75.5 849.9h1.4v1.4h-1.4zM73.0 849.8h1.4v1.4h-1.4zM66.6 852.5h1.4v1.4h-1.4zM68.6 860.0h1.4v1.4h-1.4zM79.5 850.2h1.4v1.4h-1.4zM72.6 841.9h1.4v1.4h-1.4zM68.4 862.1h1.4v1.4h-1.4zM64.5 856.3h1.4v1.4h-1.4zM76.2 847.8h1.4v1.4h-1.4zM67.8 849.9h1.4v1.4h-1.4zM73.7 850.3h1.4v1.4h-1.4zM77.8 854.2h1.4v1.4h-1.4zM69.0 862.8h1.4v1.4h-1.4zM67.3 849.3h1.4v1.4h-1.4zM67.7 848.0h1.4v1.4h-1.4zM66.6 851.9h1.4v1.4h-1.4zM74.2 843.2h1.4v1.4h-1.4zM61.0 850.4h1.4v1.4h-1.4zM67.3 854.0h1.4v1.4h-1.4zM64.5 859.3h1.4v1.4h-1.4zM66.0 851.4h1.4v1.4h-1.4zM69.4 856.5h1.4v1.4h-1.4zM70.8 851.1h1.4v1.4h-1.4zM65.9 853.1h1.4v1.4h-1.4zM71.4 849.3h1.4v1.4h-1.4zM69.0 843.5h1.4v1.4h-1.4zM66.0 857.5h1.4v1.4h-1.4zM77.3 848.9h1.4v1.4h-1.4zM56.6 863.0h1.4v1.4h-1.4zM68.1 862.9h1.4v1.4h-1.4zM66.7 856.5h1.4v1.4h-1.4zM65.5 858.5h1.4v1.4h-1.4zM75.8 845.0h1.4v1.4h-1.4zM76.6 861.8h1.4v1.4h-1.4zM67.8 846.6h1.4v1.4h-1.4zM70.7 849.3h1.4v1.4h-1.4zM60.4 849.3h1.4v1.4h-1.4zM70.5 844.5h1.4v1.4h-1.4zM75.3 851.7h1.4v1.4h-1.4zM68.0 857.9h1.4v1.4h-1.4zM63.7 856.0h1.4v1.4h-1.4zM61.2 852.3h1.4v1.4h-1.4zM72.8 848.1h1.4v1.4h-1.4zM68.4 854.5h1.4v1.4h-1.4zM77.9 854.7h1.4v1.4h-1.4zM71.7 849.6h1.4v1.4h-1.4zM60.7 861.3h1.4v1.4h-1.4zM79.9 839.1h1.4v1.4h-1.4zM74.1 849.9h1.4v1.4h-1.4zM73.2 851.7h1.4v1.4h-1.4zM67.9 851.8h1.4v1.4h-1.4zM68.8 856.6h1.4v1.4h-1.4zM67.6 849.5h1.4v1.4h-1.4zM72.8 853.2h1.4v1.4h-1.4zM71.6 852.0h1.4v1.4h-1.4zM77.6 854.0h1.4v1.4h-1.4zM70.3 850.2h1.4v1.4h-1.4zM72.9 842.3h1.4v1.4h-1.4zM66.0 849.2h1.4v1.4h-1.4zM70.1 849.5h1.4v1.4h-1.4zM83.3 850.7h1.4v1.4h-1.4zM71.4 860.7h1.4v1.4h-1.4zM69.0 850.1h1.4v1.4h-1.4zM76.2 853.1h1.4v1.4h-1.4zM74.4 855.3h1.4v1.4h-1.4zM67.0 849.2h1.4v1.4h-1.4zM64.9 853.1h1.4v1.4h-1.4zM74.8 845.3h1.4v1.4h-1.4zM66.0 846.5h1.4v1.4h-1.4zM80.6 851.8h1.4v1.4h-1.4zM70.3 845.8h1.4v1.4h-1.4zM63.1 850.3h1.4v1.4h-1.4zM69.3 845.9h1.4v1.4h-1.4zM67.7 857.2h1.4v1.4h-1.4zM69.1 851.9h1.4v1.4h-1.4zM57.0 853.7h1.4v1.4h-1.4zM68.2 848.7h1.4v1.4h-1.4zM61.1 853.4h1.4v1.4h-1.4zM63.2 850.7h1.4v1.4h-1.4zM59.9 853.7h1.4v1.4h-1.4zM74.3 846.3h1.4v1.4h-1.4zM70.9 844.3h1.4v1.4h-1.4zM72.4 852.9h1.4v1.4h-1.4zM66.8 856.0h1.4v1.4h-1.4zM64.0 853.1h1.4v1.4h-1.4zM78.8 848.7h1.4v1.4h-1.4zM62.6 858.3h1.4v1.4h-1.4zM72.1 849.4h1.4v1.4h-1.4zM58.6 846.2h1.4v1.4h-1.4zM60.3 860.4h1.4v1.4h-1.4zM70.7 847.3h1.4v1.4h-1.4zM75.7 856.0h1.4v1.4h-1.4zM64.2 855.0h1.4v1.4h-1.4zM59.6 855.8h1.4v1.4h-1.4zM79.5 842.4h1.4v1.4h-1.4zM69.4 848.6h1.4v1.4h-1.4zM68.5 852.0h1.4v1.4h-1.4zM70.7 854.9h1.4v1.4h-1.4zM72.0 855.2h1.4v1.4h-1.4zM74.9 854.7h1.4v1.4h-1.4zM65.2 854.4h1.4v1.4h-1.4zM66.9 848.4h1.4v1.4h-1.4zM80.3 849.6h1.4v1.4h-1.4zM69.3 842.2h1.4v1.4h-1.4zM67.7 855.2h1.4v1.4h-1.4zM67.9 849.4h1.4v1.4h-1.4zM77.5 847.7h1.4v1.4h-1.4zM67.1 851.6h1.4v1.4h-1.4zM67.7 856.5h1.4v1.4h-1.4zM72.3 850.3h1.4v1.4h-1.4zM67.0 851.1h1.4v1.4h-1.4zM78.8 847.4h1.4v1.4h-1.4zM72.8 843.5h1.4v1.4h-1.4zM70.9 854.0h1.4v1.4h-1.4zM76.4 850.8h1.4v1.4h-1.4zM72.4 852.0h1.4v1.4h-1.4zM75.2 858.7h1.4v1.4h-1.4zM70.2 847.6h1.4v1.4h-1.4zM72.5 850.0h1.4v1.4h-1.4zM72.7 853.9h1.4v1.4h-1.4zM69.9 849.3h1.4v1.4h-1.4zM70.8 845.5h1.4v1.4h-1.4zM70.6 847.2h1.4v1.4h-1.4zM71.6 851.3h1.4v1.4h-1.4zM67.8 846.6h1.4v1.4h-1.4zM69.3 848.4h1.4v1.4h-1.4zM68.2 854.8h1.4v1.4h-1.4zM74.5 844.3h1.4v1.4h-1.4zM74.4 856.0h1.4v1.4h-1.4zM75.5 850.9h1.4v1.4h-1.4zM68.5 859.3h1.4v1.4h-1.4zM67.2 845.3h1.4v1.4h-1.4zM69.6 852.6h1.4v1.4h-1.4zM63.1 847.8h1.4v1.4h-1.4zM80.4 848.8h1.4v1.4h-1.4zM73.5 847.7h1.4v1.4h-1.4zM60.4 853.1h1.4v1.4h-1.4zM76.8 846.4h1.4v1.4h-1.4zM58.8 853.6h1.4v1.4h-1.4zM67.5 852.0h1.4v1.4h-1.4zM63.1 851.8h1.4v1.4h-1.4zM65.9 856.2h1.4v1.4h-1.4zM69.9 855.1h1.4v1.4h-1.4zM68.8 842.2h1.4v1.4h-1.4zM57.8 857.0h1.4v1.4h-1.4zM74.1 853.9h1.4v1.4h-1.4zM68.6 843.8h1.4v1.4h-1.4zM66.2 854.0h1.4v1.4h-1.4zM77.0 847.8h1.4v1.4h-1.4zM65.8 849.0h1.4v1.4h-1.4zM74.9 853.7h1.4v1.4h-1.4zM58.6 859.7h1.4v1.4h-1.4zM63.8 846.5h1.4v1.4h-1.4zM59.9 850.9h1.4v1.4h-1.4zM82.4 859.0h1.4v1.4h-1.4zM61.9 850.5h1.4v1.4h-1.4zM70.0 853.1h1.4v1.4h-1.4zM66.3 845.3h1.4v1.4h-1.4zM66.7 849.2h1.4v1.4h-1.4zM58.8 855.0h1.4v1.4h-1.4zM60.7 846.2h1.4v1.4h-1.4zM77.8 853.2h1.4v1.4h-1.4zM77.4 849.7h1.4v1.4h-1.4zM66.7 851.8h1.4v1.4h-1.4zM61.2 856.9h1.4v1.4h-1.4zM70.6 849.7h1.4v1.4h-1.4zM58.3 854.0h1.4v1.4h-1.4zM78.4 855.2h1.4v1.4h-1.4zM74.1 848.5h1.4v1.4h-1.4zM69.9 853.7h1.4v1.4h-1.4z" fill="#111" fill-opacity="1"/><path d="M73.8 855.7h1.3v1.3h-1.3zM66.4 836.2h1.3v1.3h-1.3zM60.2 857.0h1.3v1.3h-1.3zM81.4 847.0h1.3v1.3h-1.3zM76.7 848.7h1.3v1.3h-1.3zM73.6 846.0h1.3v1.3h-1.3zM68.6 858.0h1.3v1.3h-1.3zM69.8 849.8h1.3v1.3h-1.3zM82.4 853.0h1.3v1.3h-1.3zM68.7 852.0h1.3v1.3h-1.3zM63.4 852.7h1.3v1.3h-1.3zM74.8 848.7h1.3v1.3h-1.3zM73.5 851.4h1.3v1.3h-1.3zM72.8 846.1h1.3v1.3h-1.3zM63.8 850.2h1.3v1.3h-1.3zM86.0 844.2h1.3v1.3h-1.3zM66.5 847.9h1.3v1.3h-1.3zM61.9 855.4h1.3v1.3h-1.3zM63.6 857.6h1.3v1.3h-1.3zM79.9 851.0h1.3v1.3h-1.3zM81.1 846.5h1.3v1.3h-1.3zM56.9 853.2h1.3v1.3h-1.3zM77.6 838.1h1.3v1.3h-1.3zM61.6 859.4h1.3v1.3h-1.3zM75.9 857.1h1.3v1.3h-1.3zM77.9 848.3h1.3v1.3h-1.3zM75.8 853.9h1.3v1.3h-1.3zM71.9 848.2h1.3v1.3h-1.3zM74.8 846.7h1.3v1.3h-1.3zM92.9 838.9h1.3v1.3h-1.3zM59.0 844.8h1.3v1.3h-1.3zM81.1 844.4h1.3v1.3h-1.3zM73.5 847.7h1.3v1.3h-1.3zM74.5 839.5h1.3v1.3h-1.3zM72.8 845.6h1.3v1.3h-1.3zM81.5 850.9h1.3v1.3h-1.3zM61.2 846.2h1.3v1.3h-1.3zM77.0 855.8h1.3v1.3h-1.3zM78.7 846.7h1.3v1.3h-1.3zM81.7 831.7h1.3v1.3h-1.3zM67.5 844.5h1.3v1.3h-1.3zM63.2 855.5h1.3v1.3h-1.3zM74.5 850.6h1.3v1.3h-1.3zM71.0 853.8h1.3v1.3h-1.3zM78.9 844.0h1.3v1.3h-1.3zM80.2 841.3h1.3v1.3h-1.3zM87.4 837.0h1.3v1.3h-1.3zM69.6 843.2h1.3v1.3h-1.3zM72.5 857.8h1.3v1.3h-1.3zM65.6 862.6h1.3v1.3h-1.3zM84.3 848.6h1.3v1.3h-1.3zM67.0 856.7h1.3v1.3h-1.3zM80.5 846.9h1.3v1.3h-1.3zM93.7 839.3h1.3v1.3h-1.3zM60.6 851.2h1.3v1.3h-1.3zM77.1 859.0h1.3v1.3h-1.3zM56.8 854.6h1.3v1.3h-1.3zM83.1 842.2h1.3v1.3h-1.3zM68.2 842.8h1.3v1.3h-1.3zM78.8 853.0h1.3v1.3h-1.3zM77.2 849.7h1.3v1.3h-1.3zM80.7 846.3h1.3v1.3h-1.3zM78.4 853.0h1.3v1.3h-1.3zM83.4 849.7h1.3v1.3h-1.3zM72.9 853.8h1.3v1.3h-1.3zM58.6 841.8h1.3v1.3h-1.3zM86.2 846.5h1.3v1.3h-1.3zM63.0 848.2h1.3v1.3h-1.3zM70.8 850.3h1.3v1.3h-1.3zM65.5 857.7h1.3v1.3h-1.3zM57.3 871.6h1.3v1.3h-1.3zM62.7 862.7h1.3v1.3h-1.3zM77.9 837.1h1.3v1.3h-1.3zM61.4 852.8h1.3v1.3h-1.3zM74.5 846.1h1.3v1.3h-1.3zM72.2 850.5h1.3v1.3h-1.3zM62.1 852.6h1.3v1.3h-1.3zM92.0 839.9h1.3v1.3h-1.3zM63.3 856.2h1.3v1.3h-1.3zM83.9 853.0h1.3v1.3h-1.3zM66.6 850.5h1.3v1.3h-1.3zM73.9 847.6h1.3v1.3h-1.3zM75.6 855.5h1.3v1.3h-1.3zM76.9 848.1h1.3v1.3h-1.3zM70.3 861.5h1.3v1.3h-1.3zM61.3 865.3h1.3v1.3h-1.3zM78.6 848.3h1.3v1.3h-1.3zM65.6 863.1h1.3v1.3h-1.3zM82.8 852.4h1.3v1.3h-1.3zM90.4 832.9h1.3v1.3h-1.3zM73.0 847.2h1.3v1.3h-1.3zM65.7 851.7h1.3v1.3h-1.3zM76.8 851.6h1.3v1.3h-1.3zM70.9 841.3h1.3v1.3h-1.3zM77.0 852.1h1.3v1.3h-1.3zM90.8 850.4h1.3v1.3h-1.3zM72.3 842.0h1.3v1.3h-1.3zM96.1 838.6h1.3v1.3h-1.3zM73.9 853.8h1.3v1.3h-1.3zM76.6 856.9h1.3v1.3h-1.3zM63.0 847.5h1.3v1.3h-1.3zM73.7 841.1h1.3v1.3h-1.3zM66.7 859.9h1.3v1.3h-1.3zM74.7 848.1h1.3v1.3h-1.3zM67.1 851.2h1.3v1.3h-1.3zM71.8 842.6h1.3v1.3h-1.3zM79.1 839.3h1.3v1.3h-1.3zM83.5 844.2h1.3v1.3h-1.3zM74.7 843.1h1.3v1.3h-1.3zM88.2 854.1h1.3v1.3h-1.3zM90.8 850.2h1.3v1.3h-1.3zM84.1 842.3h1.3v1.3h-1.3zM83.7 843.5h1.3v1.3h-1.3zM71.7 840.8h1.3v1.3h-1.3zM72.6 851.9h1.3v1.3h-1.3zM71.6 842.4h1.3v1.3h-1.3zM80.2 853.2h1.3v1.3h-1.3zM71.3 854.8h1.3v1.3h-1.3zM80.9 840.7h1.3v1.3h-1.3zM71.8 837.5h1.3v1.3h-1.3zM62.9 854.8h1.3v1.3h-1.3zM64.3 854.1h1.3v1.3h-1.3zM75.3 835.2h1.3v1.3h-1.3zM67.8 860.5h1.3v1.3h-1.3zM72.2 850.2h1.3v1.3h-1.3zM65.8 840.8h1.3v1.3h-1.3zM57.9 872.0h1.3v1.3h-1.3zM70.5 844.3h1.3v1.3h-1.3zM73.1 836.6h1.3v1.3h-1.3zM84.6 857.2h1.3v1.3h-1.3zM65.4 853.4h1.3v1.3h-1.3zM64.1 857.2h1.3v1.3h-1.3zM64.6 850.6h1.3v1.3h-1.3zM83.8 849.7h1.3v1.3h-1.3zM69.2 840.4h1.3v1.3h-1.3zM57.9 861.2h1.3v1.3h-1.3zM76.7 848.6h1.3v1.3h-1.3zM83.4 847.4h1.3v1.3h-1.3zM65.6 850.6h1.3v1.3h-1.3zM71.2 849.6h1.3v1.3h-1.3zM94.5 847.2h1.3v1.3h-1.3zM74.6 847.2h1.3v1.3h-1.3zM66.0 844.6h1.3v1.3h-1.3zM55.3 851.1h1.3v1.3h-1.3zM58.5 841.1h1.3v1.3h-1.3zM63.7 838.5h1.3v1.3h-1.3z" fill="#111" fill-opacity="0.85"/><path d="M120.9 854.5h1.3v1.3h-1.3zM113.4 858.9h1.3v1.3h-1.3zM118.6 833.4h1.3v1.3h-1.3zM116.6 841.9h1.3v1.3h-1.3zM111.0 846.0h1.3v1.3h-1.3zM120.2 850.0h1.3v1.3h-1.3zM111.9 843.8h1.3v1.3h-1.3zM114.1 853.9h1.3v1.3h-1.3zM116.2 842.0h1.3v1.3h-1.3zM113.6 836.5h1.3v1.3h-1.3zM113.8 852.5h1.3v1.3h-1.3zM110.4 848.6h1.3v1.3h-1.3zM116.2 852.1h1.3v1.3h-1.3zM112.9 852.6h1.3v1.3h-1.3zM121.5 860.3h1.3v1.3h-1.3zM111.3 847.3h1.3v1.3h-1.3zM115.9 848.2h1.3v1.3h-1.3zM113.4 852.3h1.3v1.3h-1.3zM124.0 855.9h1.3v1.3h-1.3zM113.5 844.3h1.3v1.3h-1.3zM118.9 848.3h1.3v1.3h-1.3zM114.1 854.4h1.3v1.3h-1.3zM118.2 853.2h1.3v1.3h-1.3zM116.0 854.7h1.3v1.3h-1.3zM115.0 841.2h1.3v1.3h-1.3zM116.5 839.7h1.3v1.3h-1.3zM120.5 851.6h1.3v1.3h-1.3zM111.1 848.5h1.3v1.3h-1.3zM119.2 845.5h1.3v1.3h-1.3zM117.9 844.2h1.3v1.3h-1.3zM116.3 847.0h1.3v1.3h-1.3zM118.1 842.1h1.3v1.3h-1.3zM112.9 849.3h1.3v1.3h-1.3zM114.9 850.4h1.3v1.3h-1.3zM114.9 840.1h1.3v1.3h-1.3zM118.9 849.0h1.3v1.3h-1.3zM118.9 845.6h1.3v1.3h-1.3zM115.4 854.6h1.3v1.3h-1.3zM111.1 857.3h1.3v1.3h-1.3zM118.2 847.2h1.3v1.3h-1.3zM116.8 850.9h1.3v1.3h-1.3zM114.0 849.1h1.3v1.3h-1.3zM113.5 837.1h1.3v1.3h-1.3zM117.2 848.1h1.3v1.3h-1.3zM118.6 850.6h1.3v1.3h-1.3zM118.8 851.9h1.3v1.3h-1.3zM113.1 854.3h1.3v1.3h-1.3zM125.1 844.3h1.3v1.3h-1.3zM112.5 851.3h1.3v1.3h-1.3zM119.5 853.2h1.3v1.3h-1.3zM121.5 839.7h1.3v1.3h-1.3zM117.7 850.1h1.3v1.3h-1.3zM120.5 842.5h1.3v1.3h-1.3zM116.6 845.4h1.3v1.3h-1.3zM116.0 846.7h1.3v1.3h-1.3zM116.0 837.6h1.3v1.3h-1.3zM116.4 847.9h1.3v1.3h-1.3zM115.3 827.6h1.3v1.3h-1.3zM114.3 843.8h1.3v1.3h-1.3zM113.7 856.5h1.3v1.3h-1.3zM119.5 846.5h1.3v1.3h-1.3zM118.4 866.0h1.3v1.3h-1.3zM113.4 850.2h1.3v1.3h-1.3zM114.6 855.8h1.3v1.3h-1.3zM120.1 846.8h1.3v1.3h-1.3zM118.5 843.0h1.3v1.3h-1.3zM111.4 852.2h1.3v1.3h-1.3zM121.8 845.8h1.3v1.3h-1.3zM114.8 837.4h1.3v1.3h-1.3zM123.4 840.8h1.3v1.3h-1.3zM113.4 846.4h1.3v1.3h-1.3zM120.4 847.8h1.3v1.3h-1.3zM116.4 847.6h1.3v1.3h-1.3zM119.2 847.3h1.3v1.3h-1.3zM117.0 847.1h1.3v1.3h-1.3zM112.9 855.1h1.3v1.3h-1.3zM114.3 840.1h1.3v1.3h-1.3zM115.1 847.7h1.3v1.3h-1.3zM119.1 839.2h1.3v1.3h-1.3zM112.4 848.5h1.3v1.3h-1.3zM117.7 841.3h1.3v1.3h-1.3zM112.9 848.5h1.3v1.3h-1.3zM116.0 838.4h1.3v1.3h-1.3zM113.7 855.8h1.3v1.3h-1.3zM113.1 853.4h1.3v1.3h-1.3zM111.6 855.9h1.3v1.3h-1.3zM121.7 843.9h1.3v1.3h-1.3zM114.3 851.0h1.3v1.3h-1.3zM112.5 850.6h1.3v1.3h-1.3zM120.4 849.0h1.3v1.3h-1.3zM117.5 846.6h1.3v1.3h-1.3zM119.7 842.9h1.3v1.3h-1.3zM121.6 847.4h1.3v1.3h-1.3zM115.5 838.3h1.3v1.3h-1.3zM115.1 848.8h1.3v1.3h-1.3zM120.5 838.4h1.3v1.3h-1.3zM116.1 843.6h1.3v1.3h-1.3zM112.7 847.5h1.3v1.3h-1.3zM114.1 852.4h1.3v1.3h-1.3zM107.8 851.6h1.3v1.3h-1.3zM110.4 836.5h1.3v1.3h-1.3zM118.2 845.6h1.3v1.3h-1.3zM116.9 842.1h1.3v1.3h-1.3zM113.1 843.4h1.3v1.3h-1.3zM116.3 842.8h1.3v1.3h-1.3zM115.2 842.7h1.3v1.3h-1.3zM117.3 841.1h1.3v1.3h-1.3zM109.8 832.7h1.3v1.3h-1.3zM116.4 848.0h1.3v1.3h-1.3zM119.6 843.3h1.3v1.3h-1.3zM112.8 839.1h1.3v1.3h-1.3zM118.9 844.0h1.3v1.3h-1.3zM119.7 847.1h1.3v1.3h-1.3zM115.6 837.0h1.3v1.3h-1.3zM114.3 851.9h1.3v1.3h-1.3zM114.5 851.3h1.3v1.3h-1.3zM111.2 853.2h1.3v1.3h-1.3zM125.4 853.8h1.3v1.3h-1.3zM117.5 840.6h1.3v1.3h-1.3zM114.8 843.8h1.3v1.3h-1.3zM117.1 836.1h1.3v1.3h-1.3zM113.7 852.0h1.3v1.3h-1.3zM117.0 851.7h1.3v1.3h-1.3zM119.2 841.1h1.3v1.3h-1.3zM112.2 850.1h1.3v1.3h-1.3zM116.6 847.9h1.3v1.3h-1.3zM113.9 853.2h1.3v1.3h-1.3zM118.1 853.9h1.3v1.3h-1.3zM115.4 851.4h1.3v1.3h-1.3zM116.3 842.2h1.3v1.3h-1.3zM116.2 838.2h1.3v1.3h-1.3zM115.9 848.5h1.3v1.3h-1.3zM118.7 841.6h1.3v1.3h-1.3zM112.2 843.4h1.3v1.3h-1.3zM109.8 843.8h1.3v1.3h-1.3zM124.9 848.3h1.3v1.3h-1.3zM114.1 843.7h1.3v1.3h-1.3zM122.2 841.0h1.3v1.3h-1.3zM116.1 847.1h1.3v1.3h-1.3zM114.1 843.5h1.3v1.3h-1.3zM111.1 842.8h1.3v1.3h-1.3zM120.7 855.5h1.3v1.3h-1.3zM115.6 851.5h1.3v1.3h-1.3zM118.0 848.1h1.3v1.3h-1.3zM116.1 854.3h1.3v1.3h-1.3zM118.3 846.2h1.3v1.3h-1.3zM115.7 852.7h1.3v1.3h-1.3zM114.6 843.5h1.3v1.3h-1.3zM115.6 844.7h1.3v1.3h-1.3zM120.6 849.5h1.3v1.3h-1.3zM116.2 844.5h1.3v1.3h-1.3zM121.0 850.0h1.3v1.3h-1.3zM123.2 852.6h1.3v1.3h-1.3zM115.8 844.4h1.3v1.3h-1.3zM115.6 848.5h1.3v1.3h-1.3zM119.0 850.2h1.3v1.3h-1.3zM121.5 839.0h1.3v1.3h-1.3zM116.6 839.5h1.3v1.3h-1.3zM113.2 844.1h1.3v1.3h-1.3zM114.4 842.1h1.3v1.3h-1.3zM111.6 853.9h1.3v1.3h-1.3zM115.5 852.9h1.3v1.3h-1.3zM113.0 834.5h1.3v1.3h-1.3zM114.6 852.4h1.3v1.3h-1.3zM114.7 849.7h1.3v1.3h-1.3zM113.0 855.3h1.3v1.3h-1.3zM117.9 853.4h1.3v1.3h-1.3zM115.6 854.7h1.3v1.3h-1.3zM116.7 844.8h1.3v1.3h-1.3zM114.4 847.8h1.3v1.3h-1.3zM113.6 840.8h1.3v1.3h-1.3zM116.9 851.5h1.3v1.3h-1.3zM115.6 852.2h1.3v1.3h-1.3zM121.6 840.4h1.3v1.3h-1.3zM117.3 842.1h1.3v1.3h-1.3zM114.4 848.5h1.3v1.3h-1.3zM108.9 850.9h1.3v1.3h-1.3zM119.2 850.5h1.3v1.3h-1.3zM118.6 857.7h1.3v1.3h-1.3zM115.3 853.6h1.3v1.3h-1.3zM121.1 850.3h1.3v1.3h-1.3zM110.8 846.6h1.3v1.3h-1.3zM115.6 838.4h1.3v1.3h-1.3zM116.3 851.7h1.3v1.3h-1.3zM115.7 846.5h1.3v1.3h-1.3zM121.2 844.0h1.3v1.3h-1.3zM113.5 847.7h1.3v1.3h-1.3zM120.1 850.8h1.3v1.3h-1.3zM116.7 844.7h1.3v1.3h-1.3zM120.5 852.5h1.3v1.3h-1.3zM110.9 849.4h1.3v1.3h-1.3zM108.8 855.9h1.3v1.3h-1.3zM118.5 844.0h1.3v1.3h-1.3zM112.4 845.8h1.3v1.3h-1.3zM110.9 850.7h1.3v1.3h-1.3zM114.9 837.6h1.3v1.3h-1.3zM116.4 854.1h1.3v1.3h-1.3zM112.4 845.5h1.3v1.3h-1.3zM122.3 848.5h1.3v1.3h-1.3zM114.7 848.6h1.3v1.3h-1.3zM119.0 841.9h1.3v1.3h-1.3zM116.2 838.3h1.3v1.3h-1.3zM111.4 838.9h1.3v1.3h-1.3zM119.2 849.2h1.3v1.3h-1.3zM118.8 854.3h1.3v1.3h-1.3zM116.6 848.8h1.3v1.3h-1.3zM117.8 850.1h1.3v1.3h-1.3zM113.1 846.0h1.3v1.3h-1.3zM116.0 847.7h1.3v1.3h-1.3zM114.1 846.7h1.3v1.3h-1.3zM117.4 848.5h1.3v1.3h-1.3zM118.4 852.1h1.3v1.3h-1.3zM118.3 852.9h1.3v1.3h-1.3zM119.2 855.3h1.3v1.3h-1.3zM118.5 844.0h1.3v1.3h-1.3zM124.0 853.8h1.3v1.3h-1.3zM120.5 851.6h1.3v1.3h-1.3zM116.7 841.1h1.3v1.3h-1.3zM117.9 845.5h1.3v1.3h-1.3zM115.2 835.5h1.3v1.3h-1.3zM121.5 840.9h1.3v1.3h-1.3zM113.0 850.1h1.3v1.3h-1.3zM118.3 843.0h1.3v1.3h-1.3zM116.5 848.9h1.3v1.3h-1.3zM117.0 850.5h1.3v1.3h-1.3zM119.0 845.4h1.3v1.3h-1.3zM111.3 859.6h1.3v1.3h-1.3zM115.3 841.9h1.3v1.3h-1.3zM118.9 850.8h1.3v1.3h-1.3zM114.5 860.7h1.3v1.3h-1.3zM109.0 854.7h1.3v1.3h-1.3zM116.4 849.2h1.3v1.3h-1.3zM117.5 846.2h1.3v1.3h-1.3zM117.5 840.2h1.3v1.3h-1.3zM115.2 857.9h1.3v1.3h-1.3zM108.2 854.4h1.3v1.3h-1.3zM109.3 842.7h1.3v1.3h-1.3zM119.3 845.2h1.3v1.3h-1.3zM114.6 839.1h1.3v1.3h-1.3zM116.1 846.5h1.3v1.3h-1.3zM114.4 838.7h1.3v1.3h-1.3zM117.0 849.8h1.3v1.3h-1.3zM120.2 850.4h1.3v1.3h-1.3zM121.4 854.2h1.3v1.3h-1.3zM107.4 856.8h1.3v1.3h-1.3zM116.2 841.6h1.3v1.3h-1.3zM117.9 852.9h1.3v1.3h-1.3zM111.5 840.6h1.3v1.3h-1.3zM118.7 844.4h1.3v1.3h-1.3zM121.2 848.7h1.3v1.3h-1.3zM114.7 840.0h1.3v1.3h-1.3zM118.4 837.8h1.3v1.3h-1.3zM112.3 840.1h1.3v1.3h-1.3zM122.0 857.1h1.3v1.3h-1.3zM115.8 845.3h1.3v1.3h-1.3zM118.7 854.5h1.3v1.3h-1.3zM113.9 859.9h1.3v1.3h-1.3zM115.8 853.9h1.3v1.3h-1.3zM108.9 847.2h1.3v1.3h-1.3zM114.3 858.6h1.3v1.3h-1.3zM115.8 840.3h1.3v1.3h-1.3zM122.8 843.6h1.3v1.3h-1.3zM116.5 840.5h1.3v1.3h-1.3zM118.7 848.6h1.3v1.3h-1.3zM115.6 845.2h1.3v1.3h-1.3zM114.7 843.5h1.3v1.3h-1.3zM112.0 854.3h1.3v1.3h-1.3zM119.4 839.7h1.3v1.3h-1.3zM112.8 849.8h1.3v1.3h-1.3zM123.8 846.3h1.3v1.3h-1.3zM115.5 846.1h1.3v1.3h-1.3zM117.3 846.5h1.3v1.3h-1.3zM120.0 853.0h1.3v1.3h-1.3zM118.3 856.3h1.3v1.3h-1.3zM115.8 844.4h1.3v1.3h-1.3zM126.1 836.6h1.3v1.3h-1.3zM111.5 834.3h1.3v1.3h-1.3zM117.6 841.5h1.3v1.3h-1.3zM119.9 835.7h1.3v1.3h-1.3zM116.1 845.3h1.3v1.3h-1.3z" fill="#111" fill-opacity="1"/><path d="M112.2 879.2h1.4v1.4h-1.4zM114.0 874.9h1.4v1.4h-1.4zM113.6 873.4h1.4v1.4h-1.4zM113.8 872.9h1.4v1.4h-1.4zM114.7 868.4h1.4v1.4h-1.4zM116.1 870.5h1.4v1.4h-1.4zM112.5 867.4h1.4v1.4h-1.4zM116.2 878.7h1.4v1.4h-1.4zM111.6 871.2h1.4v1.4h-1.4zM116.2 877.1h1.4v1.4h-1.4zM116.9 864.8h1.4v1.4h-1.4zM115.1 876.8h1.4v1.4h-1.4zM115.6 870.5h1.4v1.4h-1.4zM111.9 874.2h1.4v1.4h-1.4zM114.8 872.2h1.4v1.4h-1.4zM118.9 876.8h1.4v1.4h-1.4zM112.9 874.1h1.4v1.4h-1.4zM114.2 872.9h1.4v1.4h-1.4zM119.3 875.1h1.4v1.4h-1.4zM115.1 868.4h1.4v1.4h-1.4zM114.6 874.1h1.4v1.4h-1.4zM113.7 878.5h1.4v1.4h-1.4zM115.1 865.6h1.4v1.4h-1.4zM120.3 854.0h1.4v1.4h-1.4zM114.3 871.6h1.4v1.4h-1.4zM117.6 876.9h1.4v1.4h-1.4zM118.8 878.8h1.4v1.4h-1.4zM115.8 872.3h1.4v1.4h-1.4zM117.7 870.7h1.4v1.4h-1.4zM111.7 870.9h1.4v1.4h-1.4zM116.7 874.6h1.4v1.4h-1.4zM112.1 879.7h1.4v1.4h-1.4zM115.8 863.5h1.4v1.4h-1.4zM116.2 876.9h1.4v1.4h-1.4zM116.4 869.7h1.4v1.4h-1.4zM112.9 878.9h1.4v1.4h-1.4zM115.6 871.7h1.4v1.4h-1.4zM114.0 866.9h1.4v1.4h-1.4zM110.1 872.2h1.4v1.4h-1.4zM117.9 874.9h1.4v1.4h-1.4zM113.2 881.0h1.4v1.4h-1.4zM114.4 866.8h1.4v1.4h-1.4zM117.6 878.4h1.4v1.4h-1.4zM114.0 865.8h1.4v1.4h-1.4zM114.8 858.9h1.4v1.4h-1.4zM115.1 880.2h1.4v1.4h-1.4zM115.7 867.7h1.4v1.4h-1.4zM116.9 868.5h1.4v1.4h-1.4zM118.3 868.7h1.4v1.4h-1.4zM120.3 867.8h1.4v1.4h-1.4zM115.5 866.7h1.4v1.4h-1.4zM111.7 875.3h1.4v1.4h-1.4zM115.9 866.4h1.4v1.4h-1.4zM116.5 869.1h1.4v1.4h-1.4zM113.6 872.2h1.4v1.4h-1.4zM116.0 875.5h1.4v1.4h-1.4zM118.2 872.7h1.4v1.4h-1.4zM113.1 869.1h1.4v1.4h-1.4zM116.0 865.1h1.4v1.4h-1.4zM114.6 870.1h1.4v1.4h-1.4zM114.7 873.1h1.4v1.4h-1.4zM117.7 879.7h1.4v1.4h-1.4zM117.3 876.5h1.4v1.4h-1.4zM112.2 878.8h1.4v1.4h-1.4zM118.4 863.2h1.4v1.4h-1.4zM121.6 866.1h1.4v1.4h-1.4zM108.8 884.2h1.4v1.4h-1.4zM115.2 867.6h1.4v1.4h-1.4zM113.5 878.4h1.4v1.4h-1.4zM115.7 869.7h1.4v1.4h-1.4zM118.0 865.7h1.4v1.4h-1.4zM112.8 869.9h1.4v1.4h-1.4zM113.0 876.6h1.4v1.4h-1.4zM114.4 866.6h1.4v1.4h-1.4zM113.8 861.8h1.4v1.4h-1.4zM115.4 872.4h1.4v1.4h-1.4zM116.6 870.1h1.4v1.4h-1.4zM116.0 866.5h1.4v1.4h-1.4zM115.1 872.8h1.4v1.4h-1.4zM111.8 876.5h1.4v1.4h-1.4zM115.4 872.1h1.4v1.4h-1.4zM113.8 883.3h1.4v1.4h-1.4zM115.0 867.9h1.4v1.4h-1.4zM112.8 876.1h1.4v1.4h-1.4zM114.5 868.0h1.4v1.4h-1.4zM113.1 877.8h1.4v1.4h-1.4zM115.2 877.6h1.4v1.4h-1.4zM115.0 865.6h1.4v1.4h-1.4zM117.3 872.8h1.4v1.4h-1.4zM113.3 871.1h1.4v1.4h-1.4zM112.5 877.5h1.4v1.4h-1.4zM113.9 875.0h1.4v1.4h-1.4zM115.7 870.3h1.4v1.4h-1.4zM116.0 870.3h1.4v1.4h-1.4zM111.9 871.1h1.4v1.4h-1.4zM111.9 877.4h1.4v1.4h-1.4zM116.7 868.1h1.4v1.4h-1.4zM116.6 872.6h1.4v1.4h-1.4zM117.5 865.9h1.4v1.4h-1.4zM115.1 866.6h1.4v1.4h-1.4zM113.2 880.1h1.4v1.4h-1.4zM109.8 869.3h1.4v1.4h-1.4zM116.3 875.6h1.4v1.4h-1.4zM113.0 861.9h1.4v1.4h-1.4zM110.5 875.9h1.4v1.4h-1.4zM117.9 875.7h1.4v1.4h-1.4zM113.1 880.1h1.4v1.4h-1.4zM114.5 875.5h1.4v1.4h-1.4zM114.5 880.8h1.4v1.4h-1.4zM113.7 861.0h1.4v1.4h-1.4zM114.2 873.4h1.4v1.4h-1.4zM115.7 867.8h1.4v1.4h-1.4zM114.4 866.1h1.4v1.4h-1.4zM114.4 872.7h1.4v1.4h-1.4zM115.6 880.6h1.4v1.4h-1.4zM109.8 877.0h1.4v1.4h-1.4zM116.1 865.3h1.4v1.4h-1.4zM115.2 871.9h1.4v1.4h-1.4zM112.4 877.0h1.4v1.4h-1.4zM120.0 873.5h1.4v1.4h-1.4zM117.0 876.9h1.4v1.4h-1.4zM114.7 877.4h1.4v1.4h-1.4zM112.9 873.8h1.4v1.4h-1.4zM116.8 878.3h1.4v1.4h-1.4zM114.3 870.7h1.4v1.4h-1.4zM116.2 871.1h1.4v1.4h-1.4zM115.4 876.2h1.4v1.4h-1.4zM113.0 877.5h1.4v1.4h-1.4zM116.0 870.2h1.4v1.4h-1.4zM111.8 870.0h1.4v1.4h-1.4zM114.9 877.1h1.4v1.4h-1.4zM109.9 878.0h1.4v1.4h-1.4zM115.5 865.7h1.4v1.4h-1.4zM117.2 873.2h1.4v1.4h-1.4zM116.1 866.3h1.4v1.4h-1.4zM112.1 878.1h1.4v1.4h-1.4zM118.6 872.4h1.4v1.4h-1.4zM114.5 869.8h1.4v1.4h-1.4zM110.6 879.2h1.4v1.4h-1.4zM114.8 878.7h1.4v1.4h-1.4zM113.1 878.4h1.4v1.4h-1.4zM113.2 875.9h1.4v1.4h-1.4zM118.6 866.7h1.4v1.4h-1.4zM117.3 871.0h1.4v1.4h-1.4zM112.6 874.1h1.4v1.4h-1.4zM116.7 867.5h1.4v1.4h-1.4zM114.3 869.2h1.4v1.4h-1.4zM113.0 871.7h1.4v1.4h-1.4zM117.1 868.4h1.4v1.4h-1.4zM118.2 868.6h1.4v1.4h-1.4zM113.2 878.5h1.4v1.4h-1.4zM118.6 867.0h1.4v1.4h-1.4zM116.5 865.1h1.4v1.4h-1.4zM113.9 870.4h1.4v1.4h-1.4zM116.8 864.5h1.4v1.4h-1.4zM113.7 868.9h1.4v1.4h-1.4zM115.3 865.3h1.4v1.4h-1.4zM111.5 888.6h1.4v1.4h-1.4zM115.5 863.7h1.4v1.4h-1.4zM117.1 864.1h1.4v1.4h-1.4zM110.1 883.0h1.4v1.4h-1.4zM118.2 866.2h1.4v1.4h-1.4zM112.2 875.7h1.4v1.4h-1.4zM120.2 873.0h1.4v1.4h-1.4zM116.7 865.0h1.4v1.4h-1.4zM110.4 876.0h1.4v1.4h-1.4zM117.6 871.6h1.4v1.4h-1.4zM115.0 879.4h1.4v1.4h-1.4zM112.8 878.8h1.4v1.4h-1.4zM117.1 867.8h1.4v1.4h-1.4zM115.3 872.4h1.4v1.4h-1.4zM116.5 866.2h1.4v1.4h-1.4zM114.4 872.7h1.4v1.4h-1.4zM115.1 872.1h1.4v1.4h-1.4zM115.6 870.7h1.4v1.4h-1.4zM113.7 878.0h1.4v1.4h-1.4zM113.3 871.0h1.4v1.4h-1.4zM112.7 866.9h1.4v1.4h-1.4zM116.1 871.3h1.4v1.4h-1.4zM114.7 874.6h1.4v1.4h-1.4zM114.6 875.8h1.4v1.4h-1.4zM119.6 871.9h1.4v1.4h-1.4zM114.3 881.1h1.4v1.4h-1.4zM116.8 862.4h1.4v1.4h-1.4zM118.4 871.7h1.4v1.4h-1.4zM117.2 864.9h1.4v1.4h-1.4zM112.8 869.5h1.4v1.4h-1.4zM116.4 865.4h1.4v1.4h-1.4zM113.2 877.8h1.4v1.4h-1.4zM113.4 873.3h1.4v1.4h-1.4zM112.7 863.9h1.4v1.4h-1.4zM114.8 871.5h1.4v1.4h-1.4zM111.3 878.7h1.4v1.4h-1.4zM117.1 875.8h1.4v1.4h-1.4zM113.7 866.5h1.4v1.4h-1.4zM114.8 873.0h1.4v1.4h-1.4zM114.6 869.1h1.4v1.4h-1.4zM112.5 869.2h1.4v1.4h-1.4zM114.8 869.5h1.4v1.4h-1.4zM119.3 868.7h1.4v1.4h-1.4zM116.2 869.0h1.4v1.4h-1.4zM114.5 867.0h1.4v1.4h-1.4zM113.8 864.6h1.4v1.4h-1.4zM109.7 881.3h1.4v1.4h-1.4zM112.3 875.4h1.4v1.4h-1.4zM114.7 869.1h1.4v1.4h-1.4zM116.9 868.3h1.4v1.4h-1.4zM116.1 869.6h1.4v1.4h-1.4zM117.5 876.0h1.4v1.4h-1.4zM115.2 877.7h1.4v1.4h-1.4zM116.3 879.7h1.4v1.4h-1.4zM114.7 864.0h1.4v1.4h-1.4zM115.5 873.0h1.4v1.4h-1.4zM114.1 871.3h1.4v1.4h-1.4zM114.3 865.7h1.4v1.4h-1.4zM119.4 866.0h1.4v1.4h-1.4zM112.3 864.8h1.4v1.4h-1.4zM112.8 872.7h1.4v1.4h-1.4zM118.8 873.6h1.4v1.4h-1.4zM113.1 866.2h1.4v1.4h-1.4zM112.1 872.8h1.4v1.4h-1.4zM117.2 868.5h1.4v1.4h-1.4zM119.1 880.5h1.4v1.4h-1.4zM115.4 860.4h1.4v1.4h-1.4zM117.8 870.3h1.4v1.4h-1.4zM116.7 876.5h1.4v1.4h-1.4zM112.4 873.4h1.4v1.4h-1.4zM115.4 867.8h1.4v1.4h-1.4zM116.8 870.6h1.4v1.4h-1.4zM114.0 882.3h1.4v1.4h-1.4zM115.4 880.4h1.4v1.4h-1.4zM114.6 877.6h1.4v1.4h-1.4zM113.1 873.6h1.4v1.4h-1.4zM117.7 859.4h1.4v1.4h-1.4zM116.4 870.0h1.4v1.4h-1.4zM117.8 871.8h1.4v1.4h-1.4zM114.8 865.3h1.4v1.4h-1.4zM122.5 864.9h1.4v1.4h-1.4zM114.2 868.5h1.4v1.4h-1.4zM114.2 873.5h1.4v1.4h-1.4zM111.6 879.0h1.4v1.4h-1.4zM114.3 875.4h1.4v1.4h-1.4zM109.6 871.5h1.4v1.4h-1.4zM114.2 870.3h1.4v1.4h-1.4zM113.3 874.3h1.4v1.4h-1.4zM116.0 866.4h1.4v1.4h-1.4zM110.0 877.9h1.4v1.4h-1.4zM114.2 878.0h1.4v1.4h-1.4zM117.2 870.5h1.4v1.4h-1.4zM111.4 871.6h1.4v1.4h-1.4zM113.1 879.3h1.4v1.4h-1.4zM110.7 878.6h1.4v1.4h-1.4zM111.1 870.6h1.4v1.4h-1.4zM111.4 869.8h1.4v1.4h-1.4zM113.9 874.4h1.4v1.4h-1.4zM113.5 876.3h1.4v1.4h-1.4zM119.4 871.0h1.4v1.4h-1.4zM112.1 872.3h1.4v1.4h-1.4zM114.7 870.2h1.4v1.4h-1.4zM117.9 876.8h1.4v1.4h-1.4zM120.1 872.6h1.4v1.4h-1.4zM108.2 874.2h1.4v1.4h-1.4zM116.7 867.0h1.4v1.4h-1.4zM113.5 877.4h1.4v1.4h-1.4zM115.4 865.9h1.4v1.4h-1.4zM113.5 856.4h1.4v1.4h-1.4zM115.0 865.5h1.4v1.4h-1.4zM114.9 865.8h1.4v1.4h-1.4zM112.6 870.3h1.4v1.4h-1.4zM122.1 862.7h1.4v1.4h-1.4zM112.0 870.4h1.4v1.4h-1.4zM117.7 875.1h1.4v1.4h-1.4zM116.7 869.5h1.4v1.4h-1.4zM115.3 867.8h1.4v1.4h-1.4zM114.5 867.9h1.4v1.4h-1.4zM111.3 868.3h1.4v1.4h-1.4zM119.9 872.0h1.4v1.4h-1.4zM113.1 872.2h1.4v1.4h-1.4zM113.8 878.9h1.4v1.4h-1.4zM114.9 868.7h1.4v1.4h-1.4zM116.7 872.9h1.4v1.4h-1.4zM113.2 868.6h1.4v1.4h-1.4zM115.3 863.2h1.4v1.4h-1.4zM112.7 878.3h1.4v1.4h-1.4zM117.2 876.9h1.4v1.4h-1.4zM113.9 869.3h1.4v1.4h-1.4zM114.3 869.8h1.4v1.4h-1.4zM118.2 869.4h1.4v1.4h-1.4zM118.4 866.8h1.4v1.4h-1.4zM115.9 880.1h1.4v1.4h-1.4zM113.1 869.3h1.4v1.4h-1.4zM113.5 864.1h1.4v1.4h-1.4zM114.2 868.9h1.4v1.4h-1.4zM120.6 867.1h1.4v1.4h-1.4zM109.6 879.3h1.4v1.4h-1.4zM117.4 870.8h1.4v1.4h-1.4zM115.7 875.5h1.4v1.4h-1.4zM113.6 872.8h1.4v1.4h-1.4zM115.3 880.6h1.4v1.4h-1.4zM118.6 871.4h1.4v1.4h-1.4zM111.6 878.1h1.4v1.4h-1.4zM114.8 878.2h1.4v1.4h-1.4zM115.1 872.9h1.4v1.4h-1.4zM116.6 867.4h1.4v1.4h-1.4zM113.3 884.8h1.4v1.4h-1.4zM112.8 877.8h1.4v1.4h-1.4zM116.7 875.6h1.4v1.4h-1.4zM118.4 863.5h1.4v1.4h-1.4zM117.4 860.1h1.4v1.4h-1.4zM115.1 873.7h1.4v1.4h-1.4zM117.6 876.6h1.4v1.4h-1.4zM112.6 871.5h1.4v1.4h-1.4zM114.6 868.5h1.4v1.4h-1.4zM112.9 869.4h1.4v1.4h-1.4zM117.9 877.9h1.4v1.4h-1.4zM116.9 880.1h1.4v1.4h-1.4zM115.2 866.2h1.4v1.4h-1.4zM113.3 873.8h1.4v1.4h-1.4zM117.6 877.3h1.4v1.4h-1.4zM112.7 878.0h1.4v1.4h-1.4zM113.6 875.7h1.4v1.4h-1.4zM117.3 878.8h1.4v1.4h-1.4zM113.6 873.8h1.4v1.4h-1.4zM116.1 869.3h1.4v1.4h-1.4zM115.2 875.0h1.4v1.4h-1.4zM110.8 870.4h1.4v1.4h-1.4zM120.8 871.9h1.4v1.4h-1.4zM113.6 862.9h1.4v1.4h-1.4zM112.5 875.8h1.4v1.4h-1.4zM116.7 873.6h1.4v1.4h-1.4zM116.5 868.2h1.4v1.4h-1.4zM119.0 864.4h1.4v1.4h-1.4zM116.3 870.0h1.4v1.4h-1.4zM110.6 878.6h1.4v1.4h-1.4zM114.3 876.1h1.4v1.4h-1.4zM118.2 871.5h1.4v1.4h-1.4zM113.3 871.6h1.4v1.4h-1.4zM114.8 879.7h1.4v1.4h-1.4zM117.1 879.5h1.4v1.4h-1.4zM116.9 867.2h1.4v1.4h-1.4zM117.3 876.1h1.4v1.4h-1.4zM114.7 874.6h1.4v1.4h-1.4zM114.2 865.7h1.4v1.4h-1.4zM114.7 876.1h1.4v1.4h-1.4zM114.1 860.5h1.4v1.4h-1.4zM112.9 878.6h1.4v1.4h-1.4zM115.5 877.7h1.4v1.4h-1.4zM113.1 870.6h1.4v1.4h-1.4zM112.4 869.0h1.4v1.4h-1.4zM116.3 872.2h1.4v1.4h-1.4zM113.7 874.1h1.4v1.4h-1.4zM111.7 871.3h1.4v1.4h-1.4zM111.2 865.7h1.4v1.4h-1.4zM111.5 867.6h1.4v1.4h-1.4zM119.0 877.6h1.4v1.4h-1.4zM118.1 867.6h1.4v1.4h-1.4zM116.5 865.3h1.4v1.4h-1.4zM113.6 873.9h1.4v1.4h-1.4zM110.9 874.8h1.4v1.4h-1.4zM116.5 860.4h1.4v1.4h-1.4zM108.8 873.2h1.4v1.4h-1.4zM114.6 872.9h1.4v1.4h-1.4zM112.1 876.2h1.4v1.4h-1.4zM115.3 868.0h1.4v1.4h-1.4zM119.1 871.6h1.4v1.4h-1.4zM116.8 881.0h1.4v1.4h-1.4zM113.7 871.4h1.4v1.4h-1.4zM110.6 872.7h1.4v1.4h-1.4zM116.1 884.8h1.4v1.4h-1.4zM116.4 872.5h1.4v1.4h-1.4zM111.8 868.8h1.4v1.4h-1.4zM110.3 866.7h1.4v1.4h-1.4zM115.2 873.5h1.4v1.4h-1.4zM112.6 871.8h1.4v1.4h-1.4zM112.9 876.2h1.4v1.4h-1.4zM116.6 868.4h1.4v1.4h-1.4zM113.8 866.0h1.4v1.4h-1.4zM113.8 884.1h1.4v1.4h-1.4zM114.9 876.6h1.4v1.4h-1.4zM116.4 879.2h1.4v1.4h-1.4zM114.1 867.6h1.4v1.4h-1.4zM117.6 875.8h1.4v1.4h-1.4zM113.3 878.5h1.4v1.4h-1.4zM114.9 871.8h1.4v1.4h-1.4zM119.6 872.9h1.4v1.4h-1.4zM115.8 870.0h1.4v1.4h-1.4zM115.5 877.4h1.4v1.4h-1.4zM116.1 867.5h1.4v1.4h-1.4zM116.1 870.9h1.4v1.4h-1.4zM115.7 870.7h1.4v1.4h-1.4zM109.4 865.8h1.4v1.4h-1.4zM114.0 860.7h1.4v1.4h-1.4zM111.1 884.4h1.4v1.4h-1.4zM116.7 868.8h1.4v1.4h-1.4zM115.8 859.7h1.4v1.4h-1.4zM115.6 877.0h1.4v1.4h-1.4zM115.4 864.8h1.4v1.4h-1.4zM117.4 868.1h1.4v1.4h-1.4zM113.5 873.7h1.4v1.4h-1.4zM114.2 883.2h1.4v1.4h-1.4zM114.6 883.6h1.4v1.4h-1.4zM116.1 864.9h1.4v1.4h-1.4zM115.0 872.3h1.4v1.4h-1.4zM118.6 877.3h1.4v1.4h-1.4zM121.4 865.7h1.4v1.4h-1.4zM113.8 884.9h1.4v1.4h-1.4zM112.7 874.9h1.4v1.4h-1.4zM119.0 864.9h1.4v1.4h-1.4zM114.1 868.4h1.4v1.4h-1.4zM116.3 873.6h1.4v1.4h-1.4zM114.9 875.6h1.4v1.4h-1.4zM113.0 870.8h1.4v1.4h-1.4zM116.1 882.3h1.4v1.4h-1.4zM114.9 872.4h1.4v1.4h-1.4zM118.3 871.0h1.4v1.4h-1.4zM118.3 871.9h1.4v1.4h-1.4zM117.9 871.7h1.4v1.4h-1.4zM112.6 868.4h1.4v1.4h-1.4zM116.0 881.6h1.4v1.4h-1.4zM119.7 868.3h1.4v1.4h-1.4zM121.3 863.4h1.4v1.4h-1.4zM112.8 877.9h1.4v1.4h-1.4zM111.1 878.5h1.4v1.4h-1.4zM115.9 875.0h1.4v1.4h-1.4zM111.9 875.4h1.4v1.4h-1.4zM117.3 870.7h1.4v1.4h-1.4zM117.6 871.0h1.4v1.4h-1.4zM115.8 870.0h1.4v1.4h-1.4zM111.5 872.6h1.4v1.4h-1.4zM116.2 867.4h1.4v1.4h-1.4zM110.0 865.8h1.4v1.4h-1.4zM118.3 869.4h1.4v1.4h-1.4zM113.0 879.5h1.4v1.4h-1.4zM114.5 864.1h1.4v1.4h-1.4zM113.8 867.8h1.4v1.4h-1.4zM114.5 867.3h1.4v1.4h-1.4zM115.1 874.4h1.4v1.4h-1.4zM113.5 871.6h1.4v1.4h-1.4zM114.6 876.6h1.4v1.4h-1.4zM113.1 876.8h1.4v1.4h-1.4zM118.1 869.6h1.4v1.4h-1.4zM112.5 871.4h1.4v1.4h-1.4zM110.4 871.0h1.4v1.4h-1.4zM111.9 872.4h1.4v1.4h-1.4zM114.0 875.2h1.4v1.4h-1.4zM115.3 874.2h1.4v1.4h-1.4zM114.8 873.6h1.4v1.4h-1.4zM112.1 876.8h1.4v1.4h-1.4zM118.3 876.6h1.4v1.4h-1.4zM111.5 875.7h1.4v1.4h-1.4zM110.8 877.8h1.4v1.4h-1.4zM114.4 869.8h1.4v1.4h-1.4zM113.1 871.5h1.4v1.4h-1.4zM114.9 866.8h1.4v1.4h-1.4zM115.1 873.3h1.4v1.4h-1.4zM116.3 871.2h1.4v1.4h-1.4zM114.9 884.5h1.4v1.4h-1.4zM117.5 872.7h1.4v1.4h-1.4zM111.4 876.8h1.4v1.4h-1.4zM116.4 857.1h1.4v1.4h-1.4zM114.5 874.2h1.4v1.4h-1.4zM115.1 872.5h1.4v1.4h-1.4zM114.6 879.6h1.4v1.4h-1.4zM115.9 870.1h1.4v1.4h-1.4zM114.4 883.5h1.4v1.4h-1.4zM112.8 870.1h1.4v1.4h-1.4zM115.8 872.5h1.4v1.4h-1.4zM115.7 879.0h1.4v1.4h-1.4zM117.9 873.1h1.4v1.4h-1.4zM115.1 871.6h1.4v1.4h-1.4zM114.4 877.7h1.4v1.4h-1.4zM111.7 867.8h1.4v1.4h-1.4zM113.8 867.3h1.4v1.4h-1.4zM113.1 879.2h1.4v1.4h-1.4zM109.2 877.6h1.4v1.4h-1.4zM111.6 872.1h1.4v1.4h-1.4zM113.5 867.3h1.4v1.4h-1.4zM111.2 874.0h1.4v1.4h-1.4zM107.4 863.8h1.4v1.4h-1.4zM114.0 878.4h1.4v1.4h-1.4zM119.7 868.4h1.4v1.4h-1.4zM112.9 871.4h1.4v1.4h-1.4zM116.2 876.5h1.4v1.4h-1.4zM112.5 875.6h1.4v1.4h-1.4zM114.9 878.2h1.4v1.4h-1.4zM113.9 871.3h1.4v1.4h-1.4zM112.8 865.8h1.4v1.4h-1.4zM115.7 875.6h1.4v1.4h-1.4zM117.9 872.2h1.4v1.4h-1.4zM113.8 867.6h1.4v1.4h-1.4zM112.0 869.4h1.4v1.4h-1.4zM115.8 872.1h1.4v1.4h-1.4zM109.1 874.0h1.4v1.4h-1.4zM114.2 866.7h1.4v1.4h-1.4zM114.9 874.9h1.4v1.4h-1.4zM112.3 865.9h1.4v1.4h-1.4zM114.1 873.8h1.4v1.4h-1.4zM114.3 880.6h1.4v1.4h-1.4zM115.3 866.5h1.4v1.4h-1.4zM117.0 867.7h1.4v1.4h-1.4zM116.7 871.8h1.4v1.4h-1.4zM118.1 865.3h1.4v1.4h-1.4zM116.8 873.5h1.4v1.4h-1.4zM112.6 876.8h1.4v1.4h-1.4zM120.8 871.5h1.4v1.4h-1.4zM113.0 872.0h1.4v1.4h-1.4zM118.3 872.0h1.4v1.4h-1.4zM118.8 866.9h1.4v1.4h-1.4zM118.3 862.1h1.4v1.4h-1.4zM114.5 870.6h1.4v1.4h-1.4zM113.7 879.1h1.4v1.4h-1.4zM113.4 874.6h1.4v1.4h-1.4zM119.7 874.4h1.4v1.4h-1.4zM113.9 868.5h1.4v1.4h-1.4zM109.8 876.2h1.4v1.4h-1.4zM117.3 877.0h1.4v1.4h-1.4zM115.6 883.4h1.4v1.4h-1.4zM117.0 858.7h1.4v1.4h-1.4zM112.7 877.3h1.4v1.4h-1.4zM113.9 877.0h1.4v1.4h-1.4zM121.6 865.1h1.4v1.4h-1.4zM120.7 869.2h1.4v1.4h-1.4zM111.2 874.1h1.4v1.4h-1.4zM117.3 867.9h1.4v1.4h-1.4zM119.1 865.6h1.4v1.4h-1.4zM114.5 877.2h1.4v1.4h-1.4zM114.4 869.2h1.4v1.4h-1.4zM114.9 875.6h1.4v1.4h-1.4zM119.5 877.4h1.4v1.4h-1.4zM119.8 869.8h1.4v1.4h-1.4zM110.7 873.6h1.4v1.4h-1.4zM113.9 867.1h1.4v1.4h-1.4zM113.7 872.2h1.4v1.4h-1.4zM115.1 876.9h1.4v1.4h-1.4zM112.6 879.2h1.4v1.4h-1.4zM115.1 875.9h1.4v1.4h-1.4zM118.2 864.0h1.4v1.4h-1.4zM119.1 866.4h1.4v1.4h-1.4zM116.0 877.4h1.4v1.4h-1.4zM117.4 862.6h1.4v1.4h-1.4zM115.4 878.0h1.4v1.4h-1.4zM114.7 871.7h1.4v1.4h-1.4zM115.2 880.8h1.4v1.4h-1.4zM113.6 867.5h1.4v1.4h-1.4zM112.1 870.4h1.4v1.4h-1.4zM114.4 874.1h1.4v1.4h-1.4zM114.8 862.8h1.4v1.4h-1.4zM110.9 877.4h1.4v1.4h-1.4zM116.9 863.9h1.4v1.4h-1.4zM117.4 857.9h1.4v1.4h-1.4z" fill="#111" fill-opacity="1"/><path d="M127.6 865.1h1.3v1.3h-1.3zM107.7 864.1h1.3v1.3h-1.3zM115.8 852.6h1.3v1.3h-1.3zM114.2 855.3h1.3v1.3h-1.3zM115.5 847.2h1.3v1.3h-1.3zM113.2 864.7h1.3v1.3h-1.3zM118.6 842.0h1.3v1.3h-1.3zM113.5 876.8h1.3v1.3h-1.3zM119.6 877.8h1.3v1.3h-1.3zM109.2 845.5h1.3v1.3h-1.3zM105.2 834.7h1.3v1.3h-1.3zM114.1 845.4h1.3v1.3h-1.3zM110.6 849.6h1.3v1.3h-1.3zM115.1 868.0h1.3v1.3h-1.3zM118.8 836.9h1.3v1.3h-1.3zM123.4 854.0h1.3v1.3h-1.3zM111.0 857.6h1.3v1.3h-1.3zM114.0 841.3h1.3v1.3h-1.3zM123.8 851.0h1.3v1.3h-1.3zM113.0 864.5h1.3v1.3h-1.3zM124.4 863.8h1.3v1.3h-1.3zM111.5 863.3h1.3v1.3h-1.3zM121.5 862.6h1.3v1.3h-1.3zM119.2 852.2h1.3v1.3h-1.3zM115.6 837.8h1.3v1.3h-1.3zM112.4 844.3h1.3v1.3h-1.3zM116.0 876.0h1.3v1.3h-1.3zM104.7 842.1h1.3v1.3h-1.3zM111.3 856.9h1.3v1.3h-1.3zM121.8 848.7h1.3v1.3h-1.3zM112.1 872.6h1.3v1.3h-1.3zM117.9 864.3h1.3v1.3h-1.3zM120.2 849.1h1.3v1.3h-1.3zM117.1 850.1h1.3v1.3h-1.3zM112.4 859.6h1.3v1.3h-1.3zM118.2 842.7h1.3v1.3h-1.3zM112.1 865.3h1.3v1.3h-1.3zM116.8 866.0h1.3v1.3h-1.3zM114.4 848.3h1.3v1.3h-1.3zM119.9 865.2h1.3v1.3h-1.3zM101.8 868.4h1.3v1.3h-1.3zM112.2 866.0h1.3v1.3h-1.3zM123.9 854.6h1.3v1.3h-1.3zM111.1 861.1h1.3v1.3h-1.3zM116.4 864.8h1.3v1.3h-1.3zM109.0 861.0h1.3v1.3h-1.3zM120.5 866.4h1.3v1.3h-1.3zM119.1 872.4h1.3v1.3h-1.3zM111.9 872.7h1.3v1.3h-1.3zM117.0 846.0h1.3v1.3h-1.3zM114.5 861.3h1.3v1.3h-1.3zM117.7 874.3h1.3v1.3h-1.3zM117.0 851.9h1.3v1.3h-1.3zM127.0 854.0h1.3v1.3h-1.3zM111.9 869.2h1.3v1.3h-1.3zM113.9 848.5h1.3v1.3h-1.3zM110.7 872.3h1.3v1.3h-1.3zM110.7 859.2h1.3v1.3h-1.3zM113.7 855.7h1.3v1.3h-1.3zM111.9 859.8h1.3v1.3h-1.3zM119.0 870.7h1.3v1.3h-1.3zM114.2 844.0h1.3v1.3h-1.3zM108.6 858.1h1.3v1.3h-1.3zM103.5 874.0h1.3v1.3h-1.3zM116.1 859.5h1.3v1.3h-1.3zM109.0 850.3h1.3v1.3h-1.3zM112.3 866.2h1.3v1.3h-1.3zM113.9 865.5h1.3v1.3h-1.3zM118.6 834.9h1.3v1.3h-1.3zM114.8 873.2h1.3v1.3h-1.3z" fill="#111" fill-opacity="0.8"/><path d="M80.6 876.1h1.2v1.2h-1.2zM62.7 891.1h1.2v1.2h-1.2zM73.6 890.2h1.2v1.2h-1.2zM71.7 867.2h1.2v1.2h-1.2zM80.7 873.0h1.2v1.2h-1.2zM71.1 866.0h1.2v1.2h-1.2zM64.3 887.3h1.2v1.2h-1.2zM80.5 886.4h1.2v1.2h-1.2zM70.2 889.4h1.2v1.2h-1.2zM77.4 872.6h1.2v1.2h-1.2zM73.1 885.1h1.2v1.2h-1.2zM79.3 872.3h1.2v1.2h-1.2zM65.9 877.0h1.2v1.2h-1.2zM59.1 877.2h1.2v1.2h-1.2zM79.3 884.5h1.2v1.2h-1.2zM61.5 889.4h1.2v1.2h-1.2zM59.7 890.0h1.2v1.2h-1.2zM60.7 869.1h1.2v1.2h-1.2zM64.1 882.5h1.2v1.2h-1.2zM64.6 894.3h1.2v1.2h-1.2zM86.0 875.1h1.2v1.2h-1.2zM80.0 888.3h1.2v1.2h-1.2zM74.0 874.2h1.2v1.2h-1.2zM86.4 896.6h1.2v1.2h-1.2zM56.4 876.6h1.2v1.2h-1.2zM66.3 872.4h1.2v1.2h-1.2zM71.9 829.6h1.2v1.2h-1.2zM54.1 828.1h1.2v1.2h-1.2zM66.6 808.3h1.2v1.2h-1.2zM152.4 821.6h1.2v1.2h-1.2zM127.6 813.8h1.2v1.2h-1.2zM133.2 814.0h1.2v1.2h-1.2zM125.4 870.5h1.2v1.2h-1.2zM137.3 875.6h1.2v1.2h-1.2zM129.2 877.7h1.2v1.2h-1.2zM143.2 882.8h1.2v1.2h-1.2zM130.3 887.9h1.2v1.2h-1.2z" fill="#333" fill-opacity="0.75"/><rect x="52.3" y="803.8" width="105.7" height="97.40000000000009" fill="none" stroke="#777" stroke-width="1.2"/><line x1="99.8" y1="803.8" x2="99.8" y2="901.2" stroke="#111" stroke-width="1.45"/><line x1="52.3" y1="860.8" x2="158" y2="860.8" stroke="#111" stroke-width="1.45"/><line x1="51.8" y1="901.2" x2="158.5" y2="901.2" stroke="#222" stroke-width="1.4"/><line x1="52.8" y1="901.2" x2="52.8" y2="905.4000000000001" stroke="#222" stroke-width="1.3"/><text x="0" y="0" font-size="10.4" fill="#1a1a1a" style="stroke-width:0.4px" transform="translate(48.57 919.10) scale(0.8 1)">10</text><text x="0" y="0" font-size="8.3" fill="#1a1a1a" style="stroke-width:0.35px" transform="translate(58.30 913.80) scale(0.85 1)">0</text><line x1="79.8" y1="901.2" x2="79.8" y2="905.4000000000001" stroke="#222" stroke-width="1.3"/><text x="0" y="0" font-size="10.4" fill="#1a1a1a" style="stroke-width:0.4px" transform="translate(73.87 919.10) scale(0.8 1)">10</text><text x="0" y="0" font-size="8.3" fill="#1a1a1a" style="stroke-width:0.35px" transform="translate(83.60 913.80) scale(0.85 1)">1</text><line x1="105.0" y1="901.2" x2="105.0" y2="905.4000000000001" stroke="#222" stroke-width="1.3"/><text x="0" y="0" font-size="10.4" fill="#1a1a1a" style="stroke-width:0.4px" transform="translate(102.47 919.10) scale(0.8 1)">10</text><text x="0" y="0" font-size="8.3" fill="#1a1a1a" style="stroke-width:0.35px" transform="translate(112.20 913.80) scale(0.85 1)">2</text><line x1="131.0" y1="901.2" x2="131.0" y2="905.4000000000001" stroke="#222" stroke-width="1.3"/><text x="0" y="0" font-size="10.4" fill="#1a1a1a" style="stroke-width:0.4px" transform="translate(126.77 919.10) scale(0.8 1)">10</text><text x="0" y="0" font-size="8.3" fill="#1a1a1a" style="stroke-width:0.35px" transform="translate(136.50 913.80) scale(0.85 1)">3</text><line x1="156.9" y1="901.2" x2="156.9" y2="905.4000000000001" stroke="#222" stroke-width="1.3"/><text x="0" y="0" font-size="10.4" fill="#1a1a1a" style="stroke-width:0.4px" transform="translate(154.77 919.10) scale(0.8 1)">10</text><text x="0" y="0" font-size="8.3" fill="#1a1a1a" style="stroke-width:0.35px" transform="translate(164.50 913.80) scale(0.85 1)">4</text><text x="68.99" y="796.40" font-size="11.82" fill="#111" textLength="64.06" lengthAdjust="spacingAndGlyphs">CD23.CAR</text><text x="111.35" y="898.20" font-size="9.81" fill="#111" textLength="45.07" lengthAdjust="spacingAndGlyphs">R2=23861</text><line x1="239.9" y1="618.9" x2="239.9" y2="819.8" stroke="#aaa" stroke-width="1.2"/><line x1="239.9" y1="819.8" x2="435.5" y2="819.8" stroke="#aaa" stroke-width="1.2"/><line x1="435.5" y1="819.8" x2="435.5" y2="822.8" stroke="#aaa" stroke-width="1.2"/><line x1="237.9" y1="819.8" x2="239.9" y2="819.8" stroke="#aaa" stroke-width="1"/><text x="0" y="0" font-size="10" font-weight="bold" fill="#222" text-anchor="end" transform="translate(234 823.80) scale(0.85 1.18)">0</text><line x1="237.9" y1="779.62" x2="239.9" y2="779.62" stroke="#aaa" stroke-width="1"/><text x="0" y="0" font-size="10" font-weight="bold" fill="#222" text-anchor="end" transform="translate(234 783.62) scale(0.85 1.18)">20</text><line x1="237.9" y1="739.4399999999999" x2="239.9" y2="739.4399999999999" stroke="#aaa" stroke-width="1"/><text x="0" y="0" font-size="10" font-weight="bold" fill="#222" text-anchor="end" transform="translate(234 743.44) scale(0.85 1.18)">40</text><line x1="237.9" y1="699.26" x2="239.9" y2="699.26" stroke="#aaa" stroke-width="1"/><text x="0" y="0" font-size="10" font-weight="bold" fill="#222" text-anchor="end" transform="translate(234 703.26) scale(0.85 1.18)">60</text><line x1="237.9" y1="659.0799999999999" x2="239.9" y2="659.0799999999999" stroke="#aaa" stroke-width="1"/><text x="0" y="0" font-size="10" font-weight="bold" fill="#222" text-anchor="end" transform="translate(234 663.08) scale(0.85 1.18)">80</text><line x1="237.9" y1="618.9" x2="239.9" y2="618.9" stroke="#aaa" stroke-width="1"/><text x="0" y="0" font-size="10" font-weight="bold" fill="#222" text-anchor="end" transform="translate(234 622.90) scale(0.85 1.18)">100</text><text x="0" y="0" font-size="12.49" fill="#111" textLength="103.81" lengthAdjust="spacingAndGlyphs" transform="translate(205.30 775.80) rotate(-90)">% specific lysis</text><line x1="294.0" y1="759.6" x2="294.0" y2="762.3" stroke="#333" stroke-width="1"/><line x1="292.8" y1="759.6" x2="295.2" y2="759.6" stroke="#333" stroke-width="1.2"/><rect x="272.2" y="762.3" width="43.6" height="57.5" fill="#fff" stroke="#222" stroke-width="1"/><line x1="337.2" y1="660.0" x2="337.2" y2="662.3" stroke="#333" stroke-width="1"/><line x1="336.0" y1="660.0" x2="338.4" y2="660.0" stroke="#333" stroke-width="1.2"/><rect x="315.4" y="662.3" width="43.6" height="157.5" fill="#fff"/><clipPath id="c5"><rect x="315.4" y="662.3" width="43.6" height="157.5"/></clipPath><path clip-path="url(#c5)" d="M173.38 887.61L397.12 529.56M175.46 888.91L399.19 530.86M177.54 890.21L401.27 532.16M179.62 891.51L403.35 533.46M181.69 892.80L405.43 534.76M183.77 894.10L407.50 536.06M185.85 895.40L409.58 537.35M187.93 896.70L411.66 538.65M190.01 898.00L413.74 539.95M192.08 899.30L415.82 541.25M194.16 900.59L417.89 542.55M196.24 901.89L419.97 543.85M198.32 903.19L422.05 545.14M200.39 904.49L424.13 546.44M202.47 905.79L426.20 547.74M204.55 907.09L428.28 549.04M206.63 908.38L430.36 550.34M208.71 909.68L432.44 551.64M210.78 910.98L434.51 552.93M212.86 912.28L436.59 554.23M214.94 913.58L438.67 555.53M217.02 914.88L440.75 556.83M219.09 916.17L442.83 558.13M221.17 917.47L444.90 559.43M223.25 918.77L446.98 560.72M225.33 920.07L449.06 562.02M227.40 921.37L451.14 563.32M229.48 922.67L453.21 564.62M231.56 923.96L455.29 565.92M233.64 925.26L457.37 567.22M235.72 926.56L459.45 568.51M237.79 927.86L461.53 569.81M239.87 929.16L463.60 571.11M241.95 930.45L465.68 572.41M244.03 931.75L467.76 573.71M246.10 933.05L469.84 575.01M248.18 934.35L471.91 576.30M250.26 935.65L473.99 577.60M252.34 936.95L476.07 578.90M254.41 938.24L478.15 580.20M256.49 939.54L480.22 581.50M258.57 940.84L482.30 582.80M260.65 942.14L484.38 584.09M262.73 943.44L486.46 585.39M264.80 944.74L488.54 586.69M266.88 946.03L490.61 587.99M268.96 947.33L492.69 589.29M271.04 948.63L494.77 590.59M273.11 949.93L496.85 591.88M275.19 951.23L498.92 593.18M277.27 952.53L501.00 594.48" stroke="#111" stroke-width="1.2" fill="none"/><rect x="315.4" y="662.3" width="43.6" height="157.5" fill="none" stroke="#222" stroke-width="1"/><line x1="381.0" y1="746.6" x2="381.0" y2="751.4" stroke="#333" stroke-width="1"/><line x1="379.8" y1="746.6" x2="382.2" y2="746.6" stroke="#333" stroke-width="1.2"/><rect x="359.2" y="751.4" width="43.6" height="68.39999999999998" fill="#000" stroke="#222" stroke-width="1"/><rect x="438.5" y="665.7" width="8.8" height="7.2" fill="#fff" stroke="#111" stroke-width="1"/><text x="454.88" y="673.20" font-size="12.43" fill="#111" textLength="15.74" lengthAdjust="spacingAndGlyphs">NT</text><rect x="438.5" y="680.6" width="8.8" height="7.2" fill="url(#hL)" stroke="#111" stroke-width="1"/><text x="455.26" y="689.30" font-size="12.25" fill="#111" textLength="57.63" lengthAdjust="spacingAndGlyphs">CD19.CAR</text><rect x="438.5" y="699.1" width="8.8" height="7.2" fill="#000" stroke="#111" stroke-width="1"/><text x="455.26" y="706.90" font-size="12.25" fill="#111" textLength="57.63" lengthAdjust="spacingAndGlyphs">CD23.CAR</text><text x="290.88" y="850.70" font-size="12.49" fill="#111" textLength="76.00" lengthAdjust="spacingAndGlyphs">E:T Ratio 3:1</text>
</svg>
</body></html>
